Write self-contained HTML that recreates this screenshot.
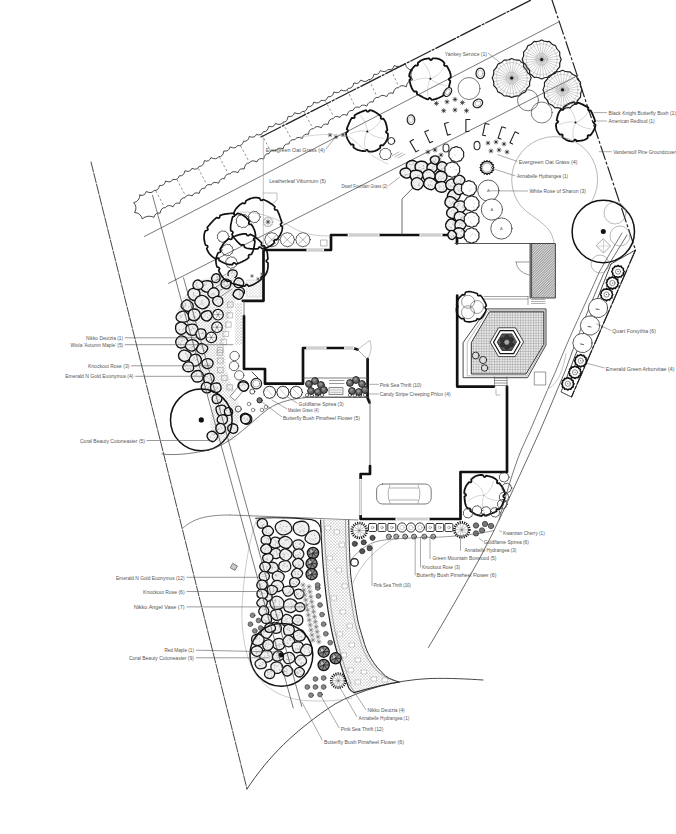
<!DOCTYPE html>
<html><head><meta charset="utf-8"><style>
html,body{margin:0;padding:0;background:#fff;}
svg{display:block;font-family:"Liberation Sans",sans-serif;}
</style></head><body>
<svg width="676" height="834" viewBox="0 0 676 834" stroke-linecap="round" stroke-linejoin="round">
<rect width="676" height="834" fill="#fff"/>
<line x1="91.0" y1="162.0" x2="247.0" y2="789.0" stroke="#333" stroke-width="0.9" stroke-dasharray="10 1.5"/>
<path d="M247,789 C268,757 295,730 335,704 C360,690 395,680 430,678.5 C450,678 468,679 483,680" stroke="#333" stroke-width="0.9" fill="none"/>
<line x1="261.0" y1="137.0" x2="531.0" y2="0.0" stroke="#222" stroke-width="1.3" stroke-dasharray="22 2 2 2"/>
<line x1="552.0" y1="0.0" x2="635.5" y2="250.0" stroke="#222" stroke-width="1.2" stroke-dasharray="14 3 2 3"/>
<line x1="144.4" y1="236.5" x2="558.6" y2="22.0" stroke="#555" stroke-width="0.8"/>
<line x1="168.5" y1="283.4" x2="578.0" y2="75.5" stroke="#555" stroke-width="0.8"/>
<path d="M627,235 C618,250 610,262 603.6,273.7 C590,305 578,335 565.6,370 C555,395 543,425 531.3,450 C515,485 498,525 478.8,560 C462,590 445,620 428.4,647.5" stroke="#444" stroke-width="0.8" fill="none"/>
<path d="M622,233 C613,248 606,260 599.2,272.2 C585,305 570,335 556.2,370 C545,395 533,425 521.2,450 C513,470 506,495 499,520" stroke="#555" stroke-width="0.8" fill="none"/>
<line x1="635.5" y1="250.0" x2="571.5" y2="397.0" stroke="#222" stroke-width="1.2" stroke-dasharray="14 3 2 3"/>
<polyline points="242.8,300.8 263.5,300.8 263.5,250.0 331.0,250.0 331.0,235.0 457.0,235.0 457.0,243.5" stroke="#111" stroke-width="2.7" fill="none"/>
<polyline points="244.0,316.0 244.0,369.0 265.0,369.0 265.0,383.7 303.0,383.7 303.0,348.0 352.8,348.0 357.5,349.5" stroke="#111" stroke-width="2.7" fill="none"/>
<line x1="244.0" y1="301.0" x2="244.0" y2="316.0" stroke="#555" stroke-width="0.8"/>
<polyline points="367.6,359.0 367.6,398.0 369.5,402.5" stroke="#111" stroke-width="2.7" fill="none"/>
<line x1="357.5" y1="349.5" x2="367.0" y2="359.0" stroke="#777" stroke-width="0.6"/>
<path d="M357.5,349.5 L370,340.4 Q373,350 368,358" stroke="#888" stroke-width="0.5" fill="none"/>
<line x1="370.0" y1="400.0" x2="370.0" y2="466.0" stroke="#555" stroke-width="0.8"/>
<polyline points="370.0,466.0 370.0,474.0 360.6,474.0 360.6,519.0 396.0,519.0" stroke="#111" stroke-width="2.7" fill="none"/>
<polyline points="428.8,519.0 460.5,519.0 460.5,472.0 507.0,472.0 507.0,386.6" stroke="#111" stroke-width="2.7" fill="none"/>
<polyline points="457.2,295.6 457.2,386.6 494.0,386.6" stroke="#111" stroke-width="2.7" fill="none"/>
<line x1="349.2" y1="235" x2="378" y2="235" stroke="#fff" stroke-width="3.4"/>
<line x1="349.2" y1="234.2" x2="378.0" y2="234.2" stroke="#777" stroke-width="0.5"/>
<line x1="349.2" y1="235.8" x2="378.0" y2="235.8" stroke="#777" stroke-width="0.5"/>
<line x1="421" y1="235" x2="441" y2="235" stroke="#fff" stroke-width="3.4"/>
<line x1="421.0" y1="234.2" x2="441.0" y2="234.2" stroke="#777" stroke-width="0.5"/>
<line x1="421.0" y1="235.8" x2="441.0" y2="235.8" stroke="#777" stroke-width="0.5"/>
<line x1="308" y1="250" x2="322.5" y2="250" stroke="#fff" stroke-width="3.4"/>
<line x1="308.0" y1="249.2" x2="322.5" y2="249.2" stroke="#777" stroke-width="0.5"/>
<line x1="308.0" y1="250.8" x2="322.5" y2="250.8" stroke="#777" stroke-width="0.5"/>
<line x1="307.8" y1="348" x2="325" y2="348" stroke="#fff" stroke-width="3.4"/>
<line x1="307.8" y1="347.2" x2="325.0" y2="347.2" stroke="#777" stroke-width="0.5"/>
<line x1="307.8" y1="348.8" x2="325.0" y2="348.8" stroke="#777" stroke-width="0.5"/>
<line x1="345.7" y1="348" x2="352.8" y2="348" stroke="#fff" stroke-width="3.4"/>
<line x1="345.7" y1="347.2" x2="352.8" y2="347.2" stroke="#777" stroke-width="0.5"/>
<line x1="345.7" y1="348.8" x2="352.8" y2="348.8" stroke="#777" stroke-width="0.5"/>
<line x1="397" y1="519" x2="428" y2="519" stroke="#fff" stroke-width="3.4"/>
<line x1="397.0" y1="518.2" x2="428.0" y2="518.2" stroke="#777" stroke-width="0.5"/>
<line x1="397.0" y1="519.8" x2="428.0" y2="519.8" stroke="#777" stroke-width="0.5"/>
<line x1="360.5" y1="480.5" x2="360.5" y2="513.5" stroke="#fff" stroke-width="3.4"/>
<line x1="359.7" y1="480.5" x2="359.7" y2="513.5" stroke="#777" stroke-width="0.5"/>
<line x1="361.3" y1="480.5" x2="361.3" y2="513.5" stroke="#777" stroke-width="0.5"/>
<line x1="530.0" y1="243.5" x2="530.0" y2="298.0" stroke="#444" stroke-width="0.9"/>
<line x1="455.0" y1="243.5" x2="532.0" y2="243.5" stroke="#444" stroke-width="0.9"/>
<path d="M516,262 L529,262 M516,262 Q517,272 529,275" stroke="#555" stroke-width="0.6" fill="none"/>
<defs><pattern id="hat" width="1.8" height="1.8" patternUnits="userSpaceOnUse" patternTransform="rotate(45)"><rect width="1.8" height="1.8" fill="#ddd"/><line x1="0" y1="0" x2="0" y2="1.8" stroke="#444" stroke-width="0.8"/></pattern><pattern id="grid" width="2.6" height="2.6" patternUnits="userSpaceOnUse"><rect width="2.6" height="2.6" fill="#e8e8e8"/><path d="M0,0 H2.6 M0,0 V2.6" stroke="#777" stroke-width="0.6"/></pattern><pattern id="stip" width="3" height="3" patternUnits="userSpaceOnUse"><rect width="3" height="3" fill="#fff"/><circle cx="1" cy="1" r="0.55" fill="#777"/><circle cx="2.5" cy="2.4" r="0.45" fill="#888"/></pattern></defs>
<rect x="532" y="243.5" width="23.4" height="54.5" fill="url(#hat)" stroke="#333" stroke-width="0.9"/>
<polygon points="489.8,311.8 543.8,311.8 543.8,344.4 526.0,374.0 471.3,374.0 471.3,342.9" stroke="#333" stroke-width="1.0" fill="url(#grid)"/>
<polygon points="487.5,308.9 546.0,308.9 546.0,345.0 527.5,377.7 463.1,377.7 463.1,343.0" stroke="#333" stroke-width="0.9" fill="none"/>
<polygon points="488.6,310.3 544.9,310.3 544.9,344.7 526.8,375.9 467.2,375.9 467.2,343.0" stroke="#777" stroke-width="0.5" fill="none"/>
<polygon points="523.4,342.2 515.1,356.6 498.5,356.6 490.2,342.2 498.5,327.8 515.1,327.8" stroke="#333" stroke-width="0.9" fill="#fff"/>
<polygon points="520.1,342.2 513.5,353.7 500.2,353.7 493.5,342.2 500.1,330.7 513.5,330.7" stroke="#111" stroke-width="1.2" fill="#fff"/>
<polygon points="516.4,342.2 511.6,350.5 502.0,350.5 497.2,342.2 502.0,333.9 511.6,333.9" stroke="#222" stroke-width="0.8" fill="#555"/>
<circle cx="511.2" cy="344.6" r="2.2" stroke="#222" stroke-width="0.6" fill="#333"/>
<circle cx="506.9" cy="347.2" r="2.2" stroke="#222" stroke-width="0.6" fill="#333"/>
<circle cx="502.5" cy="344.8" r="2.2" stroke="#222" stroke-width="0.6" fill="#333"/>
<circle cx="502.4" cy="339.8" r="2.2" stroke="#222" stroke-width="0.6" fill="#333"/>
<circle cx="506.7" cy="337.2" r="2.2" stroke="#222" stroke-width="0.6" fill="#333"/>
<circle cx="511.1" cy="339.6" r="2.2" stroke="#222" stroke-width="0.6" fill="#333"/>
<circle cx="506.8" cy="342.2" r="2.2" stroke="#999" stroke-width="0.5" fill="#aaa"/>
<line x1="494.5" y1="378.0" x2="507.0" y2="378.0" stroke="#555" stroke-width="0.6"/>
<line x1="494.5" y1="380.5" x2="507.0" y2="380.5" stroke="#555" stroke-width="0.6"/>
<line x1="494.5" y1="383.0" x2="507.0" y2="383.0" stroke="#555" stroke-width="0.6"/>
<line x1="494.5" y1="385.5" x2="507.0" y2="385.5" stroke="#555" stroke-width="0.6"/>
<line x1="494.5" y1="377.0" x2="494.5" y2="387.0" stroke="#555" stroke-width="0.6"/>
<line x1="507.0" y1="377.0" x2="507.0" y2="387.0" stroke="#555" stroke-width="0.6"/>
<path d="M496,389 L496,395 L500,395" stroke="#777" stroke-width="0.5" fill="none"/>
<rect x="534.7" y="372" width="11" height="13" fill="none" stroke="#555" stroke-width="0.6"/>
<path d="M485.1,307.0 L485.1,308.1 L486.3,309.3 L486.0,310.4 L485.6,311.5 L485.1,312.5 L484.6,313.5 L484.1,314.5 L483.5,315.5 L482.8,316.4 L482.1,317.3 L481.3,318.1 L480.4,318.8 L479.4,319.4 L477.7,318.7 L476.8,319.0 L476.3,320.5 L475.3,320.8 L474.2,321.0 L473.2,321.3 L472.1,321.5 L471.0,321.7 L469.9,321.9 L468.8,321.9 L467.6,321.8 L466.5,321.6 L465.4,321.2 L464.4,320.7 L464.1,319.0 L463.2,318.4 L461.6,318.8 L460.7,318.1 L459.8,317.4 L459.0,316.6 L458.2,315.7 L457.6,314.7 L457.1,313.7 L456.7,312.6 L456.5,311.5 L456.4,310.3 L456.4,309.2 L456.4,308.1 L457.8,307.0 L457.9,306.0 L456.6,304.8 L456.7,303.7 L456.9,302.7 L457.2,301.6 L457.6,300.5 L458.1,299.5 L458.7,298.6 L459.4,297.7 L460.1,296.9 L460.9,296.1 L461.7,295.3 L462.5,294.6 L464.1,295.0 L464.9,294.4 L465.3,292.6 L466.4,292.1 L467.5,291.8 L468.7,291.6 L469.8,291.6 L471.0,291.7 L472.1,292.0 L473.2,292.2 L474.3,292.6 L475.4,292.9 L476.4,293.3 L477.4,293.7 L477.7,295.3 L478.6,295.8 L480.3,295.4 L481.1,296.1 L481.8,297.0 L482.4,297.9 L483.0,298.8 L483.6,299.7 L484.1,300.7 L484.7,301.6 L485.2,302.6 L485.7,303.7 L486.1,304.7 L486.4,305.8Z" stroke="#111" stroke-width="1.6" fill="none"/>
<circle cx="477.0" cy="307.0" r="6.5" stroke="#555" stroke-width="0.6" fill="none"/>
<circle cx="468.0" cy="312.2" r="6.5" stroke="#555" stroke-width="0.6" fill="none"/>
<circle cx="468.1" cy="301.8" r="6.5" stroke="#555" stroke-width="0.6" fill="none"/>
<circle cx="475.7" cy="355.5" r="3.4" stroke="#222" stroke-width="0.9" fill="#ddd"/>
<circle cx="483.1" cy="360.0" r="3.6" stroke="#222" stroke-width="0.9" fill="#ddd"/>
<circle cx="484.6" cy="368.0" r="3.2" stroke="#222" stroke-width="0.9" fill="#ddd"/>
<rect x="376.6" y="484" width="54.6" height="20" rx="6" fill="none" stroke="#444" stroke-width="0.7"/>
<path d="M390,485 Q386,494 390,503 M418,485 Q422,494 418,503 M390,488 L418,488 M390,500 L418,500" stroke="#666" stroke-width="0.5" fill="none"/>
<path d="M140.0,195.1 Q144.8,196.5 146.3,191.5 Q151.9,194.2 154.0,190.4 Q158.5,191.1 159.6,185.4 Q164.3,186.4 165.6,181.0 Q170.9,183.4 172.9,179.3 Q177.8,180.8 179.3,175.8 Q183.8,176.5 184.9,170.8 Q190.1,172.7 191.9,168.4 Q197.2,170.6 199.1,166.4 Q203.4,166.7 204.4,160.7 Q209.3,162.3 210.9,157.6 Q216.5,160.3 218.7,156.7 Q223.0,157.0 223.9,150.9 Q228.7,152.1 230.0,146.9 Q235.5,149.4 237.6,145.5 Q242.3,146.6 243.5,141.2 Q248.1,142.0 249.3,136.5 Q254.6,138.6 256.5,134.4 Q261.6,136.2 263.3,131.7 Q267.7,132.1 268.7,126.3 Q273.7,128.0 275.4,123.4 Q280.9,126.0 283.0,122.2 Q287.3,122.4 288.1,116.3 Q293.0,117.6 294.5,112.7 Q300.0,115.2 302.1,111.5 Q306.6,112.2 307.7,106.5 Q312.4,107.5 313.7,102.1 Q319.0,104.4 321.0,100.3 Q326.3,101.7 328.1,96.7 Q332.5,97.6 333.9,91.9 Q339.0,94.2 341.0,89.9 Q346.2,92.4 348.3,88.3 Q352.6,88.9 353.9,82.9 Q358.8,84.8 360.6,80.1 Q366.0,83.1 368.4,79.6 Q372.7,80.1 374.0,74.2 Q378.6,75.6 380.3,70.5 Q385.6,73.2 387.9,69.5 Q392.5,70.8 394.1,65.6 Q400.1,68.2 405.3,63.7 Q406.4,69.6 412.4,70.2 Q409.0,75.2 412.8,79.8 Q406.9,80.9 406.3,86.9 Q400.9,84.0 398.6,87.7 Q394.4,87.2 393.2,93.3 Q388.4,91.7 386.7,96.6 Q381.3,93.7 379.0,97.4 Q374.5,96.4 373.1,102.0 Q368.5,100.8 366.9,106.1 Q361.7,103.5 359.5,107.4 Q354.7,105.7 352.9,110.5 Q348.4,109.6 347.1,115.3 Q342.0,113.1 340.0,117.4 Q335.1,114.8 333.2,118.7 Q328.9,118.4 328.0,124.4 Q323.0,122.9 321.4,127.7 Q315.9,125.0 313.7,128.7 Q309.3,128.3 308.4,134.3 Q303.7,133.2 302.3,138.4 Q296.9,135.9 294.8,139.8 Q290.1,138.7 288.8,144.0 Q284.2,143.2 283.1,148.8 Q277.8,146.7 275.9,150.9 Q270.8,149.1 269.0,153.6 Q264.7,153.1 263.7,159.0 Q258.6,157.3 256.9,161.9 Q251.4,159.3 249.3,163.0 Q245.0,162.8 244.2,169.0 Q239.3,167.7 237.9,172.7 Q232.3,170.1 230.2,173.9 Q225.7,173.1 224.5,178.7 Q219.9,177.8 218.6,183.2 Q213.2,180.9 211.3,184.9 Q206.3,183.4 204.8,188.3 Q200.3,187.7 199.2,193.4 Q194.1,191.5 192.3,195.9 Q186.9,193.6 185.0,197.7 Q180.7,197.4 179.7,203.4 Q174.8,201.9 173.2,206.7 Q167.7,204.0 165.5,207.6 Q161.1,207.2 160.1,213.2 Q155.4,212.1 154.0,217.3 Q147.5,214.5 142.2,218.8 Q140.7,212.9 134.6,212.5 Q137.7,207.3 133.7,202.7 Q139.6,201.2 140.0,195.1Z" stroke="#2a2a2a" stroke-width="0.85" fill="none"/>
<line x1="156.0" y1="191.2" x2="164.3" y2="206.8" stroke="#444" stroke-width="0.6" stroke-dasharray="1.5 3"/>
<line x1="177.2" y1="180.0" x2="185.5" y2="195.6" stroke="#444" stroke-width="0.6" stroke-dasharray="1.5 3"/>
<line x1="198.4" y1="168.8" x2="206.7" y2="184.3" stroke="#444" stroke-width="0.6" stroke-dasharray="1.5 3"/>
<line x1="219.6" y1="157.5" x2="227.9" y2="173.1" stroke="#444" stroke-width="0.6" stroke-dasharray="1.5 3"/>
<line x1="240.8" y1="146.2" x2="249.1" y2="161.8" stroke="#444" stroke-width="0.6" stroke-dasharray="1.5 3"/>
<line x1="261.9" y1="134.9" x2="270.3" y2="150.4" stroke="#444" stroke-width="0.6" stroke-dasharray="1.5 3"/>
<line x1="283.1" y1="123.6" x2="291.4" y2="139.1" stroke="#444" stroke-width="0.6" stroke-dasharray="1.5 3"/>
<line x1="304.3" y1="112.3" x2="312.6" y2="127.8" stroke="#444" stroke-width="0.6" stroke-dasharray="1.5 3"/>
<line x1="325.4" y1="101.0" x2="333.7" y2="116.5" stroke="#444" stroke-width="0.6" stroke-dasharray="1.5 3"/>
<line x1="347.6" y1="90.6" x2="355.0" y2="106.6" stroke="#444" stroke-width="0.6" stroke-dasharray="1.5 3"/>
<line x1="369.4" y1="80.5" x2="376.8" y2="96.4" stroke="#444" stroke-width="0.6" stroke-dasharray="1.5 3"/>
<line x1="391.2" y1="70.4" x2="398.6" y2="86.3" stroke="#444" stroke-width="0.6" stroke-dasharray="1.5 3"/>
<path d="M449.0,78.7 L448.9,79.7 L450.3,80.9 L450.1,82.0 L449.9,83.1 L449.6,84.2 L449.4,85.3 L449.1,86.5 L448.9,87.6 L448.5,88.7 L448.1,89.8 L447.6,90.9 L447.0,91.9 L446.3,92.9 L444.3,92.6 L443.5,93.4 L443.6,95.3 L442.6,95.9 L441.6,96.5 L440.5,97.0 L439.5,97.5 L438.4,98.0 L437.3,98.4 L436.2,98.8 L435.1,99.2 L433.9,99.5 L432.8,99.7 L431.6,99.8 L430.4,98.2 L429.3,98.0 L428.1,99.4 L426.9,99.1 L425.8,98.7 L424.8,98.2 L423.8,97.7 L422.8,97.2 L421.8,96.6 L420.8,96.1 L419.8,95.6 L418.8,95.0 L417.8,94.5 L416.9,93.9 L417.0,92.1 L416.2,91.4 L414.2,91.6 L413.4,90.7 L412.7,89.8 L412.2,88.8 L411.6,87.7 L411.2,86.7 L410.8,85.6 L410.5,84.4 L410.2,83.3 L409.9,82.2 L409.6,81.0 L409.4,79.9 L410.8,78.7 L410.7,77.6 L409.2,76.3 L409.3,75.1 L409.5,73.9 L409.9,72.8 L410.3,71.7 L410.9,70.6 L411.6,69.6 L412.3,68.7 L413.0,67.8 L413.8,66.9 L414.6,66.1 L415.4,65.3 L417.3,65.6 L418.0,64.9 L417.8,62.9 L418.7,62.2 L419.6,61.5 L420.5,60.8 L421.5,60.2 L422.6,59.8 L423.6,59.4 L424.7,59.0 L425.9,58.8 L427.0,58.6 L428.1,58.5 L429.3,58.4 L430.4,60.0 L431.5,59.9 L432.7,58.3 L433.9,58.3 L435.1,58.3 L436.2,58.4 L437.4,58.6 L438.6,58.9 L439.7,59.3 L440.8,59.9 L441.8,60.5 L442.8,61.3 L443.6,62.1 L444.4,63.0 L444.1,65.0 L444.7,65.9 L446.6,65.8 L447.2,66.8 L447.8,67.8 L448.4,68.8 L448.9,69.8 L449.4,70.8 L449.9,71.9 L450.2,73.0 L450.5,74.1 L450.7,75.3 L450.8,76.4 L450.7,77.6Z" stroke="#111" stroke-width="1.8" fill="none"/>
<path d="M430.4,78.7 Q436.2,84.6 446.6,85.6" stroke="#999" stroke-width="0.4" fill="none"/>
<path d="M430.4,78.7 Q426.2,85.8 428.1,96.1" stroke="#999" stroke-width="0.4" fill="none"/>
<path d="M430.4,78.7 Q422.4,76.6 413.0,81.2" stroke="#999" stroke-width="0.4" fill="none"/>
<path d="M430.4,78.7 Q430.3,70.4 423.3,62.6" stroke="#999" stroke-width="0.4" fill="none"/>
<path d="M430.4,78.7 Q438.4,76.4 444.0,67.6" stroke="#999" stroke-width="0.4" fill="none"/>
<circle cx="430.4" cy="78.7" r="1.0" fill="#111"/>
<path d="M386.0,131.5 L386.2,132.6 L387.9,133.8 L387.9,135.0 L387.9,136.2 L387.7,137.4 L387.4,138.5 L387.0,139.7 L386.5,140.8 L385.9,141.8 L385.2,142.8 L384.5,143.7 L383.7,144.6 L382.9,145.4 L380.9,145.1 L380.1,145.9 L380.3,147.8 L379.4,148.6 L378.4,149.2 L377.5,149.9 L376.4,150.4 L375.3,150.9 L374.2,151.2 L373.1,151.5 L371.9,151.6 L370.7,151.7 L369.6,151.7 L368.4,151.6 L367.3,149.9 L366.3,149.8 L365.1,151.2 L364.0,151.1 L362.8,151.0 L361.7,150.9 L360.6,150.7 L359.5,150.4 L358.3,150.1 L357.2,149.7 L356.2,149.2 L355.2,148.6 L354.2,147.9 L353.4,147.1 L353.7,145.1 L352.9,144.3 L351.0,144.5 L350.3,143.5 L349.6,142.6 L349.0,141.6 L348.4,140.6 L347.8,139.6 L347.3,138.5 L346.8,137.4 L346.5,136.3 L346.2,135.1 L346.1,133.9 L346.1,132.7 L347.8,131.5 L348.0,130.4 L346.7,129.2 L347.1,128.1 L347.5,127.0 L347.9,125.9 L348.4,124.9 L348.8,123.8 L349.2,122.8 L349.7,121.8 L350.2,120.7 L350.7,119.7 L351.3,118.8 L352.0,117.8 L353.9,118.1 L354.7,117.4 L354.5,115.4 L355.4,114.8 L356.4,114.2 L357.4,113.6 L358.5,113.1 L359.5,112.6 L360.5,112.2 L361.6,111.7 L362.7,111.3 L363.8,110.9 L364.9,110.5 L366.1,110.2 L367.3,111.7 L368.4,111.6 L369.7,110.1 L370.9,110.3 L372.1,110.6 L373.2,111.1 L374.3,111.6 L375.3,112.2 L376.3,112.8 L377.3,113.5 L378.2,114.1 L379.1,114.8 L380.0,115.5 L380.9,116.2 L380.7,118.1 L381.4,118.9 L383.4,118.7 L384.1,119.6 L384.7,120.6 L385.2,121.6 L385.7,122.7 L386.0,123.7 L386.3,124.8 L386.6,125.9 L386.8,127.0 L387.0,128.1 L387.2,129.3 L387.4,130.4Z" stroke="#111" stroke-width="1.8" fill="none"/>
<path d="M367.3,131.5 Q373.1,137.4 383.5,138.4" stroke="#999" stroke-width="0.4" fill="none"/>
<path d="M367.3,131.5 Q363.1,138.6 365.0,148.9" stroke="#999" stroke-width="0.4" fill="none"/>
<path d="M367.3,131.5 Q359.3,129.4 349.9,134.0" stroke="#999" stroke-width="0.4" fill="none"/>
<path d="M367.3,131.5 Q367.2,123.2 360.2,115.4" stroke="#999" stroke-width="0.4" fill="none"/>
<path d="M367.3,131.5 Q375.3,129.2 380.9,120.4" stroke="#999" stroke-width="0.4" fill="none"/>
<circle cx="367.3" cy="131.5" r="1.0" fill="#111"/>
<path d="M593.7,122.4 L593.9,123.4 L595.5,124.6 L595.4,125.8 L595.1,126.9 L594.8,128.0 L594.4,129.0 L593.9,130.0 L593.3,131.0 L592.8,131.9 L592.1,132.9 L591.5,133.8 L590.8,134.6 L590.1,135.5 L588.3,135.2 L587.6,135.9 L587.8,137.8 L586.9,138.5 L586.0,139.1 L585.0,139.6 L584.0,140.0 L582.9,140.3 L581.8,140.5 L580.8,140.7 L579.7,140.8 L578.6,140.9 L577.6,141.0 L576.6,141.1 L575.5,139.6 L574.5,139.7 L573.4,141.4 L572.3,141.4 L571.2,141.3 L570.1,141.2 L569.0,141.0 L567.9,140.6 L566.9,140.2 L565.9,139.7 L565.0,139.1 L564.1,138.5 L563.2,137.8 L562.4,137.0 L562.7,135.2 L562.0,134.4 L560.1,134.7 L559.3,133.9 L558.6,133.0 L558.0,132.1 L557.4,131.1 L556.9,130.1 L556.5,129.0 L556.3,127.9 L556.1,126.8 L556.0,125.7 L556.1,124.6 L556.2,123.5 L557.9,122.4 L558.1,121.4 L556.7,120.3 L556.9,119.2 L557.1,118.2 L557.3,117.2 L557.6,116.1 L557.9,115.1 L558.2,114.1 L558.6,113.1 L559.1,112.1 L559.7,111.2 L560.3,110.3 L561.1,109.5 L563.0,109.9 L563.7,109.2 L563.5,107.3 L564.4,106.7 L565.2,106.0 L566.1,105.4 L567.0,104.8 L568.0,104.2 L568.9,103.7 L570.0,103.2 L571.0,102.8 L572.1,102.5 L573.2,102.3 L574.4,102.2 L575.5,103.8 L576.5,103.9 L577.7,102.6 L578.8,102.9 L579.9,103.3 L580.9,103.7 L581.9,104.2 L582.9,104.6 L583.8,105.1 L584.8,105.6 L585.7,106.1 L586.7,106.7 L587.6,107.3 L588.4,108.0 L588.1,109.8 L588.7,110.6 L590.6,110.4 L591.1,111.3 L591.6,112.3 L592.1,113.2 L592.5,114.2 L592.9,115.2 L593.3,116.2 L593.7,117.1 L594.1,118.2 L594.5,119.2 L594.8,120.2 L595.1,121.3Z" stroke="#111" stroke-width="1.8" fill="none"/>
<path d="M575.5,122.4 Q580.9,128.0 590.8,128.9" stroke="#999" stroke-width="0.4" fill="none"/>
<path d="M575.5,122.4 Q571.6,129.1 573.4,138.8" stroke="#999" stroke-width="0.4" fill="none"/>
<path d="M575.5,122.4 Q568.0,120.4 559.1,124.7" stroke="#999" stroke-width="0.4" fill="none"/>
<path d="M575.5,122.4 Q575.4,114.6 568.9,107.2" stroke="#999" stroke-width="0.4" fill="none"/>
<path d="M575.5,122.4 Q583.0,120.2 588.4,111.9" stroke="#999" stroke-width="0.4" fill="none"/>
<circle cx="575.5" cy="122.4" r="1.0" fill="#111"/>
<line x1="541.7" y1="59.4" x2="559.6" y2="59.4" stroke="#808080" stroke-width="0.38"/>
<line x1="541.7" y1="59.4" x2="559.2" y2="63.1" stroke="#808080" stroke-width="0.38"/>
<line x1="541.7" y1="59.4" x2="558.1" y2="66.7" stroke="#808080" stroke-width="0.38"/>
<line x1="541.7" y1="59.4" x2="556.2" y2="69.9" stroke="#808080" stroke-width="0.38"/>
<line x1="541.7" y1="59.4" x2="553.7" y2="72.7" stroke="#808080" stroke-width="0.38"/>
<line x1="541.7" y1="59.4" x2="550.7" y2="74.9" stroke="#808080" stroke-width="0.38"/>
<line x1="541.7" y1="59.4" x2="547.2" y2="76.5" stroke="#808080" stroke-width="0.38"/>
<line x1="541.7" y1="59.4" x2="543.6" y2="77.2" stroke="#808080" stroke-width="0.38"/>
<line x1="541.7" y1="59.4" x2="539.8" y2="77.2" stroke="#808080" stroke-width="0.38"/>
<line x1="541.7" y1="59.4" x2="536.2" y2="76.5" stroke="#808080" stroke-width="0.38"/>
<line x1="541.7" y1="59.4" x2="532.7" y2="74.9" stroke="#808080" stroke-width="0.38"/>
<line x1="541.7" y1="59.4" x2="529.7" y2="72.7" stroke="#808080" stroke-width="0.38"/>
<line x1="541.7" y1="59.4" x2="527.2" y2="69.9" stroke="#808080" stroke-width="0.38"/>
<line x1="541.7" y1="59.4" x2="525.3" y2="66.7" stroke="#808080" stroke-width="0.38"/>
<line x1="541.7" y1="59.4" x2="524.2" y2="63.1" stroke="#808080" stroke-width="0.38"/>
<line x1="541.7" y1="59.4" x2="523.8" y2="59.4" stroke="#808080" stroke-width="0.38"/>
<line x1="541.7" y1="59.4" x2="524.2" y2="55.7" stroke="#808080" stroke-width="0.38"/>
<line x1="541.7" y1="59.4" x2="525.3" y2="52.1" stroke="#808080" stroke-width="0.38"/>
<line x1="541.7" y1="59.4" x2="527.2" y2="48.9" stroke="#808080" stroke-width="0.38"/>
<line x1="541.7" y1="59.4" x2="529.7" y2="46.1" stroke="#808080" stroke-width="0.38"/>
<line x1="541.7" y1="59.4" x2="532.7" y2="43.9" stroke="#808080" stroke-width="0.38"/>
<line x1="541.7" y1="59.4" x2="536.2" y2="42.3" stroke="#808080" stroke-width="0.38"/>
<line x1="541.7" y1="59.4" x2="539.8" y2="41.6" stroke="#808080" stroke-width="0.38"/>
<line x1="541.7" y1="59.4" x2="543.6" y2="41.6" stroke="#808080" stroke-width="0.38"/>
<line x1="541.7" y1="59.4" x2="547.2" y2="42.3" stroke="#808080" stroke-width="0.38"/>
<line x1="541.7" y1="59.4" x2="550.7" y2="43.9" stroke="#808080" stroke-width="0.38"/>
<line x1="541.7" y1="59.4" x2="553.7" y2="46.1" stroke="#808080" stroke-width="0.38"/>
<line x1="541.7" y1="59.4" x2="556.2" y2="48.9" stroke="#808080" stroke-width="0.38"/>
<line x1="541.7" y1="59.4" x2="558.1" y2="52.1" stroke="#808080" stroke-width="0.38"/>
<line x1="541.7" y1="59.4" x2="559.2" y2="55.7" stroke="#808080" stroke-width="0.38"/>
<circle cx="541.7" cy="59.4" r="15.6" stroke="#999" stroke-width="0.4" fill="none"/>
<circle cx="541.7" cy="59.4" r="5.8" stroke="#999" stroke-width="0.4" fill="none"/>
<path d="M561.2,59.4 Q559.1,62.9 559.7,66.9 Q556.5,69.3 555.5,73.2 Q551.6,74.2 549.2,77.4 Q545.2,76.8 541.7,78.9 Q538.2,76.8 534.2,77.4 Q531.8,74.2 527.9,73.2 Q526.9,69.3 523.7,66.9 Q524.3,62.9 522.2,59.4 Q524.3,55.9 523.7,51.9 Q526.9,49.5 527.9,45.6 Q531.8,44.6 534.2,41.4 Q538.2,42.0 541.7,39.9 Q545.2,42.0 549.2,41.4 Q551.6,44.6 555.5,45.6 Q556.5,49.5 559.7,51.9 Q559.1,55.9 561.2,59.4Z" stroke="#222" stroke-width="1.2" fill="none"/>
<circle cx="541.7" cy="59.4" r="1.5" fill="#111"/>
<line x1="511.7" y1="78.0" x2="529.6" y2="78.0" stroke="#808080" stroke-width="0.38"/>
<line x1="511.7" y1="78.0" x2="529.2" y2="81.7" stroke="#808080" stroke-width="0.38"/>
<line x1="511.7" y1="78.0" x2="528.1" y2="85.3" stroke="#808080" stroke-width="0.38"/>
<line x1="511.7" y1="78.0" x2="526.2" y2="88.5" stroke="#808080" stroke-width="0.38"/>
<line x1="511.7" y1="78.0" x2="523.7" y2="91.3" stroke="#808080" stroke-width="0.38"/>
<line x1="511.7" y1="78.0" x2="520.7" y2="93.5" stroke="#808080" stroke-width="0.38"/>
<line x1="511.7" y1="78.0" x2="517.2" y2="95.1" stroke="#808080" stroke-width="0.38"/>
<line x1="511.7" y1="78.0" x2="513.6" y2="95.8" stroke="#808080" stroke-width="0.38"/>
<line x1="511.7" y1="78.0" x2="509.8" y2="95.8" stroke="#808080" stroke-width="0.38"/>
<line x1="511.7" y1="78.0" x2="506.2" y2="95.1" stroke="#808080" stroke-width="0.38"/>
<line x1="511.7" y1="78.0" x2="502.7" y2="93.5" stroke="#808080" stroke-width="0.38"/>
<line x1="511.7" y1="78.0" x2="499.7" y2="91.3" stroke="#808080" stroke-width="0.38"/>
<line x1="511.7" y1="78.0" x2="497.2" y2="88.5" stroke="#808080" stroke-width="0.38"/>
<line x1="511.7" y1="78.0" x2="495.3" y2="85.3" stroke="#808080" stroke-width="0.38"/>
<line x1="511.7" y1="78.0" x2="494.2" y2="81.7" stroke="#808080" stroke-width="0.38"/>
<line x1="511.7" y1="78.0" x2="493.8" y2="78.0" stroke="#808080" stroke-width="0.38"/>
<line x1="511.7" y1="78.0" x2="494.2" y2="74.3" stroke="#808080" stroke-width="0.38"/>
<line x1="511.7" y1="78.0" x2="495.3" y2="70.7" stroke="#808080" stroke-width="0.38"/>
<line x1="511.7" y1="78.0" x2="497.2" y2="67.5" stroke="#808080" stroke-width="0.38"/>
<line x1="511.7" y1="78.0" x2="499.7" y2="64.7" stroke="#808080" stroke-width="0.38"/>
<line x1="511.7" y1="78.0" x2="502.7" y2="62.5" stroke="#808080" stroke-width="0.38"/>
<line x1="511.7" y1="78.0" x2="506.2" y2="60.9" stroke="#808080" stroke-width="0.38"/>
<line x1="511.7" y1="78.0" x2="509.8" y2="60.2" stroke="#808080" stroke-width="0.38"/>
<line x1="511.7" y1="78.0" x2="513.6" y2="60.2" stroke="#808080" stroke-width="0.38"/>
<line x1="511.7" y1="78.0" x2="517.2" y2="60.9" stroke="#808080" stroke-width="0.38"/>
<line x1="511.7" y1="78.0" x2="520.7" y2="62.5" stroke="#808080" stroke-width="0.38"/>
<line x1="511.7" y1="78.0" x2="523.7" y2="64.7" stroke="#808080" stroke-width="0.38"/>
<line x1="511.7" y1="78.0" x2="526.2" y2="67.5" stroke="#808080" stroke-width="0.38"/>
<line x1="511.7" y1="78.0" x2="528.1" y2="70.7" stroke="#808080" stroke-width="0.38"/>
<line x1="511.7" y1="78.0" x2="529.2" y2="74.3" stroke="#808080" stroke-width="0.38"/>
<circle cx="511.7" cy="78.0" r="15.6" stroke="#999" stroke-width="0.4" fill="none"/>
<circle cx="511.7" cy="78.0" r="5.8" stroke="#999" stroke-width="0.4" fill="none"/>
<path d="M531.2,78.0 Q529.1,81.5 529.7,85.5 Q526.5,87.9 525.5,91.8 Q521.6,92.8 519.2,96.0 Q515.2,95.4 511.7,97.5 Q508.2,95.4 504.2,96.0 Q501.8,92.8 497.9,91.8 Q496.9,87.9 493.7,85.5 Q494.3,81.5 492.2,78.0 Q494.3,74.5 493.7,70.5 Q496.9,68.1 497.9,64.2 Q501.8,63.2 504.2,60.0 Q508.2,60.6 511.7,58.5 Q515.2,60.6 519.2,60.0 Q521.6,63.2 525.5,64.2 Q526.5,68.1 529.7,70.5 Q529.1,74.5 531.2,78.0Z" stroke="#222" stroke-width="1.2" fill="none"/>
<circle cx="511.7" cy="78.0" r="1.5" fill="#111"/>
<line x1="562.5" y1="89.8" x2="580.4" y2="89.8" stroke="#808080" stroke-width="0.38"/>
<line x1="562.5" y1="89.8" x2="580.0" y2="93.5" stroke="#808080" stroke-width="0.38"/>
<line x1="562.5" y1="89.8" x2="578.9" y2="97.1" stroke="#808080" stroke-width="0.38"/>
<line x1="562.5" y1="89.8" x2="577.0" y2="100.3" stroke="#808080" stroke-width="0.38"/>
<line x1="562.5" y1="89.8" x2="574.5" y2="103.1" stroke="#808080" stroke-width="0.38"/>
<line x1="562.5" y1="89.8" x2="571.5" y2="105.3" stroke="#808080" stroke-width="0.38"/>
<line x1="562.5" y1="89.8" x2="568.0" y2="106.9" stroke="#808080" stroke-width="0.38"/>
<line x1="562.5" y1="89.8" x2="564.4" y2="107.6" stroke="#808080" stroke-width="0.38"/>
<line x1="562.5" y1="89.8" x2="560.6" y2="107.6" stroke="#808080" stroke-width="0.38"/>
<line x1="562.5" y1="89.8" x2="557.0" y2="106.9" stroke="#808080" stroke-width="0.38"/>
<line x1="562.5" y1="89.8" x2="553.5" y2="105.3" stroke="#808080" stroke-width="0.38"/>
<line x1="562.5" y1="89.8" x2="550.5" y2="103.1" stroke="#808080" stroke-width="0.38"/>
<line x1="562.5" y1="89.8" x2="548.0" y2="100.3" stroke="#808080" stroke-width="0.38"/>
<line x1="562.5" y1="89.8" x2="546.1" y2="97.1" stroke="#808080" stroke-width="0.38"/>
<line x1="562.5" y1="89.8" x2="545.0" y2="93.5" stroke="#808080" stroke-width="0.38"/>
<line x1="562.5" y1="89.8" x2="544.6" y2="89.8" stroke="#808080" stroke-width="0.38"/>
<line x1="562.5" y1="89.8" x2="545.0" y2="86.1" stroke="#808080" stroke-width="0.38"/>
<line x1="562.5" y1="89.8" x2="546.1" y2="82.5" stroke="#808080" stroke-width="0.38"/>
<line x1="562.5" y1="89.8" x2="548.0" y2="79.3" stroke="#808080" stroke-width="0.38"/>
<line x1="562.5" y1="89.8" x2="550.5" y2="76.5" stroke="#808080" stroke-width="0.38"/>
<line x1="562.5" y1="89.8" x2="553.5" y2="74.3" stroke="#808080" stroke-width="0.38"/>
<line x1="562.5" y1="89.8" x2="557.0" y2="72.7" stroke="#808080" stroke-width="0.38"/>
<line x1="562.5" y1="89.8" x2="560.6" y2="72.0" stroke="#808080" stroke-width="0.38"/>
<line x1="562.5" y1="89.8" x2="564.4" y2="72.0" stroke="#808080" stroke-width="0.38"/>
<line x1="562.5" y1="89.8" x2="568.0" y2="72.7" stroke="#808080" stroke-width="0.38"/>
<line x1="562.5" y1="89.8" x2="571.5" y2="74.3" stroke="#808080" stroke-width="0.38"/>
<line x1="562.5" y1="89.8" x2="574.5" y2="76.5" stroke="#808080" stroke-width="0.38"/>
<line x1="562.5" y1="89.8" x2="577.0" y2="79.3" stroke="#808080" stroke-width="0.38"/>
<line x1="562.5" y1="89.8" x2="578.9" y2="82.5" stroke="#808080" stroke-width="0.38"/>
<line x1="562.5" y1="89.8" x2="580.0" y2="86.1" stroke="#808080" stroke-width="0.38"/>
<circle cx="562.5" cy="89.8" r="15.6" stroke="#999" stroke-width="0.4" fill="none"/>
<circle cx="562.5" cy="89.8" r="5.8" stroke="#999" stroke-width="0.4" fill="none"/>
<path d="M582.0,89.8 Q579.9,93.3 580.5,97.3 Q577.3,99.7 576.3,103.6 Q572.4,104.6 570.0,107.8 Q566.0,107.2 562.5,109.3 Q559.0,107.2 555.0,107.8 Q552.6,104.6 548.7,103.6 Q547.7,99.7 544.5,97.3 Q545.1,93.3 543.0,89.8 Q545.1,86.3 544.5,82.3 Q547.7,79.9 548.7,76.0 Q552.6,75.0 555.0,71.8 Q559.0,72.4 562.5,70.3 Q566.0,72.4 570.0,71.8 Q572.4,75.0 576.3,76.0 Q577.3,79.9 580.5,82.3 Q579.9,86.3 582.0,89.8Z" stroke="#222" stroke-width="1.2" fill="none"/>
<circle cx="562.5" cy="89.8" r="1.5" fill="#111"/>
<circle cx="528.0" cy="100.3" r="10.5" stroke="#444" stroke-width="0.7" fill="none"/>
<circle cx="541.7" cy="112.5" r="10.5" stroke="#444" stroke-width="0.7" fill="none"/>
<circle cx="469.0" cy="88.5" r="11.0" stroke="#444" stroke-width="0.7" fill="none"/>
<ellipse cx="0" cy="0" rx="4.3" ry="5.3" transform="translate(480.3,73.4) rotate(0)" fill="#fff" stroke="#222" stroke-width="1.2"/>
<ellipse cx="0" cy="0" rx="2.6" ry="3.2" transform="translate(480.3,73.4) rotate(0)" fill="none" stroke="#888" stroke-width="0.5"/>
<ellipse cx="0" cy="0" rx="5" ry="4" transform="translate(477.9,103.4) rotate(-30)" fill="#fff" stroke="#222" stroke-width="1.2"/>
<ellipse cx="0" cy="0" rx="3.0" ry="2.4" transform="translate(477.9,103.4) rotate(-30)" fill="none" stroke="#888" stroke-width="0.5"/>
<ellipse cx="0" cy="0" rx="3.8" ry="4.8" transform="translate(411,119.7) rotate(0)" fill="#fff" stroke="#222" stroke-width="1.2"/>
<ellipse cx="0" cy="0" rx="2.3" ry="2.9" transform="translate(411,119.7) rotate(0)" fill="none" stroke="#888" stroke-width="0.5"/>
<ellipse cx="0" cy="0" rx="3.2" ry="5" transform="translate(447.8,92) rotate(35)" fill="#fff" stroke="#222" stroke-width="1.2"/>
<ellipse cx="0" cy="0" rx="1.9" ry="3.0" transform="translate(447.8,92) rotate(35)" fill="none" stroke="#888" stroke-width="0.5"/>
<ellipse cx="477" cy="145.6" rx="3" ry="4.2" fill="none" stroke="#333" stroke-width="1.1"/>
<ellipse cx="446" cy="148" rx="3" ry="4" fill="none" stroke="#333" stroke-width="1.1"/>
<path d="M592,201 A43,43 0 1,0 518,202 C528,218 552,222 554,243" stroke="#888" stroke-width="0.6" fill="none"/>
<circle cx="436.4" cy="103.4" r="0.9" fill="#333"/>
<line x1="434.3" y1="103.4" x2="438.5" y2="103.4" stroke="#333" stroke-width="0.7"/>
<line x1="434.9" y1="101.9" x2="437.9" y2="104.9" stroke="#333" stroke-width="0.7"/>
<line x1="436.4" y1="101.3" x2="436.4" y2="105.5" stroke="#333" stroke-width="0.7"/>
<line x1="437.9" y1="101.9" x2="434.9" y2="104.9" stroke="#333" stroke-width="0.7"/>
<circle cx="447.0" cy="101.8" r="0.9" fill="#333"/>
<line x1="444.9" y1="101.8" x2="449.1" y2="101.8" stroke="#333" stroke-width="0.7"/>
<line x1="445.5" y1="100.3" x2="448.5" y2="103.3" stroke="#333" stroke-width="0.7"/>
<line x1="447.0" y1="99.7" x2="447.0" y2="103.9" stroke="#333" stroke-width="0.7"/>
<line x1="448.5" y1="100.3" x2="445.5" y2="103.3" stroke="#333" stroke-width="0.7"/>
<circle cx="455.0" cy="99.4" r="0.9" fill="#333"/>
<line x1="452.9" y1="99.4" x2="457.1" y2="99.4" stroke="#333" stroke-width="0.7"/>
<line x1="453.5" y1="97.9" x2="456.5" y2="100.9" stroke="#333" stroke-width="0.7"/>
<line x1="455.0" y1="97.3" x2="455.0" y2="101.5" stroke="#333" stroke-width="0.7"/>
<line x1="456.5" y1="97.9" x2="453.5" y2="100.9" stroke="#333" stroke-width="0.7"/>
<circle cx="462.4" cy="102.6" r="0.9" fill="#333"/>
<line x1="460.3" y1="102.6" x2="464.5" y2="102.6" stroke="#333" stroke-width="0.7"/>
<line x1="460.9" y1="101.1" x2="463.9" y2="104.1" stroke="#333" stroke-width="0.7"/>
<line x1="462.4" y1="100.5" x2="462.4" y2="104.7" stroke="#333" stroke-width="0.7"/>
<line x1="463.9" y1="101.1" x2="460.9" y2="104.1" stroke="#333" stroke-width="0.7"/>
<circle cx="443.7" cy="110.7" r="0.9" fill="#333"/>
<line x1="441.6" y1="110.7" x2="445.8" y2="110.7" stroke="#333" stroke-width="0.7"/>
<line x1="442.2" y1="109.2" x2="445.2" y2="112.2" stroke="#333" stroke-width="0.7"/>
<line x1="443.7" y1="108.6" x2="443.7" y2="112.8" stroke="#333" stroke-width="0.7"/>
<line x1="445.2" y1="109.2" x2="442.2" y2="112.2" stroke="#333" stroke-width="0.7"/>
<circle cx="455.0" cy="110.0" r="0.9" fill="#333"/>
<line x1="452.9" y1="110.0" x2="457.1" y2="110.0" stroke="#333" stroke-width="0.7"/>
<line x1="453.5" y1="108.5" x2="456.5" y2="111.5" stroke="#333" stroke-width="0.7"/>
<line x1="455.0" y1="107.9" x2="455.0" y2="112.1" stroke="#333" stroke-width="0.7"/>
<line x1="456.5" y1="108.5" x2="453.5" y2="111.5" stroke="#333" stroke-width="0.7"/>
<circle cx="466.5" cy="110.7" r="0.9" fill="#333"/>
<line x1="464.4" y1="110.7" x2="468.6" y2="110.7" stroke="#333" stroke-width="0.7"/>
<line x1="465.0" y1="109.2" x2="468.0" y2="112.2" stroke="#333" stroke-width="0.7"/>
<line x1="466.5" y1="108.6" x2="466.5" y2="112.8" stroke="#333" stroke-width="0.7"/>
<line x1="468.0" y1="109.2" x2="465.0" y2="112.2" stroke="#333" stroke-width="0.7"/>
<circle cx="488.0" cy="143.0" r="0.9" fill="#333"/>
<line x1="486.0" y1="143.0" x2="490.0" y2="143.0" stroke="#333" stroke-width="0.7"/>
<line x1="486.6" y1="141.6" x2="489.4" y2="144.4" stroke="#333" stroke-width="0.7"/>
<line x1="488.0" y1="141.0" x2="488.0" y2="145.0" stroke="#333" stroke-width="0.7"/>
<line x1="489.4" y1="141.6" x2="486.6" y2="144.4" stroke="#333" stroke-width="0.7"/>
<circle cx="496.0" cy="142.0" r="0.9" fill="#333"/>
<line x1="494.0" y1="142.0" x2="498.0" y2="142.0" stroke="#333" stroke-width="0.7"/>
<line x1="494.6" y1="140.6" x2="497.4" y2="143.4" stroke="#333" stroke-width="0.7"/>
<line x1="496.0" y1="140.0" x2="496.0" y2="144.0" stroke="#333" stroke-width="0.7"/>
<line x1="497.4" y1="140.6" x2="494.6" y2="143.4" stroke="#333" stroke-width="0.7"/>
<circle cx="504.0" cy="144.0" r="0.9" fill="#333"/>
<line x1="502.0" y1="144.0" x2="506.0" y2="144.0" stroke="#333" stroke-width="0.7"/>
<line x1="502.6" y1="142.6" x2="505.4" y2="145.4" stroke="#333" stroke-width="0.7"/>
<line x1="504.0" y1="142.0" x2="504.0" y2="146.0" stroke="#333" stroke-width="0.7"/>
<line x1="505.4" y1="142.6" x2="502.6" y2="145.4" stroke="#333" stroke-width="0.7"/>
<circle cx="491.0" cy="151.0" r="0.9" fill="#333"/>
<line x1="489.0" y1="151.0" x2="493.0" y2="151.0" stroke="#333" stroke-width="0.7"/>
<line x1="489.6" y1="149.6" x2="492.4" y2="152.4" stroke="#333" stroke-width="0.7"/>
<line x1="491.0" y1="149.0" x2="491.0" y2="153.0" stroke="#333" stroke-width="0.7"/>
<line x1="492.4" y1="149.6" x2="489.6" y2="152.4" stroke="#333" stroke-width="0.7"/>
<circle cx="499.0" cy="150.0" r="0.9" fill="#333"/>
<line x1="497.0" y1="150.0" x2="501.0" y2="150.0" stroke="#333" stroke-width="0.7"/>
<line x1="497.6" y1="148.6" x2="500.4" y2="151.4" stroke="#333" stroke-width="0.7"/>
<line x1="499.0" y1="148.0" x2="499.0" y2="152.0" stroke="#333" stroke-width="0.7"/>
<line x1="500.4" y1="148.6" x2="497.6" y2="151.4" stroke="#333" stroke-width="0.7"/>
<circle cx="507.0" cy="152.0" r="0.9" fill="#333"/>
<line x1="505.0" y1="152.0" x2="509.0" y2="152.0" stroke="#333" stroke-width="0.7"/>
<line x1="505.6" y1="150.6" x2="508.4" y2="153.4" stroke="#333" stroke-width="0.7"/>
<line x1="507.0" y1="150.0" x2="507.0" y2="154.0" stroke="#333" stroke-width="0.7"/>
<line x1="508.4" y1="150.6" x2="505.6" y2="153.4" stroke="#333" stroke-width="0.7"/>
<circle cx="428.0" cy="152.0" r="0.9" fill="#333"/>
<line x1="426.0" y1="152.0" x2="430.0" y2="152.0" stroke="#333" stroke-width="0.7"/>
<line x1="426.6" y1="150.6" x2="429.4" y2="153.4" stroke="#333" stroke-width="0.7"/>
<line x1="428.0" y1="150.0" x2="428.0" y2="154.0" stroke="#333" stroke-width="0.7"/>
<line x1="429.4" y1="150.6" x2="426.6" y2="153.4" stroke="#333" stroke-width="0.7"/>
<circle cx="435.0" cy="150.0" r="0.9" fill="#333"/>
<line x1="433.0" y1="150.0" x2="437.0" y2="150.0" stroke="#333" stroke-width="0.7"/>
<line x1="433.6" y1="148.6" x2="436.4" y2="151.4" stroke="#333" stroke-width="0.7"/>
<line x1="435.0" y1="148.0" x2="435.0" y2="152.0" stroke="#333" stroke-width="0.7"/>
<line x1="436.4" y1="148.6" x2="433.6" y2="151.4" stroke="#333" stroke-width="0.7"/>
<circle cx="441.0" cy="155.0" r="0.9" fill="#333"/>
<line x1="439.0" y1="155.0" x2="443.0" y2="155.0" stroke="#333" stroke-width="0.7"/>
<line x1="439.6" y1="153.6" x2="442.4" y2="156.4" stroke="#333" stroke-width="0.7"/>
<line x1="441.0" y1="153.0" x2="441.0" y2="157.0" stroke="#333" stroke-width="0.7"/>
<line x1="442.4" y1="153.6" x2="439.6" y2="156.4" stroke="#333" stroke-width="0.7"/>
<circle cx="432.0" cy="159.0" r="0.9" fill="#333"/>
<line x1="430.0" y1="159.0" x2="434.0" y2="159.0" stroke="#333" stroke-width="0.7"/>
<line x1="430.6" y1="157.6" x2="433.4" y2="160.4" stroke="#333" stroke-width="0.7"/>
<line x1="432.0" y1="157.0" x2="432.0" y2="161.0" stroke="#333" stroke-width="0.7"/>
<line x1="433.4" y1="157.6" x2="430.6" y2="160.4" stroke="#333" stroke-width="0.7"/>
<circle cx="439.0" cy="160.0" r="0.9" fill="#333"/>
<line x1="437.0" y1="160.0" x2="441.0" y2="160.0" stroke="#333" stroke-width="0.7"/>
<line x1="437.6" y1="158.6" x2="440.4" y2="161.4" stroke="#333" stroke-width="0.7"/>
<line x1="439.0" y1="158.0" x2="439.0" y2="162.0" stroke="#333" stroke-width="0.7"/>
<line x1="440.4" y1="158.6" x2="437.6" y2="161.4" stroke="#333" stroke-width="0.7"/>
<path transform="translate(413,146.7) rotate(-30)" d="M4,-6 L0,-6 L0,6 L3,6" stroke="#222" stroke-width="1.1" fill="none"/>
<path transform="translate(427.3,137.3) rotate(-25)" d="M4,-6 L0,-6 L0,6 L3,6" stroke="#222" stroke-width="1.1" fill="none"/>
<path transform="translate(446,129.3) rotate(-15)" d="M4,-6 L0,-6 L0,6 L3,6" stroke="#222" stroke-width="1.1" fill="none"/>
<path transform="translate(465.9,125.5) rotate(0)" d="M4,-6 L0,-6 L0,6 L3,6" stroke="#222" stroke-width="1.1" fill="none"/>
<path transform="translate(483.9,129.3) rotate(12)" d="M4,-6 L0,-6 L0,6 L3,6" stroke="#222" stroke-width="1.1" fill="none"/>
<path transform="translate(500,132.4) rotate(18)" d="M4,-6 L0,-6 L0,6 L3,6" stroke="#222" stroke-width="1.1" fill="none"/>
<path transform="translate(512.5,137.3) rotate(25)" d="M4,-6 L0,-6 L0,6 L3,6" stroke="#222" stroke-width="1.1" fill="none"/>
<path d="M418.6,165.4 Q419.1,168.0 417.3,170.2 Q415.6,172.4 412.9,172.7 Q410.2,172.9 408.8,171.8 Q407.5,170.8 406.6,167.3 Q405.8,163.9 407.7,162.3 Q409.7,160.7 411.6,160.5 Q413.5,160.2 415.8,161.5 Q418.1,162.8 418.6,165.4Z" stroke="#111" stroke-width="1.4040000000000001" fill="#f0f0f0"/>
<circle cx="409.2" cy="164.5" r="0.4" fill="#777"/>
<circle cx="410.9" cy="168.9" r="0.4" fill="#777"/>
<circle cx="414.0" cy="164.2" r="0.4" fill="#777"/>
<circle cx="414.2" cy="164.0" r="0.4" fill="#777"/>
<path d="M409.7,164.0 Q412.3,166.3 413.5,163.1" stroke="#999" stroke-width="0.4" fill="none"/>
<path d="M427.9,166.3 Q428.4,169.1 426.8,170.6 Q425.3,172.2 423.4,172.9 Q421.6,173.6 418.7,172.2 Q415.8,170.8 415.2,168.4 Q414.6,166.0 415.9,163.9 Q417.2,161.7 420.3,161.3 Q423.5,160.9 425.5,162.2 Q427.5,163.4 427.9,166.3Z" stroke="#111" stroke-width="1.4040000000000001" fill="#f0f0f0"/>
<circle cx="419.7" cy="167.3" r="0.4" fill="#777"/>
<circle cx="423.5" cy="165.5" r="0.4" fill="#777"/>
<circle cx="423.5" cy="168.2" r="0.4" fill="#777"/>
<circle cx="423.8" cy="166.0" r="0.4" fill="#777"/>
<path d="M424.5,168.9 Q421.6,167.0 420.9,170.4" stroke="#999" stroke-width="0.4" fill="none"/>
<path d="M437.2,166.1 Q437.9,168.3 436.5,170.2 Q435.1,172.2 433.1,172.6 Q431.1,173.0 429.5,172.3 Q428.0,171.5 427.2,169.5 Q426.4,167.5 427.4,165.6 Q428.5,163.7 430.9,162.8 Q433.4,161.8 434.9,162.9 Q436.5,164.0 437.2,166.1Z" stroke="#111" stroke-width="1.4040000000000001" fill="#f0f0f0"/>
<circle cx="433.0" cy="170.1" r="0.4" fill="#777"/>
<circle cx="432.7" cy="167.0" r="0.4" fill="#777"/>
<circle cx="434.9" cy="165.1" r="0.4" fill="#777"/>
<circle cx="434.3" cy="166.4" r="0.4" fill="#777"/>
<path d="M434.2,170.0 Q432.3,167.6 430.8,170.2" stroke="#999" stroke-width="0.4" fill="none"/>
<path d="M447.4,165.5 Q448.4,167.5 447.3,169.3 Q446.3,171.2 444.2,171.7 Q442.1,172.2 439.7,170.6 Q437.2,169.0 437.0,167.3 Q436.8,165.6 437.9,164.1 Q439.1,162.5 440.9,161.9 Q442.8,161.3 444.5,162.4 Q446.3,163.4 447.4,165.5Z" stroke="#111" stroke-width="1.4040000000000001" fill="#f0f0f0"/>
<circle cx="439.8" cy="165.8" r="0.4" fill="#777"/>
<circle cx="441.8" cy="169.1" r="0.4" fill="#777"/>
<circle cx="441.7" cy="165.0" r="0.4" fill="#777"/>
<circle cx="441.0" cy="169.6" r="0.4" fill="#777"/>
<path d="M445.0,168.1 Q442.3,167.0 442.2,169.9" stroke="#999" stroke-width="0.4" fill="none"/>
<path d="M411.0,172.2 Q411.4,174.0 410.7,175.7 Q409.9,177.4 407.8,178.0 Q405.7,178.6 403.2,176.9 Q400.6,175.2 400.2,173.5 Q399.8,171.7 400.7,170.4 Q401.6,169.0 404.5,168.3 Q407.3,167.6 409.0,169.0 Q410.7,170.5 411.0,172.2Z" stroke="#111" stroke-width="1.4040000000000001" fill="#f0f0f0"/>
<circle cx="404.3" cy="170.9" r="0.4" fill="#777"/>
<circle cx="405.7" cy="175.3" r="0.4" fill="#777"/>
<circle cx="406.2" cy="174.5" r="0.4" fill="#777"/>
<circle cx="405.1" cy="174.4" r="0.4" fill="#777"/>
<path d="M408.1,174.8 Q405.7,173.0 404.9,175.9" stroke="#999" stroke-width="0.4" fill="none"/>
<path d="M422.7,174.9 Q422.9,177.0 421.3,179.0 Q419.7,180.9 416.9,181.4 Q414.0,182.0 412.4,180.3 Q410.7,178.7 410.3,176.5 Q409.8,174.3 410.8,172.3 Q411.7,170.3 415.2,170.2 Q418.8,170.0 420.7,171.4 Q422.5,172.8 422.7,174.9Z" stroke="#111" stroke-width="1.4040000000000001" fill="#f0f0f0"/>
<circle cx="415.6" cy="174.2" r="0.4" fill="#777"/>
<circle cx="417.4" cy="175.3" r="0.4" fill="#777"/>
<circle cx="417.5" cy="176.6" r="0.4" fill="#777"/>
<circle cx="414.0" cy="177.3" r="0.4" fill="#777"/>
<path d="M419.7,175.2 Q416.3,175.6 417.9,178.7" stroke="#999" stroke-width="0.4" fill="none"/>
<path d="M435.1,174.7 Q435.8,176.8 433.7,179.1 Q431.7,181.5 429.7,181.7 Q427.6,182.0 425.7,180.9 Q423.8,179.8 423.0,176.9 Q422.1,173.9 423.3,172.5 Q424.5,171.0 426.9,169.9 Q429.3,168.8 431.9,170.8 Q434.5,172.7 435.1,174.7Z" stroke="#111" stroke-width="1.4040000000000001" fill="#f0f0f0"/>
<circle cx="432.0" cy="178.5" r="0.4" fill="#777"/>
<circle cx="430.0" cy="176.3" r="0.4" fill="#777"/>
<circle cx="426.8" cy="172.5" r="0.4" fill="#777"/>
<circle cx="429.2" cy="172.8" r="0.4" fill="#777"/>
<path d="M430.3,178.8 Q429.0,175.6 426.5,178.0" stroke="#999" stroke-width="0.4" fill="none"/>
<path d="M446.8,175.4 Q447.5,178.2 445.8,180.1 Q444.0,182.1 442.5,182.6 Q441.0,183.0 438.3,182.0 Q435.7,181.0 435.2,178.2 Q434.7,175.3 436.1,173.5 Q437.5,171.7 439.4,171.3 Q441.4,170.9 443.8,171.8 Q446.2,172.7 446.8,175.4Z" stroke="#111" stroke-width="1.4040000000000001" fill="#f0f0f0"/>
<circle cx="438.4" cy="178.9" r="0.4" fill="#777"/>
<circle cx="438.4" cy="178.1" r="0.4" fill="#777"/>
<circle cx="440.0" cy="176.4" r="0.4" fill="#777"/>
<circle cx="443.1" cy="174.1" r="0.4" fill="#777"/>
<path d="M444.1,178.2 Q441.0,177.0 441.0,180.3" stroke="#999" stroke-width="0.4" fill="none"/>
<path d="M423.6,182.5 Q424.0,184.3 422.2,186.9 Q420.5,189.5 418.5,189.7 Q416.5,189.8 414.3,188.8 Q412.1,187.7 411.5,184.8 Q410.8,181.8 412.2,180.1 Q413.5,178.4 415.6,177.8 Q417.8,177.2 420.5,179.0 Q423.2,180.7 423.6,182.5Z" stroke="#111" stroke-width="1.4040000000000001" fill="#f0f0f0"/>
<circle cx="413.9" cy="182.2" r="0.4" fill="#777"/>
<circle cx="414.8" cy="185.9" r="0.4" fill="#777"/>
<circle cx="419.0" cy="185.5" r="0.4" fill="#777"/>
<circle cx="419.1" cy="185.1" r="0.4" fill="#777"/>
<path d="M420.3,182.5 Q417.0,183.6 419.2,186.3" stroke="#999" stroke-width="0.4" fill="none"/>
<path d="M436.8,182.4 Q437.3,183.9 435.6,186.7 Q433.9,189.6 431.8,189.7 Q429.6,189.8 426.9,188.3 Q424.2,186.7 423.8,184.8 Q423.4,182.8 424.8,180.5 Q426.1,178.1 428.4,177.8 Q430.6,177.4 433.5,179.2 Q436.4,181.0 436.8,182.4Z" stroke="#111" stroke-width="1.4040000000000001" fill="#f0f0f0"/>
<circle cx="428.8" cy="185.5" r="0.4" fill="#777"/>
<circle cx="431.1" cy="181.4" r="0.4" fill="#777"/>
<circle cx="430.6" cy="184.6" r="0.4" fill="#777"/>
<circle cx="428.2" cy="184.6" r="0.4" fill="#777"/>
<path d="M432.8,186.0 Q430.3,183.6 428.9,186.8" stroke="#999" stroke-width="0.4" fill="none"/>
<path d="M446.8,186.2 Q447.2,189.2 445.8,190.7 Q444.5,192.2 441.9,192.2 Q439.3,192.3 437.4,191.0 Q435.6,189.7 435.3,187.2 Q435.0,184.8 436.3,183.6 Q437.6,182.4 440.5,181.8 Q443.4,181.3 444.9,182.3 Q446.4,183.3 446.8,186.2Z" stroke="#111" stroke-width="1.4040000000000001" fill="#f0f0f0"/>
<circle cx="443.7" cy="189.2" r="0.4" fill="#777"/>
<circle cx="443.4" cy="185.3" r="0.4" fill="#777"/>
<circle cx="444.1" cy="187.1" r="0.4" fill="#777"/>
<circle cx="440.0" cy="186.7" r="0.4" fill="#777"/>
<path d="M438.7,188.6 Q441.6,187.0 439.1,184.9" stroke="#999" stroke-width="0.4" fill="none"/>
<path d="M457.9,183.3 Q458.0,185.2 456.7,187.2 Q455.3,189.3 452.9,189.9 Q450.5,190.5 448.5,189.4 Q446.5,188.3 445.9,186.3 Q445.3,184.3 446.6,182.0 Q447.9,179.7 450.7,179.1 Q453.4,178.6 455.6,180.0 Q457.8,181.3 457.9,183.3Z" stroke="#111" stroke-width="1.4040000000000001" fill="#f0f0f0"/>
<circle cx="450.1" cy="186.7" r="0.4" fill="#777"/>
<circle cx="453.4" cy="185.3" r="0.4" fill="#777"/>
<circle cx="448.8" cy="184.0" r="0.4" fill="#777"/>
<circle cx="452.4" cy="183.1" r="0.4" fill="#777"/>
<path d="M452.1,187.6 Q451.6,184.3 448.8,186.0" stroke="#999" stroke-width="0.4" fill="none"/>
<path d="M464.9,179.6 Q465.1,181.5 463.2,183.4 Q461.2,185.3 459.2,185.6 Q457.2,185.8 455.6,184.4 Q454.1,182.9 453.7,181.6 Q453.2,180.2 454.7,177.9 Q456.3,175.5 458.2,175.2 Q460.2,174.9 462.4,176.3 Q464.7,177.7 464.9,179.6Z" stroke="#111" stroke-width="1.4040000000000001" fill="#f0f0f0"/>
<circle cx="458.5" cy="183.0" r="0.4" fill="#777"/>
<circle cx="456.6" cy="182.0" r="0.4" fill="#777"/>
<circle cx="461.1" cy="178.4" r="0.4" fill="#777"/>
<circle cx="460.1" cy="180.6" r="0.4" fill="#777"/>
<path d="M461.9,179.5 Q459.0,180.3 460.8,182.7" stroke="#999" stroke-width="0.4" fill="none"/>
<path d="M460.4,194.4 Q460.5,196.1 459.0,198.3 Q457.5,200.5 454.9,201.2 Q452.3,201.9 450.1,200.6 Q448.0,199.2 447.5,197.1 Q447.1,194.9 448.7,192.5 Q450.4,190.1 452.9,189.6 Q455.5,189.1 457.8,190.9 Q460.2,192.7 460.4,194.4Z" stroke="#111" stroke-width="1.4040000000000001" fill="#f0f0f0"/>
<circle cx="451.9" cy="193.9" r="0.4" fill="#777"/>
<circle cx="455.1" cy="196.1" r="0.4" fill="#777"/>
<circle cx="451.7" cy="196.7" r="0.4" fill="#777"/>
<circle cx="456.0" cy="197.7" r="0.4" fill="#777"/>
<path d="M454.3,199.0 Q453.6,195.6 450.7,197.5" stroke="#999" stroke-width="0.4" fill="none"/>
<path d="M464.4,188.0 Q465.0,190.6 463.6,192.2 Q462.2,193.7 460.1,194.4 Q458.0,195.0 456.3,193.7 Q454.6,192.3 453.9,190.4 Q453.3,188.4 454.4,186.6 Q455.5,184.7 457.4,184.1 Q459.2,183.5 461.5,184.5 Q463.7,185.5 464.4,188.0Z" stroke="#111" stroke-width="1.4040000000000001" fill="#f0f0f0"/>
<circle cx="457.4" cy="186.6" r="0.4" fill="#777"/>
<circle cx="457.4" cy="189.2" r="0.4" fill="#777"/>
<circle cx="458.4" cy="190.3" r="0.4" fill="#777"/>
<circle cx="460.7" cy="188.5" r="0.4" fill="#777"/>
<path d="M461.5,190.8 Q459.0,189.0 458.2,191.9" stroke="#999" stroke-width="0.4" fill="none"/>
<path d="M457.1,202.2 Q457.2,204.5 455.7,206.3 Q454.2,208.1 452.2,208.3 Q450.3,208.5 447.5,206.8 Q444.8,205.0 444.9,203.0 Q445.0,201.0 446.0,198.9 Q447.0,196.9 449.1,196.6 Q451.3,196.3 454.1,198.1 Q456.9,199.9 457.1,202.2Z" stroke="#111" stroke-width="1.4040000000000001" fill="#f0f0f0"/>
<circle cx="449.3" cy="201.2" r="0.4" fill="#777"/>
<circle cx="453.5" cy="201.3" r="0.4" fill="#777"/>
<circle cx="450.6" cy="203.1" r="0.4" fill="#777"/>
<circle cx="452.8" cy="202.3" r="0.4" fill="#777"/>
<path d="M453.9,203.9 Q451.0,202.3 450.5,205.6" stroke="#999" stroke-width="0.4" fill="none"/>
<path d="M466.6,205.1 Q467.2,206.7 465.4,209.3 Q463.6,211.9 461.6,212.4 Q459.6,213.0 456.8,211.1 Q454.1,209.2 453.9,207.1 Q453.8,205.1 454.6,203.4 Q455.5,201.8 458.6,201.1 Q461.7,200.4 463.9,202.0 Q466.0,203.5 466.6,205.1Z" stroke="#111" stroke-width="1.4040000000000001" fill="#f0f0f0"/>
<circle cx="458.5" cy="203.4" r="0.4" fill="#777"/>
<circle cx="463.3" cy="207.8" r="0.4" fill="#777"/>
<circle cx="462.6" cy="207.0" r="0.4" fill="#777"/>
<circle cx="457.3" cy="205.2" r="0.4" fill="#777"/>
<path d="M456.7,206.4 Q460.2,206.3 458.9,203.1" stroke="#999" stroke-width="0.4" fill="none"/>
<path d="M458.1,212.5 Q458.0,215.2 457.6,216.4 Q457.2,217.7 454.5,218.3 Q451.8,218.8 449.3,217.4 Q446.8,216.0 446.6,213.5 Q446.5,210.9 448.2,209.2 Q449.8,207.5 451.9,207.1 Q453.9,206.6 456.1,208.2 Q458.3,209.8 458.1,212.5Z" stroke="#111" stroke-width="1.4040000000000001" fill="#f0f0f0"/>
<circle cx="453.5" cy="210.3" r="0.4" fill="#777"/>
<circle cx="454.6" cy="213.5" r="0.4" fill="#777"/>
<circle cx="451.2" cy="211.1" r="0.4" fill="#777"/>
<circle cx="454.4" cy="213.5" r="0.4" fill="#777"/>
<path d="M455.3,211.7 Q452.3,213.0 454.6,215.4" stroke="#999" stroke-width="0.4" fill="none"/>
<path d="M466.2,216.7 Q466.6,219.4 464.7,220.8 Q462.7,222.3 460.7,222.6 Q458.7,222.9 456.9,221.5 Q455.1,220.2 454.4,218.3 Q453.8,216.5 454.9,214.4 Q456.1,212.3 458.2,211.8 Q460.3,211.2 463.0,212.6 Q465.8,214.1 466.2,216.7Z" stroke="#111" stroke-width="1.4040000000000001" fill="#f0f0f0"/>
<circle cx="460.3" cy="218.4" r="0.4" fill="#777"/>
<circle cx="459.4" cy="214.3" r="0.4" fill="#777"/>
<circle cx="461.9" cy="217.5" r="0.4" fill="#777"/>
<circle cx="461.1" cy="217.7" r="0.4" fill="#777"/>
<path d="M463.4,216.4 Q460.2,217.0 461.9,219.8" stroke="#999" stroke-width="0.4" fill="none"/>
<path d="M457.7,224.8 Q458.1,226.8 457.1,228.4 Q456.1,230.0 453.6,230.6 Q451.1,231.3 448.9,230.3 Q446.7,229.4 445.8,227.0 Q444.9,224.6 446.7,222.0 Q448.4,219.4 450.6,219.0 Q452.8,218.6 455.0,220.7 Q457.3,222.8 457.7,224.8Z" stroke="#111" stroke-width="1.4040000000000001" fill="#f0f0f0"/>
<circle cx="451.7" cy="227.7" r="0.4" fill="#777"/>
<circle cx="453.0" cy="224.7" r="0.4" fill="#777"/>
<circle cx="450.4" cy="227.7" r="0.4" fill="#777"/>
<circle cx="449.1" cy="226.6" r="0.4" fill="#777"/>
<path d="M453.4,222.2 Q451.6,225.0 454.8,225.7" stroke="#999" stroke-width="0.4" fill="none"/>
<path d="M466.0,224.2 Q466.4,225.9 464.6,227.9 Q462.7,229.9 460.4,230.1 Q458.1,230.4 456.9,229.8 Q455.6,229.2 455.1,226.8 Q454.5,224.4 455.6,222.4 Q456.7,220.3 458.6,219.8 Q460.5,219.2 463.0,220.9 Q465.6,222.5 466.0,224.2Z" stroke="#111" stroke-width="1.4040000000000001" fill="#f0f0f0"/>
<circle cx="461.8" cy="225.7" r="0.4" fill="#777"/>
<circle cx="462.0" cy="223.2" r="0.4" fill="#777"/>
<circle cx="459.4" cy="224.8" r="0.4" fill="#777"/>
<circle cx="458.0" cy="227.6" r="0.4" fill="#777"/>
<path d="M458.2,222.7 Q460.2,225.0 461.6,222.3" stroke="#999" stroke-width="0.4" fill="none"/>
<path d="M464.5,232.4 Q464.4,234.5 463.7,235.9 Q462.9,237.3 460.9,238.0 Q458.9,238.8 456.5,237.0 Q454.1,235.3 453.7,233.4 Q453.3,231.4 454.5,229.5 Q455.8,227.7 458.5,227.7 Q461.3,227.8 462.9,229.1 Q464.6,230.4 464.5,232.4Z" stroke="#111" stroke-width="1.4040000000000001" fill="#f0f0f0"/>
<circle cx="461.6" cy="230.3" r="0.4" fill="#777"/>
<circle cx="461.4" cy="231.4" r="0.4" fill="#777"/>
<circle cx="457.0" cy="233.4" r="0.4" fill="#777"/>
<circle cx="460.9" cy="235.4" r="0.4" fill="#777"/>
<path d="M457.0,235.2 Q459.0,232.9 456.2,231.9" stroke="#999" stroke-width="0.4" fill="none"/>
<path d="M456.4,234.5 Q456.8,236.2 455.3,237.6 Q453.8,239.1 452.8,239.4 Q451.9,239.8 450.0,238.8 Q448.2,237.7 447.9,235.7 Q447.6,233.6 448.8,232.2 Q450.0,230.8 451.1,230.4 Q452.1,230.1 454.0,231.4 Q455.9,232.7 456.4,234.5Z" stroke="#111" stroke-width="1.4040000000000001" fill="#f0f0f0"/>
<circle cx="453.5" cy="236.2" r="0.4" fill="#777"/>
<circle cx="453.1" cy="235.7" r="0.4" fill="#777"/>
<circle cx="454.2" cy="232.8" r="0.4" fill="#777"/>
<circle cx="454.1" cy="235.6" r="0.4" fill="#777"/>
<path d="M452.0,237.5 Q452.0,235.0 449.7,235.9" stroke="#999" stroke-width="0.4" fill="none"/>
<path d="M439.2,158.4 Q439.6,160.2 438.5,162.0 Q437.4,163.8 436.1,164.2 Q434.7,164.6 433.0,163.6 Q431.2,162.6 430.6,160.9 Q430.0,159.2 430.9,158.0 Q431.9,156.7 433.5,156.1 Q435.1,155.6 436.9,156.1 Q438.8,156.6 439.2,158.4Z" stroke="#111" stroke-width="1.4040000000000001" fill="#f0f0f0"/>
<circle cx="434.2" cy="162.2" r="0.4" fill="#777"/>
<circle cx="433.3" cy="161.8" r="0.4" fill="#777"/>
<circle cx="435.0" cy="160.9" r="0.4" fill="#777"/>
<circle cx="435.7" cy="159.0" r="0.4" fill="#777"/>
<path d="M435.3,162.5 Q435.0,160.0 432.8,161.1" stroke="#999" stroke-width="0.4" fill="none"/>
<path d="M463.5,154.3 Q464.5,157.0 462.1,158.5 Q461.4,161.3 458.5,161.1 Q456.3,162.9 454.1,161.1 Q451.2,161.3 450.5,158.5 Q448.1,157.0 449.1,154.3 Q448.1,151.6 450.5,150.1 Q451.2,147.3 454.1,147.5 Q456.3,145.7 458.5,147.5 Q461.4,147.3 462.1,150.1 Q464.5,151.6 463.5,154.3Z" stroke="#222" stroke-width="1.1" fill="#fff"/>
<circle cx="454.2" cy="154.7" r="0.4" fill="#888"/>
<circle cx="455.3" cy="155.1" r="0.4" fill="#888"/>
<circle cx="457.3" cy="150.8" r="0.4" fill="#888"/>
<circle cx="452.4" cy="157.0" r="0.4" fill="#888"/>
<path d="M459.5,169.6 Q460.5,172.3 458.1,173.8 Q457.4,176.6 454.5,176.4 Q452.3,178.2 450.1,176.4 Q447.2,176.6 446.5,173.8 Q444.1,172.3 445.1,169.6 Q444.1,166.9 446.5,165.4 Q447.2,162.6 450.1,162.8 Q452.3,161.0 454.5,162.8 Q457.4,162.6 458.1,165.4 Q460.5,166.9 459.5,169.6Z" stroke="#222" stroke-width="1.1" fill="#fff"/>
<circle cx="450.4" cy="167.5" r="0.4" fill="#888"/>
<circle cx="456.3" cy="169.4" r="0.4" fill="#888"/>
<circle cx="455.0" cy="169.4" r="0.4" fill="#888"/>
<circle cx="453.4" cy="166.8" r="0.4" fill="#888"/>
<path d="M476.1,188.3 Q477.1,191.0 474.7,192.5 Q474.0,195.3 471.1,195.1 Q468.9,196.9 466.7,195.1 Q463.8,195.3 463.1,192.5 Q460.7,191.0 461.7,188.3 Q460.7,185.6 463.1,184.1 Q463.8,181.3 466.7,181.5 Q468.9,179.7 471.1,181.5 Q474.0,181.3 474.7,184.1 Q477.1,185.6 476.1,188.3Z" stroke="#222" stroke-width="1.1" fill="#fff"/>
<circle cx="470.0" cy="191.2" r="0.4" fill="#888"/>
<circle cx="469.1" cy="190.2" r="0.4" fill="#888"/>
<circle cx="470.3" cy="184.8" r="0.4" fill="#888"/>
<circle cx="471.0" cy="189.0" r="0.4" fill="#888"/>
<path d="M478.8,203.6 Q479.8,206.3 477.4,207.8 Q476.7,210.6 473.8,210.4 Q471.6,212.2 469.4,210.4 Q466.5,210.6 465.8,207.8 Q463.4,206.3 464.4,203.6 Q463.4,200.9 465.8,199.4 Q466.5,196.6 469.4,196.8 Q471.6,195.0 473.8,196.8 Q476.7,196.6 477.4,199.4 Q479.8,200.9 478.8,203.6Z" stroke="#222" stroke-width="1.1" fill="#fff"/>
<circle cx="470.0" cy="199.8" r="0.4" fill="#888"/>
<circle cx="474.5" cy="203.4" r="0.4" fill="#888"/>
<circle cx="473.4" cy="206.6" r="0.4" fill="#888"/>
<circle cx="473.3" cy="207.0" r="0.4" fill="#888"/>
<path d="M478.8,219.6 Q479.8,222.3 477.4,223.8 Q476.7,226.6 473.8,226.4 Q471.6,228.2 469.4,226.4 Q466.5,226.6 465.8,223.8 Q463.4,222.3 464.4,219.6 Q463.4,216.9 465.8,215.4 Q466.5,212.6 469.4,212.8 Q471.6,211.0 473.8,212.8 Q476.7,212.6 477.4,215.4 Q479.8,216.9 478.8,219.6Z" stroke="#222" stroke-width="1.1" fill="#fff"/>
<circle cx="470.8" cy="222.0" r="0.4" fill="#888"/>
<circle cx="471.2" cy="223.1" r="0.4" fill="#888"/>
<circle cx="474.6" cy="216.4" r="0.4" fill="#888"/>
<circle cx="468.7" cy="217.3" r="0.4" fill="#888"/>
<path d="M478.8,235.5 Q479.8,238.2 477.4,239.7 Q476.7,242.5 473.8,242.3 Q471.6,244.1 469.4,242.3 Q466.5,242.5 465.8,239.7 Q463.4,238.2 464.4,235.5 Q463.4,232.8 465.8,231.3 Q466.5,228.5 469.4,228.7 Q471.6,226.9 473.8,228.7 Q476.7,228.5 477.4,231.3 Q479.8,232.8 478.8,235.5Z" stroke="#222" stroke-width="1.1" fill="#fff"/>
<circle cx="475.3" cy="235.0" r="0.4" fill="#888"/>
<circle cx="472.6" cy="233.9" r="0.4" fill="#888"/>
<circle cx="471.7" cy="234.6" r="0.4" fill="#888"/>
<circle cx="470.4" cy="236.2" r="0.4" fill="#888"/>
<circle cx="488.3" cy="190.6" r="10.6" stroke="#333" stroke-width="0.8" fill="#fff"/>
<text x="488.3" y="192.1" font-size="4" fill="#666" text-anchor="middle">A</text>
<circle cx="491.9" cy="209.5" r="10.6" stroke="#333" stroke-width="0.8" fill="#fff"/>
<text x="491.9" y="211.0" font-size="4" fill="#666" text-anchor="middle">A</text>
<circle cx="501.4" cy="228.5" r="10.6" stroke="#333" stroke-width="0.8" fill="#fff"/>
<text x="501.4" y="230.0" font-size="4" fill="#666" text-anchor="middle">A</text>
<path d="M494.0,167.6 L492.6,168.7 L493.5,170.3 L491.8,170.8 L491.9,172.5 L490.2,172.4 L489.7,174.1 L488.1,173.2 L487.0,174.6 L485.9,173.2 L484.3,174.1 L483.8,172.4 L482.1,172.5 L482.2,170.8 L480.5,170.3 L481.4,168.7 L480.0,167.6 L481.4,166.5 L480.5,164.9 L482.2,164.4 L482.1,162.7 L483.8,162.8 L484.3,161.1 L485.9,162.0 L487.0,160.6 L488.1,162.0 L489.7,161.1 L490.2,162.8 L491.9,162.7 L491.8,164.4 L493.5,164.9 L492.6,166.5 L494.0,167.6Z" stroke="#111" stroke-width="1.2" fill="none"/>
<circle cx="487.0" cy="167.6" r="4.5" stroke="#555" stroke-width="0.5" fill="none"/>
<polyline points="402.0,234.4 402.0,199.0 412.6,188.2" stroke="#444" stroke-width="0.8" fill="none"/>
<path d="M249.8,221.0 Q248.2,222.6 248.7,224.8 Q246.5,225.2 245.7,227.4 Q243.6,226.5 241.8,227.9 Q240.5,226.1 238.2,226.3 Q238.1,224.0 236.1,223.0 Q237.2,221.0 236.1,219.0 Q238.1,218.0 238.2,215.7 Q240.5,215.9 241.8,214.1 Q243.6,215.5 245.7,214.6 Q246.5,216.8 248.7,217.2 Q248.2,219.4 249.8,221.0Z" stroke="#333" stroke-width="0.8" fill="none"/>
<path d="M260.2,217.0 Q258.8,218.4 259.2,220.2 Q257.3,220.6 256.7,222.5 Q254.9,221.8 253.3,222.9 Q252.2,221.4 250.3,221.5 Q250.2,219.6 248.4,218.7 Q249.4,217.0 248.4,215.3 Q250.2,214.4 250.3,212.5 Q252.2,212.6 253.3,211.1 Q254.9,212.2 256.7,211.5 Q257.3,213.4 259.2,213.8 Q258.8,215.6 260.2,217.0Z" stroke="#333" stroke-width="0.8" fill="none"/>
<path d="M229.0,236.6 Q227.6,238.0 228.0,239.8 Q226.1,240.2 225.5,242.1 Q223.7,241.4 222.1,242.5 Q221.0,241.0 219.1,241.1 Q219.0,239.2 217.2,238.3 Q218.2,236.6 217.2,234.9 Q219.0,234.0 219.1,232.1 Q221.0,232.2 222.1,230.7 Q223.7,231.8 225.5,231.1 Q226.1,233.0 228.0,233.4 Q227.6,235.2 229.0,236.6Z" stroke="#333" stroke-width="0.8" fill="none"/>
<path d="M233.3,250.0 Q231.9,251.4 232.3,253.2 Q230.4,253.6 229.8,255.5 Q228.0,254.8 226.4,255.9 Q225.3,254.4 223.4,254.5 Q223.3,252.6 221.5,251.7 Q222.5,250.0 221.5,248.3 Q223.3,247.4 223.4,245.5 Q225.3,245.6 226.4,244.1 Q228.0,245.2 229.8,244.5 Q230.4,246.4 232.3,246.8 Q231.9,248.6 233.3,250.0Z" stroke="#333" stroke-width="0.8" fill="none"/>
<path d="M237.4,262.5 Q236.0,263.9 236.4,265.7 Q234.5,266.1 233.9,268.0 Q232.1,267.3 230.5,268.4 Q229.4,266.9 227.5,267.0 Q227.4,265.1 225.6,264.2 Q226.6,262.5 225.6,260.8 Q227.4,259.9 227.5,258.0 Q229.4,258.1 230.5,256.6 Q232.1,257.7 233.9,257.0 Q234.5,258.9 236.4,259.3 Q236.0,261.1 237.4,262.5Z" stroke="#333" stroke-width="0.8" fill="none"/>
<path d="M237.2,272.9 Q237.4,274.3 236.3,276.4 Q235.1,278.5 233.2,278.6 Q231.3,278.7 230.0,278.2 Q228.6,277.7 228.1,275.7 Q227.6,273.8 228.4,272.1 Q229.3,270.3 231.7,269.9 Q234.1,269.5 235.6,270.5 Q237.0,271.4 237.2,272.9Z" stroke="#111" stroke-width="1.296" fill="#f0f0f0"/>
<circle cx="231.7" cy="273.2" r="0.4" fill="#777"/>
<circle cx="232.0" cy="272.0" r="0.4" fill="#777"/>
<circle cx="232.6" cy="271.9" r="0.4" fill="#777"/>
<circle cx="232.8" cy="275.6" r="0.4" fill="#777"/>
<path d="M234.4,272.2 Q232.5,274.0 234.9,275.2" stroke="#999" stroke-width="0.4" fill="none"/>
<path d="M242.8,281.3 Q243.2,283.4 242.6,284.4 Q241.9,285.4 240.0,286.0 Q238.1,286.6 236.1,285.2 Q234.1,283.8 234.0,282.8 Q234.0,281.9 235.3,280.0 Q236.7,278.0 238.0,277.9 Q239.3,277.7 240.8,278.5 Q242.4,279.2 242.8,281.3Z" stroke="#111" stroke-width="1.296" fill="#f0f0f0"/>
<circle cx="240.8" cy="284.0" r="0.4" fill="#777"/>
<circle cx="236.9" cy="283.2" r="0.4" fill="#777"/>
<circle cx="237.5" cy="282.2" r="0.4" fill="#777"/>
<circle cx="238.7" cy="282.3" r="0.4" fill="#777"/>
<path d="M236.3,281.1 Q238.6,282.0 238.6,279.5" stroke="#999" stroke-width="0.4" fill="none"/>
<path d="M244.5,291.3 Q244.5,293.0 243.8,294.0 Q243.1,295.1 240.6,295.6 Q238.0,296.1 236.6,295.0 Q235.1,293.9 235.0,291.9 Q234.8,289.9 235.9,289.0 Q237.1,288.0 239.4,287.5 Q241.6,287.1 243.0,288.4 Q244.4,289.6 244.5,291.3Z" stroke="#111" stroke-width="1.296" fill="#f0f0f0"/>
<circle cx="241.9" cy="292.5" r="0.4" fill="#777"/>
<circle cx="237.8" cy="292.6" r="0.4" fill="#777"/>
<circle cx="239.3" cy="293.0" r="0.4" fill="#777"/>
<circle cx="237.8" cy="291.8" r="0.4" fill="#777"/>
<path d="M239.9,294.0 Q239.7,291.5 237.5,292.6" stroke="#999" stroke-width="0.4" fill="none"/>
<path d="M273.0,222.0 L272.0,223.1 L272.3,224.5 L270.9,224.9 L270.5,226.3 L269.1,226.0 L268.0,227.0 L266.9,226.0 L265.5,226.3 L265.1,224.9 L263.7,224.5 L264.0,223.1 L263.0,222.0 L264.0,220.9 L263.7,219.5 L265.1,219.1 L265.5,217.7 L266.9,218.0 L268.0,217.0 L269.1,218.0 L270.5,217.7 L270.9,219.1 L272.3,219.5 L272.0,220.9 L273.0,222.0Z" stroke="#666" stroke-width="0.5" fill="none"/>
<circle cx="268.0" cy="222.0" r="1.4" fill="#555"/>
<line x1="265.0" y1="222.0" x2="271.0" y2="222.0" stroke="#555" stroke-width="0.5"/>
<line x1="265.9" y1="219.9" x2="270.1" y2="224.1" stroke="#555" stroke-width="0.5"/>
<line x1="268.0" y1="219.0" x2="268.0" y2="225.0" stroke="#555" stroke-width="0.5"/>
<line x1="270.1" y1="219.9" x2="265.9" y2="224.1" stroke="#555" stroke-width="0.5"/>
<circle cx="252.0" cy="276.0" r="0.7" fill="#555"/>
<line x1="250.4" y1="276.0" x2="253.6" y2="276.0" stroke="#555" stroke-width="0.5"/>
<line x1="250.9" y1="274.9" x2="253.1" y2="277.1" stroke="#555" stroke-width="0.5"/>
<line x1="252.0" y1="274.4" x2="252.0" y2="277.6" stroke="#555" stroke-width="0.5"/>
<line x1="253.1" y1="274.9" x2="250.9" y2="277.1" stroke="#555" stroke-width="0.5"/>
<circle cx="258.0" cy="279.0" r="0.7" fill="#555"/>
<line x1="256.4" y1="279.0" x2="259.6" y2="279.0" stroke="#555" stroke-width="0.5"/>
<line x1="256.9" y1="277.9" x2="259.1" y2="280.1" stroke="#555" stroke-width="0.5"/>
<line x1="258.0" y1="277.4" x2="258.0" y2="280.6" stroke="#555" stroke-width="0.5"/>
<line x1="259.1" y1="277.9" x2="256.9" y2="280.1" stroke="#555" stroke-width="0.5"/>
<circle cx="262.0" cy="274.0" r="0.7" fill="#555"/>
<line x1="260.4" y1="274.0" x2="263.6" y2="274.0" stroke="#555" stroke-width="0.5"/>
<line x1="260.9" y1="272.9" x2="263.1" y2="275.1" stroke="#555" stroke-width="0.5"/>
<line x1="262.0" y1="272.4" x2="262.0" y2="275.6" stroke="#555" stroke-width="0.5"/>
<line x1="263.1" y1="272.9" x2="260.9" y2="275.1" stroke="#555" stroke-width="0.5"/>
<path d="M279.0,239.7 Q278.1,241.4 278.0,243.3 Q276.4,244.3 275.4,245.9 Q273.5,246.0 271.8,246.9 Q270.1,246.0 268.2,245.9 Q267.2,244.3 265.6,243.3 Q265.5,241.4 264.6,239.7 Q265.5,238.0 265.6,236.1 Q267.2,235.1 268.2,233.5 Q270.1,233.4 271.8,232.5 Q273.5,233.4 275.4,233.5 Q276.4,235.1 278.0,236.1 Q278.1,238.0 279.0,239.7Z" stroke="#333" stroke-width="0.8" fill="none"/>
<line x1="267.3" y1="235.2" x2="276.3" y2="244.2" stroke="#666" stroke-width="0.5"/>
<line x1="267.3" y1="244.2" x2="276.3" y2="235.2" stroke="#666" stroke-width="0.5"/>
<path d="M294.5,239.7 Q293.6,241.4 293.5,243.3 Q291.9,244.3 290.9,245.9 Q289.0,246.0 287.3,246.9 Q285.6,246.0 283.7,245.9 Q282.7,244.3 281.1,243.3 Q281.0,241.4 280.1,239.7 Q281.0,238.0 281.1,236.1 Q282.7,235.1 283.7,233.5 Q285.6,233.4 287.3,232.5 Q289.0,233.4 290.9,233.5 Q291.9,235.1 293.5,236.1 Q293.6,238.0 294.5,239.7Z" stroke="#333" stroke-width="0.8" fill="none"/>
<line x1="282.8" y1="235.2" x2="291.8" y2="244.2" stroke="#666" stroke-width="0.5"/>
<line x1="282.8" y1="244.2" x2="291.8" y2="235.2" stroke="#666" stroke-width="0.5"/>
<path d="M310.1,239.7 Q309.2,241.4 309.1,243.3 Q307.5,244.3 306.5,245.9 Q304.6,246.0 302.9,246.9 Q301.2,246.0 299.3,245.9 Q298.3,244.3 296.7,243.3 Q296.6,241.4 295.7,239.7 Q296.6,238.0 296.7,236.1 Q298.3,235.1 299.3,233.5 Q301.2,233.4 302.9,232.5 Q304.6,233.4 306.5,233.5 Q307.5,235.1 309.1,236.1 Q309.2,238.0 310.1,239.7Z" stroke="#333" stroke-width="0.8" fill="none"/>
<line x1="298.4" y1="235.2" x2="307.4" y2="244.2" stroke="#666" stroke-width="0.5"/>
<line x1="298.4" y1="244.2" x2="307.4" y2="235.2" stroke="#666" stroke-width="0.5"/>
<rect x="321" y="240" width="6" height="6" fill="none" stroke="#888" stroke-width="0.6"/>
<path d="M240,212 C260,211 280,220 295,229 C305,234 315,236 330,236" stroke="#999" stroke-width="0.5" fill="none"/>
<polyline points="263.3,137.0 263.3,250.0" stroke="#999" stroke-width="0.6" fill="none"/>
<polyline points="263.3,193.0 277.0,193.0 277.0,200.0 272.0,204.0" stroke="#999" stroke-width="0.6" fill="none"/>
<polygon points="200,280 215,276 232,276 240,282 236,300 228,320 224,345 226,370 236,395 240,410 235,440 215,442 210,425 212,400 200,385 188,370 180,350 177,330 178,310 185,295" fill="url(#stip)" stroke="none"/>
<rect x="247" y="280" width="14" height="17" fill="url(#stip)" stroke="#aaa" stroke-width="0.5" opacity="0.7"/>
<path d="M212.8,284.4 Q213.3,286.6 211.6,289.3 Q209.9,292.0 207.3,292.1 Q204.8,292.2 202.7,290.6 Q200.7,289.1 200.4,287.5 Q200.1,286.0 200.9,283.7 Q201.8,281.3 205.4,280.9 Q209.1,280.4 210.7,281.3 Q212.2,282.1 212.8,284.4Z" stroke="#111" stroke-width="1.35" fill="#f0f0f0"/>
<circle cx="204.9" cy="284.2" r="0.4" fill="#777"/>
<circle cx="204.8" cy="285.3" r="0.4" fill="#777"/>
<circle cx="207.5" cy="289.1" r="0.4" fill="#777"/>
<circle cx="204.9" cy="289.0" r="0.4" fill="#777"/>
<path d="M203.5,285.0 Q206.7,286.2 206.6,282.8" stroke="#999" stroke-width="0.4" fill="none"/>
<path d="M199.9,292.6 Q200.4,295.6 198.7,298.0 Q197.0,300.4 194.9,300.5 Q192.9,300.6 191.1,299.4 Q189.3,298.1 188.3,295.8 Q187.4,293.4 188.5,291.2 Q189.6,289.0 192.0,288.6 Q194.4,288.1 196.8,288.9 Q199.3,289.7 199.9,292.6Z" stroke="#111" stroke-width="1.35" fill="#f0f0f0"/>
<circle cx="193.4" cy="294.0" r="0.4" fill="#777"/>
<circle cx="193.1" cy="295.1" r="0.4" fill="#777"/>
<circle cx="193.6" cy="292.4" r="0.4" fill="#777"/>
<circle cx="193.8" cy="293.0" r="0.4" fill="#777"/>
<path d="M196.8,296.4 Q194.2,294.2 193.1,297.4" stroke="#999" stroke-width="0.4" fill="none"/>
<path d="M218.8,291.6 Q219.5,293.3 218.5,295.4 Q217.5,297.4 214.8,297.9 Q212.1,298.4 210.2,297.2 Q208.4,295.9 207.9,294.4 Q207.5,292.9 209.0,290.5 Q210.4,288.1 213.0,287.8 Q215.6,287.5 216.9,288.7 Q218.1,289.8 218.8,291.6Z" stroke="#111" stroke-width="1.35" fill="#f0f0f0"/>
<circle cx="211.5" cy="294.7" r="0.4" fill="#777"/>
<circle cx="214.5" cy="293.6" r="0.4" fill="#777"/>
<circle cx="213.2" cy="293.0" r="0.4" fill="#777"/>
<circle cx="212.0" cy="293.2" r="0.4" fill="#777"/>
<path d="M215.3,295.4 Q213.5,293.0 211.9,295.6" stroke="#999" stroke-width="0.4" fill="none"/>
<path d="M193.2,305.5 Q193.4,308.0 192.0,309.7 Q190.6,311.4 188.7,311.5 Q186.8,311.5 184.3,310.1 Q181.9,308.7 181.1,306.6 Q180.3,304.6 182.5,302.4 Q184.6,300.2 186.1,299.8 Q187.5,299.5 190.2,301.3 Q192.9,303.0 193.2,305.5Z" stroke="#111" stroke-width="1.35" fill="#f0f0f0"/>
<circle cx="185.6" cy="303.2" r="0.4" fill="#777"/>
<circle cx="185.0" cy="305.7" r="0.4" fill="#777"/>
<circle cx="185.3" cy="305.0" r="0.4" fill="#777"/>
<circle cx="188.7" cy="307.0" r="0.4" fill="#777"/>
<path d="M184.4,307.3 Q187.3,305.6 184.6,303.5" stroke="#999" stroke-width="0.4" fill="none"/>
<path d="M209.3,302.0 Q209.5,304.9 207.5,306.6 Q205.5,308.2 203.3,308.8 Q201.1,309.4 198.4,307.3 Q195.8,305.1 195.0,303.3 Q194.1,301.6 195.5,299.1 Q196.9,296.7 200.0,295.7 Q203.1,294.8 206.1,296.9 Q209.0,299.0 209.3,302.0Z" stroke="#111" stroke-width="1.35" fill="#f0f0f0"/>
<circle cx="201.3" cy="300.9" r="0.4" fill="#777"/>
<circle cx="202.9" cy="303.0" r="0.4" fill="#777"/>
<circle cx="201.5" cy="301.9" r="0.4" fill="#777"/>
<circle cx="202.4" cy="300.4" r="0.4" fill="#777"/>
<path d="M203.7,305.6 Q202.1,302.1 199.5,304.9" stroke="#999" stroke-width="0.4" fill="none"/>
<path d="M222.8,300.4 Q223.2,302.8 221.9,304.4 Q220.7,306.1 219.0,306.3 Q217.3,306.5 215.5,305.3 Q213.8,304.1 213.0,302.2 Q212.2,300.2 213.2,298.6 Q214.2,296.9 216.5,296.4 Q218.7,296.0 220.6,297.0 Q222.5,298.0 222.8,300.4Z" stroke="#111" stroke-width="1.35" fill="#f0f0f0"/>
<circle cx="217.8" cy="303.0" r="0.4" fill="#777"/>
<circle cx="220.2" cy="299.6" r="0.4" fill="#777"/>
<circle cx="220.5" cy="301.6" r="0.4" fill="#777"/>
<circle cx="220.4" cy="302.6" r="0.4" fill="#777"/>
<path d="M215.2,300.5 Q218.0,301.0 217.4,298.2" stroke="#999" stroke-width="0.4" fill="none"/>
<path d="M189.1,316.5 Q189.6,318.9 188.7,320.4 Q187.8,321.8 184.3,322.2 Q180.8,322.6 178.7,321.3 Q176.5,320.0 176.1,318.2 Q175.7,316.5 177.2,314.2 Q178.8,311.9 181.7,311.3 Q184.6,310.7 186.6,312.4 Q188.5,314.1 189.1,316.5Z" stroke="#111" stroke-width="1.35" fill="#f0f0f0"/>
<circle cx="182.7" cy="314.8" r="0.4" fill="#777"/>
<circle cx="181.4" cy="316.9" r="0.4" fill="#777"/>
<circle cx="180.2" cy="316.1" r="0.4" fill="#777"/>
<circle cx="184.8" cy="315.0" r="0.4" fill="#777"/>
<path d="M179.7,318.4 Q182.8,317.0 180.4,314.6" stroke="#999" stroke-width="0.4" fill="none"/>
<path d="M200.1,313.2 Q200.9,315.3 198.9,318.0 Q196.8,320.7 194.9,320.7 Q193.0,320.8 190.9,320.0 Q188.8,319.3 188.4,316.1 Q188.0,312.9 189.3,311.0 Q190.6,309.1 193.6,309.0 Q196.5,308.9 197.9,310.0 Q199.2,311.0 200.1,313.2Z" stroke="#111" stroke-width="1.35" fill="#f0f0f0"/>
<circle cx="194.8" cy="317.3" r="0.4" fill="#777"/>
<circle cx="195.7" cy="312.5" r="0.4" fill="#777"/>
<circle cx="193.4" cy="312.1" r="0.4" fill="#777"/>
<circle cx="192.1" cy="314.7" r="0.4" fill="#777"/>
<path d="M196.1,317.5 Q194.2,314.7 192.3,317.5" stroke="#999" stroke-width="0.4" fill="none"/>
<path d="M211.9,314.1 Q212.9,316.1 211.0,318.5 Q209.2,320.8 207.6,321.0 Q206.1,321.2 204.3,320.3 Q202.5,319.5 201.5,317.4 Q200.5,315.3 201.7,313.5 Q203.0,311.7 206.0,311.0 Q209.0,310.2 210.0,311.1 Q211.0,312.1 211.9,314.1Z" stroke="#111" stroke-width="1.35" fill="#f0f0f0"/>
<circle cx="209.4" cy="315.2" r="0.4" fill="#777"/>
<circle cx="207.4" cy="316.9" r="0.4" fill="#777"/>
<circle cx="207.5" cy="313.4" r="0.4" fill="#777"/>
<circle cx="207.9" cy="317.5" r="0.4" fill="#777"/>
<path d="M203.8,316.8 Q206.7,315.8 204.8,313.5" stroke="#999" stroke-width="0.4" fill="none"/>
<path d="M188.0,327.3 Q188.2,329.0 186.6,331.2 Q185.0,333.4 182.6,334.2 Q180.2,335.0 178.0,333.3 Q175.9,331.7 175.6,329.0 Q175.3,326.3 176.2,324.7 Q177.2,323.1 179.6,322.3 Q182.1,321.6 184.9,323.6 Q187.7,325.6 188.0,327.3Z" stroke="#111" stroke-width="1.35" fill="#f0f0f0"/>
<circle cx="181.7" cy="325.6" r="0.4" fill="#777"/>
<circle cx="179.6" cy="330.0" r="0.4" fill="#777"/>
<circle cx="183.0" cy="329.1" r="0.4" fill="#777"/>
<circle cx="179.4" cy="329.7" r="0.4" fill="#777"/>
<path d="M185.0,328.1 Q181.6,328.3 183.1,331.4" stroke="#999" stroke-width="0.4" fill="none"/>
<path d="M197.9,329.0 Q198.0,331.8 196.4,333.4 Q194.7,335.0 192.7,335.3 Q190.7,335.5 188.6,334.1 Q186.6,332.7 186.0,330.6 Q185.5,328.5 186.3,326.6 Q187.0,324.7 190.6,324.3 Q194.2,323.9 195.9,325.1 Q197.7,326.3 197.9,329.0Z" stroke="#111" stroke-width="1.35" fill="#f0f0f0"/>
<circle cx="191.4" cy="330.1" r="0.4" fill="#777"/>
<circle cx="192.9" cy="328.1" r="0.4" fill="#777"/>
<circle cx="191.0" cy="329.5" r="0.4" fill="#777"/>
<circle cx="195.0" cy="332.2" r="0.4" fill="#777"/>
<path d="M192.5,326.1 Q191.9,329.5 195.2,328.8" stroke="#999" stroke-width="0.4" fill="none"/>
<path d="M206.0,333.0 Q206.4,335.8 204.9,337.5 Q203.4,339.2 201.7,339.4 Q200.0,339.7 198.4,338.6 Q196.7,337.5 196.1,335.3 Q195.4,333.1 196.7,331.1 Q198.1,329.2 200.0,328.9 Q201.9,328.6 203.8,329.4 Q205.7,330.3 206.0,333.0Z" stroke="#111" stroke-width="1.35" fill="#f0f0f0"/>
<circle cx="203.2" cy="333.2" r="0.4" fill="#777"/>
<circle cx="202.7" cy="333.0" r="0.4" fill="#777"/>
<circle cx="202.4" cy="332.6" r="0.4" fill="#777"/>
<circle cx="201.4" cy="333.5" r="0.4" fill="#777"/>
<path d="M203.1,331.8 Q201.0,334.0 203.8,335.1" stroke="#999" stroke-width="0.4" fill="none"/>
<path d="M187.6,340.6 Q188.3,343.2 186.7,345.4 Q185.1,347.6 182.1,347.9 Q179.1,348.2 178.0,347.1 Q176.8,346.0 175.9,343.4 Q175.1,340.9 177.0,338.4 Q178.9,335.9 180.9,335.9 Q182.8,335.9 184.8,336.9 Q186.8,337.9 187.6,340.6Z" stroke="#111" stroke-width="1.35" fill="#f0f0f0"/>
<circle cx="184.2" cy="339.9" r="0.4" fill="#777"/>
<circle cx="181.3" cy="341.0" r="0.4" fill="#777"/>
<circle cx="182.3" cy="340.5" r="0.4" fill="#777"/>
<circle cx="178.9" cy="343.1" r="0.4" fill="#777"/>
<path d="M180.4,345.2 Q181.6,342.0 178.2,342.0" stroke="#999" stroke-width="0.4" fill="none"/>
<path d="M198.4,343.5 Q199.0,345.5 196.9,348.0 Q194.9,350.6 192.7,351.0 Q190.5,351.4 188.0,349.8 Q185.5,348.2 185.3,346.4 Q185.2,344.6 186.7,342.4 Q188.3,340.3 190.7,339.8 Q193.0,339.2 195.4,340.4 Q197.8,341.6 198.4,343.5Z" stroke="#111" stroke-width="1.35" fill="#f0f0f0"/>
<circle cx="193.3" cy="342.5" r="0.4" fill="#777"/>
<circle cx="191.0" cy="348.3" r="0.4" fill="#777"/>
<circle cx="193.5" cy="346.1" r="0.4" fill="#777"/>
<circle cx="192.8" cy="346.5" r="0.4" fill="#777"/>
<path d="M193.6,348.3 Q191.9,345.4 189.8,348.1" stroke="#999" stroke-width="0.4" fill="none"/>
<path d="M207.8,347.9 Q207.7,349.3 206.3,351.4 Q204.9,353.5 202.8,353.8 Q200.7,354.0 198.6,352.5 Q196.5,351.0 196.5,349.6 Q196.6,348.2 198.0,345.8 Q199.4,343.4 201.1,343.5 Q202.9,343.5 205.4,345.0 Q207.9,346.5 207.8,347.9Z" stroke="#111" stroke-width="1.35" fill="#f0f0f0"/>
<circle cx="201.9" cy="346.7" r="0.4" fill="#777"/>
<circle cx="203.5" cy="351.4" r="0.4" fill="#777"/>
<circle cx="201.0" cy="348.1" r="0.4" fill="#777"/>
<circle cx="204.1" cy="350.2" r="0.4" fill="#777"/>
<path d="M204.7,347.3 Q202.1,348.8 204.5,350.7" stroke="#999" stroke-width="0.4" fill="none"/>
<path d="M191.2,355.4 Q191.0,357.8 190.1,359.0 Q189.3,360.1 186.1,361.1 Q182.9,362.1 180.8,360.1 Q178.6,358.2 178.5,356.1 Q178.3,354.0 179.8,352.2 Q181.2,350.4 183.3,350.1 Q185.4,349.8 188.3,351.3 Q191.3,352.9 191.2,355.4Z" stroke="#111" stroke-width="1.35" fill="#f0f0f0"/>
<circle cx="187.9" cy="357.2" r="0.4" fill="#777"/>
<circle cx="185.5" cy="353.6" r="0.4" fill="#777"/>
<circle cx="187.3" cy="355.9" r="0.4" fill="#777"/>
<circle cx="187.3" cy="357.4" r="0.4" fill="#777"/>
<path d="M185.8,352.4 Q185.0,355.7 188.4,355.2" stroke="#999" stroke-width="0.4" fill="none"/>
<path d="M201.3,359.2 Q201.7,362.3 200.0,363.8 Q198.3,365.4 195.9,366.0 Q193.5,366.6 191.6,365.2 Q189.8,363.7 189.2,361.7 Q188.7,359.6 190.2,357.0 Q191.6,354.5 194.2,354.3 Q196.8,354.0 198.8,355.1 Q200.8,356.2 201.3,359.2Z" stroke="#111" stroke-width="1.35" fill="#f0f0f0"/>
<circle cx="194.2" cy="357.5" r="0.4" fill="#777"/>
<circle cx="195.6" cy="360.3" r="0.4" fill="#777"/>
<circle cx="197.3" cy="359.8" r="0.4" fill="#777"/>
<circle cx="196.4" cy="359.4" r="0.4" fill="#777"/>
<path d="M191.9,360.4 Q195.3,360.2 193.9,357.1" stroke="#999" stroke-width="0.4" fill="none"/>
<path d="M213.0,362.2 Q213.4,364.1 212.3,366.0 Q211.1,367.9 209.0,368.4 Q206.9,368.9 204.8,367.8 Q202.8,366.7 202.2,364.7 Q201.6,362.8 202.5,361.0 Q203.4,359.3 206.1,358.8 Q208.8,358.3 210.7,359.3 Q212.5,360.3 213.0,362.2Z" stroke="#111" stroke-width="1.35" fill="#f0f0f0"/>
<circle cx="205.1" cy="364.7" r="0.4" fill="#777"/>
<circle cx="208.6" cy="364.1" r="0.4" fill="#777"/>
<circle cx="208.5" cy="365.8" r="0.4" fill="#777"/>
<circle cx="207.7" cy="363.9" r="0.4" fill="#777"/>
<path d="M210.6,362.5 Q207.8,363.6 209.8,365.8" stroke="#999" stroke-width="0.4" fill="none"/>
<path d="M193.5,366.3 Q193.9,368.5 193.2,369.8 Q192.4,371.1 189.6,371.6 Q186.8,372.2 184.9,370.8 Q183.0,369.4 182.8,367.6 Q182.6,365.8 184.0,364.0 Q185.3,362.2 187.9,361.9 Q190.5,361.5 191.8,362.8 Q193.1,364.1 193.5,366.3Z" stroke="#111" stroke-width="1.35" fill="#f0f0f0"/>
<circle cx="186.9" cy="365.0" r="0.4" fill="#777"/>
<circle cx="190.6" cy="369.5" r="0.4" fill="#777"/>
<circle cx="187.8" cy="368.4" r="0.4" fill="#777"/>
<circle cx="186.1" cy="368.9" r="0.4" fill="#777"/>
<path d="M191.3,368.1 Q188.5,367.0 188.4,370.0" stroke="#999" stroke-width="0.4" fill="none"/>
<path d="M203.4,375.7 Q203.5,378.4 202.1,380.1 Q200.7,381.9 197.8,382.0 Q195.0,382.1 193.7,380.9 Q192.5,379.6 191.5,377.3 Q190.5,375.0 192.9,372.8 Q195.2,370.5 197.4,370.5 Q199.6,370.4 201.4,371.7 Q203.2,372.9 203.4,375.7Z" stroke="#111" stroke-width="1.35" fill="#f0f0f0"/>
<circle cx="196.1" cy="375.8" r="0.4" fill="#777"/>
<circle cx="199.0" cy="377.3" r="0.4" fill="#777"/>
<circle cx="196.6" cy="373.9" r="0.4" fill="#777"/>
<circle cx="194.6" cy="378.8" r="0.4" fill="#777"/>
<path d="M194.2,375.8 Q197.6,376.2 196.7,372.9" stroke="#999" stroke-width="0.4" fill="none"/>
<path d="M214.0,377.4 Q214.5,379.6 213.0,381.7 Q211.4,383.8 209.5,384.1 Q207.5,384.3 206.0,383.4 Q204.5,382.5 203.9,380.3 Q203.3,378.0 204.3,375.9 Q205.2,373.9 208.2,373.5 Q211.3,373.1 212.3,374.2 Q213.4,375.2 214.0,377.4Z" stroke="#111" stroke-width="1.35" fill="#f0f0f0"/>
<circle cx="207.8" cy="376.9" r="0.4" fill="#777"/>
<circle cx="209.0" cy="378.5" r="0.4" fill="#777"/>
<circle cx="206.9" cy="376.9" r="0.4" fill="#777"/>
<circle cx="211.1" cy="379.6" r="0.4" fill="#777"/>
<path d="M211.5,380.2 Q209.0,378.5 208.3,381.4" stroke="#999" stroke-width="0.4" fill="none"/>
<path d="M212.2,386.5 Q212.7,387.8 211.6,390.1 Q210.4,392.5 207.8,392.8 Q205.2,393.1 203.3,391.4 Q201.4,389.8 201.3,387.8 Q201.2,385.7 202.4,384.0 Q203.6,382.3 206.1,382.3 Q208.6,382.2 210.1,383.7 Q211.6,385.3 212.2,386.5Z" stroke="#111" stroke-width="1.35" fill="#f0f0f0"/>
<circle cx="206.3" cy="389.6" r="0.4" fill="#777"/>
<circle cx="208.1" cy="387.3" r="0.4" fill="#777"/>
<circle cx="205.2" cy="386.8" r="0.4" fill="#777"/>
<circle cx="206.3" cy="385.5" r="0.4" fill="#777"/>
<path d="M209.5,386.4 Q206.7,387.6 208.8,389.8" stroke="#999" stroke-width="0.4" fill="none"/>
<path d="M220.9,386.5 Q221.4,388.7 220.4,390.4 Q219.5,392.1 216.8,392.5 Q214.1,392.9 212.5,391.8 Q210.9,390.8 210.6,388.4 Q210.4,386.0 211.2,384.9 Q212.0,383.7 215.0,383.2 Q217.9,382.6 219.2,383.5 Q220.4,384.4 220.9,386.5Z" stroke="#111" stroke-width="1.35" fill="#f0f0f0"/>
<circle cx="213.9" cy="386.7" r="0.4" fill="#777"/>
<circle cx="217.3" cy="387.5" r="0.4" fill="#777"/>
<circle cx="215.2" cy="390.1" r="0.4" fill="#777"/>
<circle cx="215.9" cy="387.3" r="0.4" fill="#777"/>
<path d="M218.3,389.0 Q215.8,387.6 215.4,390.4" stroke="#999" stroke-width="0.4" fill="none"/>
<path d="M221.8,397.6 Q222.3,399.1 221.2,401.1 Q220.1,403.1 217.6,403.4 Q215.2,403.7 213.8,402.7 Q212.4,401.8 212.2,399.6 Q212.0,397.3 212.8,396.1 Q213.7,394.9 215.6,394.5 Q217.5,394.1 219.4,395.1 Q221.3,396.1 221.8,397.6Z" stroke="#111" stroke-width="1.35" fill="#f0f0f0"/>
<circle cx="217.5" cy="396.8" r="0.4" fill="#777"/>
<circle cx="216.0" cy="398.7" r="0.4" fill="#777"/>
<circle cx="219.1" cy="396.9" r="0.4" fill="#777"/>
<circle cx="215.1" cy="400.5" r="0.4" fill="#777"/>
<path d="M219.8,399.4 Q217.0,399.0 217.7,401.8" stroke="#999" stroke-width="0.4" fill="none"/>
<path d="M226.6,409.5 Q227.2,412.5 226.5,413.8 Q225.8,415.0 223.1,415.7 Q220.4,416.3 218.9,415.2 Q217.3,414.2 216.4,411.1 Q215.5,408.0 216.4,407.1 Q217.2,406.1 219.9,405.5 Q222.5,404.8 224.2,405.6 Q225.9,406.4 226.6,409.5Z" stroke="#111" stroke-width="1.35" fill="#f0f0f0"/>
<circle cx="219.5" cy="408.5" r="0.4" fill="#777"/>
<circle cx="223.6" cy="409.5" r="0.4" fill="#777"/>
<circle cx="220.3" cy="409.7" r="0.4" fill="#777"/>
<circle cx="219.3" cy="412.6" r="0.4" fill="#777"/>
<path d="M218.4,410.0 Q221.5,410.3 220.6,407.3" stroke="#999" stroke-width="0.4" fill="none"/>
<path d="M227.5,419.2 Q227.6,421.3 226.3,422.7 Q225.0,424.1 223.0,424.3 Q221.0,424.5 219.4,423.4 Q217.7,422.3 217.3,420.9 Q216.8,419.5 217.8,417.5 Q218.9,415.5 221.7,414.9 Q224.5,414.4 225.9,415.7 Q227.4,417.1 227.5,419.2Z" stroke="#111" stroke-width="1.35" fill="#f0f0f0"/>
<circle cx="222.5" cy="417.9" r="0.4" fill="#777"/>
<circle cx="222.5" cy="417.6" r="0.4" fill="#777"/>
<circle cx="224.8" cy="418.3" r="0.4" fill="#777"/>
<circle cx="223.2" cy="419.7" r="0.4" fill="#777"/>
<path d="M220.0,420.7 Q222.6,419.5 220.5,417.5" stroke="#999" stroke-width="0.4" fill="none"/>
<path d="M225.4,427.7 Q225.9,429.8 224.8,431.5 Q223.7,433.1 221.5,433.5 Q219.4,433.8 217.9,432.9 Q216.4,431.9 215.9,429.6 Q215.3,427.4 216.5,425.6 Q217.6,423.9 219.4,423.5 Q221.2,423.1 223.1,424.3 Q224.9,425.5 225.4,427.7Z" stroke="#111" stroke-width="1.35" fill="#f0f0f0"/>
<circle cx="222.0" cy="428.5" r="0.4" fill="#777"/>
<circle cx="220.5" cy="426.0" r="0.4" fill="#777"/>
<circle cx="221.1" cy="427.6" r="0.4" fill="#777"/>
<circle cx="218.7" cy="429.3" r="0.4" fill="#777"/>
<path d="M218.1,430.3 Q220.4,428.6 218.0,427.1" stroke="#999" stroke-width="0.4" fill="none"/>
<path d="M217.6,435.3 Q218.1,436.6 216.7,438.7 Q215.2,440.8 213.8,441.5 Q212.3,442.2 210.2,440.8 Q208.0,439.5 207.3,437.3 Q206.6,435.0 207.7,433.5 Q208.7,432.0 210.9,431.4 Q213.1,430.8 215.1,432.5 Q217.0,434.1 217.6,435.3Z" stroke="#111" stroke-width="1.35" fill="#f0f0f0"/>
<circle cx="214.6" cy="434.5" r="0.4" fill="#777"/>
<circle cx="210.3" cy="437.0" r="0.4" fill="#777"/>
<circle cx="214.9" cy="434.0" r="0.4" fill="#777"/>
<circle cx="214.7" cy="437.7" r="0.4" fill="#777"/>
<path d="M211.7,433.7 Q212.4,436.5 214.7,434.8" stroke="#999" stroke-width="0.4" fill="none"/>
<path d="M237.8,427.9 Q237.9,430.5 236.9,431.7 Q235.8,432.8 234.3,433.2 Q232.8,433.7 230.5,432.4 Q228.2,431.2 227.8,429.2 Q227.3,427.1 228.7,425.8 Q230.1,424.4 231.6,423.9 Q233.1,423.4 235.4,424.3 Q237.7,425.2 237.8,427.9Z" stroke="#111" stroke-width="1.35" fill="#f0f0f0"/>
<circle cx="234.0" cy="428.3" r="0.4" fill="#777"/>
<circle cx="231.2" cy="428.1" r="0.4" fill="#777"/>
<circle cx="235.1" cy="430.4" r="0.4" fill="#777"/>
<circle cx="232.0" cy="427.7" r="0.4" fill="#777"/>
<path d="M231.2,430.9 Q232.9,428.6 230.1,427.9" stroke="#999" stroke-width="0.4" fill="none"/>
<path d="M232.5,411.1 Q232.9,412.5 232.1,413.8 Q231.3,415.1 229.0,415.4 Q226.6,415.8 225.6,414.7 Q224.5,413.6 224.4,411.9 Q224.3,410.2 225.1,409.1 Q226.0,408.1 227.9,407.7 Q229.7,407.4 230.9,408.5 Q232.1,409.6 232.5,411.1Z" stroke="#111" stroke-width="1.35" fill="#f0f0f0"/>
<circle cx="229.3" cy="412.7" r="0.4" fill="#777"/>
<circle cx="226.8" cy="409.8" r="0.4" fill="#777"/>
<circle cx="226.5" cy="410.5" r="0.4" fill="#777"/>
<circle cx="229.3" cy="409.8" r="0.4" fill="#777"/>
<path d="M230.4,410.6 Q228.3,411.5 229.9,413.1" stroke="#999" stroke-width="0.4" fill="none"/>
<path d="M250.4,417.6 Q250.7,419.4 249.4,421.3 Q248.2,423.2 246.1,423.2 Q244.1,423.1 242.6,422.4 Q241.2,421.6 240.6,418.9 Q240.1,416.2 241.2,415.0 Q242.3,413.7 244.0,413.3 Q245.6,412.8 247.8,414.3 Q250.1,415.7 250.4,417.6Z" stroke="#111" stroke-width="1.35" fill="#f0f0f0"/>
<circle cx="244.7" cy="417.9" r="0.4" fill="#777"/>
<circle cx="247.8" cy="417.6" r="0.4" fill="#777"/>
<circle cx="242.9" cy="419.9" r="0.4" fill="#777"/>
<circle cx="247.3" cy="417.5" r="0.4" fill="#777"/>
<path d="M245.0,415.5 Q245.4,418.3 247.9,416.9" stroke="#999" stroke-width="0.4" fill="none"/>
<path d="M243.5,281.8 Q244.2,283.5 243.2,285.0 Q242.2,286.4 239.9,287.3 Q237.7,288.2 236.0,287.0 Q234.2,285.9 233.8,284.3 Q233.5,282.6 234.7,280.4 Q236.0,278.3 238.0,278.1 Q240.1,277.9 241.5,279.0 Q242.9,280.1 243.5,281.8Z" stroke="#111" stroke-width="1.35" fill="#f0f0f0"/>
<circle cx="237.2" cy="280.6" r="0.4" fill="#777"/>
<circle cx="236.9" cy="282.6" r="0.4" fill="#777"/>
<circle cx="239.1" cy="284.0" r="0.4" fill="#777"/>
<circle cx="239.3" cy="284.4" r="0.4" fill="#777"/>
<path d="M238.4,280.1 Q238.6,282.8 241.1,281.6" stroke="#999" stroke-width="0.4" fill="none"/>
<path d="M243.5,293.1 Q243.9,295.0 242.4,297.1 Q241.0,299.1 239.4,299.4 Q237.9,299.6 235.6,297.9 Q233.4,296.3 233.1,295.2 Q232.8,294.1 233.9,292.1 Q235.0,290.0 237.0,289.5 Q239.0,289.0 241.0,290.1 Q243.1,291.1 243.5,293.1Z" stroke="#111" stroke-width="1.35" fill="#f0f0f0"/>
<circle cx="239.9" cy="295.9" r="0.4" fill="#777"/>
<circle cx="240.3" cy="296.1" r="0.4" fill="#777"/>
<circle cx="239.2" cy="294.4" r="0.4" fill="#777"/>
<circle cx="240.0" cy="294.8" r="0.4" fill="#777"/>
<path d="M239.4,291.6 Q238.6,294.2 241.3,294.0" stroke="#999" stroke-width="0.4" fill="none"/>
<path d="M230.6,282.7 Q231.3,285.0 229.9,286.9 Q228.6,288.8 226.9,288.9 Q225.3,289.1 223.2,287.9 Q221.2,286.7 221.0,284.4 Q220.8,282.0 222.2,280.6 Q223.7,279.2 225.1,279.1 Q226.6,279.1 228.2,279.7 Q229.8,280.4 230.6,282.7Z" stroke="#111" stroke-width="1.35" fill="#f0f0f0"/>
<circle cx="224.3" cy="282.9" r="0.4" fill="#777"/>
<circle cx="224.2" cy="281.5" r="0.4" fill="#777"/>
<circle cx="227.3" cy="283.1" r="0.4" fill="#777"/>
<circle cx="226.8" cy="286.0" r="0.4" fill="#777"/>
<path d="M225.3,286.7 Q226.0,284.0 223.3,284.3" stroke="#999" stroke-width="0.4" fill="none"/>
<path d="M220.0,276.9 Q220.6,278.8 219.3,280.7 Q218.0,282.5 216.2,282.6 Q214.5,282.6 213.4,282.0 Q212.4,281.4 211.8,279.6 Q211.2,277.8 212.3,276.1 Q213.4,274.3 215.2,273.9 Q217.0,273.5 218.2,274.2 Q219.4,274.9 220.0,276.9Z" stroke="#111" stroke-width="1.35" fill="#f0f0f0"/>
<circle cx="216.1" cy="279.3" r="0.4" fill="#777"/>
<circle cx="217.0" cy="277.0" r="0.4" fill="#777"/>
<circle cx="217.8" cy="279.1" r="0.4" fill="#777"/>
<circle cx="216.9" cy="276.9" r="0.4" fill="#777"/>
<path d="M217.7,276.2 Q216.0,278.0 218.3,279.0" stroke="#999" stroke-width="0.4" fill="none"/>
<path d="M203.0,284.7 Q203.3,286.4 202.1,287.9 Q200.8,289.4 198.6,289.5 Q196.4,289.6 195.0,288.9 Q193.7,288.2 193.1,286.5 Q192.5,284.7 193.6,282.7 Q194.6,280.7 196.6,280.2 Q198.6,279.6 200.7,281.3 Q202.8,283.0 203.0,284.7Z" stroke="#111" stroke-width="1.35" fill="#f0f0f0"/>
<circle cx="196.8" cy="282.7" r="0.4" fill="#777"/>
<circle cx="196.9" cy="283.8" r="0.4" fill="#777"/>
<circle cx="198.1" cy="287.4" r="0.4" fill="#777"/>
<circle cx="197.0" cy="286.1" r="0.4" fill="#777"/>
<path d="M196.3,287.2 Q198.0,285.0 195.4,284.2" stroke="#999" stroke-width="0.4" fill="none"/>
<path d="M215.7,336.8 Q216.1,338.5 215.1,339.9 Q214.2,341.3 212.4,341.5 Q210.5,341.7 209.0,340.6 Q207.4,339.6 207.0,337.6 Q206.7,335.6 207.4,334.9 Q208.1,334.2 210.7,333.6 Q213.2,332.9 214.3,334.0 Q215.4,335.1 215.7,336.8Z" stroke="#111" stroke-width="1.35" fill="#f0f0f0"/>
<circle cx="212.7" cy="338.7" r="0.4" fill="#777"/>
<circle cx="209.4" cy="338.6" r="0.4" fill="#777"/>
<circle cx="210.2" cy="338.6" r="0.4" fill="#777"/>
<circle cx="209.2" cy="338.7" r="0.4" fill="#777"/>
<path d="M212.4,339.6 Q211.3,337.4 209.6,339.2" stroke="#999" stroke-width="0.4" fill="none"/>
<circle cx="218.0" cy="314.7" r="5.3" stroke="#111" stroke-width="1.2" fill="#fff"/>
<line x1="218.0" y1="314.7" x2="222.0" y2="314.7" stroke="#555" stroke-width="0.5"/>
<line x1="218.0" y1="314.7" x2="220.0" y2="318.2" stroke="#555" stroke-width="0.5"/>
<line x1="218.0" y1="314.7" x2="216.0" y2="318.2" stroke="#555" stroke-width="0.5"/>
<line x1="218.0" y1="314.7" x2="214.0" y2="314.7" stroke="#555" stroke-width="0.5"/>
<line x1="218.0" y1="314.7" x2="216.0" y2="311.2" stroke="#555" stroke-width="0.5"/>
<line x1="218.0" y1="314.7" x2="220.0" y2="311.3" stroke="#555" stroke-width="0.5"/>
<circle cx="217.0" cy="327.2" r="5.3" stroke="#111" stroke-width="1.2" fill="#fff"/>
<line x1="217.0" y1="327.2" x2="221.0" y2="327.2" stroke="#555" stroke-width="0.5"/>
<line x1="217.0" y1="327.2" x2="219.0" y2="330.7" stroke="#555" stroke-width="0.5"/>
<line x1="217.0" y1="327.2" x2="215.0" y2="330.7" stroke="#555" stroke-width="0.5"/>
<line x1="217.0" y1="327.2" x2="213.0" y2="327.2" stroke="#555" stroke-width="0.5"/>
<line x1="217.0" y1="327.2" x2="215.0" y2="323.7" stroke="#555" stroke-width="0.5"/>
<line x1="217.0" y1="327.2" x2="219.0" y2="323.8" stroke="#555" stroke-width="0.5"/>
<circle cx="211.3" cy="337.4" r="5.3" stroke="#111" stroke-width="1.2" fill="#fff"/>
<line x1="211.3" y1="337.4" x2="215.3" y2="337.4" stroke="#555" stroke-width="0.5"/>
<line x1="211.3" y1="337.4" x2="213.3" y2="340.9" stroke="#555" stroke-width="0.5"/>
<line x1="211.3" y1="337.4" x2="209.3" y2="340.9" stroke="#555" stroke-width="0.5"/>
<line x1="211.3" y1="337.4" x2="207.3" y2="337.4" stroke="#555" stroke-width="0.5"/>
<line x1="211.3" y1="337.4" x2="209.3" y2="333.9" stroke="#555" stroke-width="0.5"/>
<line x1="211.3" y1="337.4" x2="213.3" y2="334.0" stroke="#555" stroke-width="0.5"/>
<circle cx="243.2" cy="386.0" r="5.3" stroke="#111" stroke-width="1.2" fill="#fff"/>
<line x1="243.2" y1="386.0" x2="247.2" y2="386.0" stroke="#555" stroke-width="0.5"/>
<line x1="243.2" y1="386.0" x2="245.2" y2="389.5" stroke="#555" stroke-width="0.5"/>
<line x1="243.2" y1="386.0" x2="241.2" y2="389.5" stroke="#555" stroke-width="0.5"/>
<line x1="243.2" y1="386.0" x2="239.2" y2="386.0" stroke="#555" stroke-width="0.5"/>
<line x1="243.2" y1="386.0" x2="241.2" y2="382.5" stroke="#555" stroke-width="0.5"/>
<line x1="243.2" y1="386.0" x2="245.2" y2="382.6" stroke="#555" stroke-width="0.5"/>
<circle cx="246.6" cy="419.2" r="5.3" stroke="#111" stroke-width="1.2" fill="#fff"/>
<line x1="246.6" y1="419.2" x2="250.6" y2="419.2" stroke="#555" stroke-width="0.5"/>
<line x1="246.6" y1="419.2" x2="248.6" y2="422.7" stroke="#555" stroke-width="0.5"/>
<line x1="246.6" y1="419.2" x2="244.6" y2="422.7" stroke="#555" stroke-width="0.5"/>
<line x1="246.6" y1="419.2" x2="242.6" y2="419.2" stroke="#555" stroke-width="0.5"/>
<line x1="246.6" y1="419.2" x2="244.6" y2="415.7" stroke="#555" stroke-width="0.5"/>
<line x1="246.6" y1="419.2" x2="248.6" y2="415.8" stroke="#555" stroke-width="0.5"/>
<circle cx="234.6" cy="356.0" r="4.7" stroke="#444" stroke-width="0.8" fill="#fff"/>
<circle cx="234.0" cy="366.0" r="4.7" stroke="#444" stroke-width="0.8" fill="#fff"/>
<circle cx="239.2" cy="375.3" r="4.7" stroke="#444" stroke-width="0.8" fill="#fff"/>
<rect x="228.0" y="302.0" width="5.2" height="5.2" fill="none" stroke="#999" stroke-width="0.6"/>
<rect x="227.4" y="312.7" width="5.2" height="5.2" fill="none" stroke="#999" stroke-width="0.6"/>
<rect x="226.0" y="322.0" width="5.2" height="5.2" fill="none" stroke="#999" stroke-width="0.6"/>
<rect x="223.4" y="331.4" width="5.2" height="5.2" fill="none" stroke="#999" stroke-width="0.6"/>
<rect x="221.4" y="339.4" width="5.2" height="5.2" fill="none" stroke="#999" stroke-width="0.6"/>
<rect x="218.0" y="347.4" width="5.2" height="5.2" fill="none" stroke="#999" stroke-width="0.6"/>
<rect x="217.4" y="350.1" width="5.2" height="5.2" fill="none" stroke="#999" stroke-width="0.6"/>
<rect x="218.0" y="358.0" width="5.2" height="5.2" fill="none" stroke="#999" stroke-width="0.6"/>
<rect x="218.0" y="367.4" width="5.2" height="5.2" fill="none" stroke="#999" stroke-width="0.6"/>
<rect x="222.0" y="375.4" width="5.2" height="5.2" fill="none" stroke="#999" stroke-width="0.6"/>
<rect x="227.4" y="384.7" width="5.2" height="5.2" fill="none" stroke="#999" stroke-width="0.6"/>
<rect x="235" y="303" width="7" height="42" fill="url(#stip)" stroke="none"/>
<line x1="214.0" y1="282.0" x2="226.0" y2="274.0" stroke="#555" stroke-width="0.6"/>
<line x1="216.0" y1="287.0" x2="228.0" y2="279.0" stroke="#555" stroke-width="0.6"/>
<line x1="218.0" y1="292.0" x2="230.0" y2="284.0" stroke="#555" stroke-width="0.6"/>
<line x1="220.0" y1="297.0" x2="232.0" y2="289.0" stroke="#555" stroke-width="0.6"/>
<rect x="-3" y="-6" width="6" height="12" transform="translate(236.6,394) rotate(40)" fill="#fff" stroke="#555" stroke-width="0.6"/>
<circle cx="201.3" cy="419.9" r="30.8" stroke="#111" stroke-width="1.5" fill="none"/>
<circle cx="201.3" cy="419.9" r="2.6" fill="#111"/>
<path d="M162,454 C175,456 200,453 215,448 C235,440 250,423 268,409 C280,401 295,398 310,397.4 L368.5,397.5" stroke="#444" stroke-width="0.7" fill="none"/>
<text x="85.9" y="339.9" font-size="4.5" fill="#555" text-anchor="start" textLength="37.3" lengthAdjust="spacingAndGlyphs">Nikko Deutzia (1)</text>
<line x1="125.2" y1="337.8" x2="200.0" y2="337.8" stroke="#555" stroke-width="0.6"/>
<text x="70.4" y="346.6" font-size="4.5" fill="#555" text-anchor="start" textLength="52.8" lengthAdjust="spacingAndGlyphs">Wiola 'Autumn Maple' (5)</text>
<line x1="125.2" y1="344.7" x2="233.0" y2="344.7" stroke="#555" stroke-width="0.6"/>
<text x="88.0" y="367.6" font-size="4.5" fill="#555" text-anchor="start" textLength="41.4" lengthAdjust="spacingAndGlyphs">Knockout Rose (3)</text>
<line x1="131.4" y1="365.8" x2="212.0" y2="365.8" stroke="#555" stroke-width="0.6"/>
<text x="65.2" y="378.4" font-size="4.5" fill="#555" text-anchor="start" textLength="68.3" lengthAdjust="spacingAndGlyphs">Emerald N Gold Euonymus (4)</text>
<line x1="135.6" y1="376.3" x2="206.0" y2="376.3" stroke="#555" stroke-width="0.6"/>
<line x1="230.0" y1="515.0" x2="358.0" y2="520.0" stroke="#555" stroke-width="0.7"/>
<path d="M320.5,520 C321.5,545 323,570 326,595 C328,612 331,630 335,645 C339,660 344,676 348.8,688 C350,690 352,692 354,692.6 C370,688 385,684 399,682 L399,682 C393,680 390,679 385.8,676.2 C379,670 374,664 371,658.5 C367,652 365,646 363.3,640 C361,632 359,626 357.7,620 C355,605 352.5,590 350.7,575 C349.5,555 349,535 348.7,520 Z" fill="url(#stip)" stroke="none"/>
<path d="M320.5,520 C321.5,545 323,570 326,595 C328,612 331,630 335,645 C339,660 344,676 348.8,688 C350,690 352,692 354,692.6 C370,688 385,684 399,682" stroke="#222" stroke-width="1.2" fill="none"/>
<path d="M399,682 C393,680 390,679 385.8,676.2 C379,670 374,664 371,658.5 C367,652 365,646 363.3,640 C361,632 359,626 357.7,620 C355,605 352.5,590 350.7,575 C349.5,555 349,535 348.7,520" stroke="#333" stroke-width="1.0" fill="none"/>
<path d="M323.8,520 C324.8,545 326.3,570 329.3,595 C331.3,612 334.3,630 338.3,645 C342,659 346.5,673 351,684" stroke="#555" stroke-width="0.5" fill="none"/>
<path d="M345.4,520 C345.7,535 346.2,555 347.4,575 C349.2,590 351.7,605 354.4,620 C355.7,626 357.7,632 360,640 C362,647 364.5,653 368,659 C371.5,665 376,671 383,675.5 C388,678.5 392,680 396,681" stroke="#555" stroke-width="0.5" fill="none"/>
<rect x="325.5" y="526.0" width="5" height="4" fill="#fff" stroke="#888" stroke-width="0.4"/>
<rect x="334.5" y="530.0" width="5" height="4" fill="#fff" stroke="#888" stroke-width="0.4"/>
<rect x="339.5" y="543.0" width="5" height="4" fill="#fff" stroke="#888" stroke-width="0.4"/>
<rect x="327.5" y="556.0" width="5" height="4" fill="#fff" stroke="#888" stroke-width="0.4"/>
<rect x="336.5" y="568.0" width="5" height="4" fill="#fff" stroke="#888" stroke-width="0.4"/>
<rect x="342.5" y="584.0" width="5" height="4" fill="#fff" stroke="#888" stroke-width="0.4"/>
<rect x="331.5" y="596.0" width="5" height="4" fill="#fff" stroke="#888" stroke-width="0.4"/>
<rect x="340.5" y="610.0" width="5" height="4" fill="#fff" stroke="#888" stroke-width="0.4"/>
<rect x="347.5" y="624.0" width="5" height="4" fill="#fff" stroke="#888" stroke-width="0.4"/>
<rect x="337.5" y="632.0" width="5" height="4" fill="#fff" stroke="#888" stroke-width="0.4"/>
<rect x="349.5" y="643.0" width="5" height="4" fill="#fff" stroke="#888" stroke-width="0.4"/>
<rect x="341.5" y="653.0" width="5" height="4" fill="#fff" stroke="#888" stroke-width="0.4"/>
<rect x="355.5" y="658.0" width="5" height="4" fill="#fff" stroke="#888" stroke-width="0.4"/>
<rect x="348.5" y="668.0" width="5" height="4" fill="#fff" stroke="#888" stroke-width="0.4"/>
<rect x="361.5" y="670.0" width="5" height="4" fill="#fff" stroke="#888" stroke-width="0.4"/>
<rect x="355.5" y="680.0" width="5" height="4" fill="#fff" stroke="#888" stroke-width="0.4"/>
<rect x="371.5" y="677.0" width="5" height="4" fill="#fff" stroke="#888" stroke-width="0.4"/>
<rect x="382.5" y="678.0" width="5" height="4" fill="#fff" stroke="#888" stroke-width="0.4"/>
<path d="M255.6,518.3 C275,517 300,518 311.6,519.6 C318,521 321,526 321,532" stroke="#222" stroke-width="1.1" fill="none"/>
<path d="M291.7,527.4 Q292.4,530.3 290.2,532.3 Q288.0,534.3 284.5,534.8 Q281.1,535.3 278.6,533.2 Q276.1,531.2 275.4,528.4 Q274.8,525.7 276.3,523.8 Q277.7,521.9 281.3,520.8 Q284.9,519.7 288.0,522.1 Q291.0,524.5 291.7,527.4Z" stroke="#1a1a1a" stroke-width="1.296" fill="#f0f0f0"/>
<circle cx="283.2" cy="526.1" r="0.4" fill="#777"/>
<circle cx="280.7" cy="524.5" r="0.4" fill="#777"/>
<circle cx="286.7" cy="526.6" r="0.4" fill="#777"/>
<circle cx="287.0" cy="526.6" r="0.4" fill="#777"/>
<path d="M281.3,531.4 Q283.6,527.6 279.3,526.9" stroke="#999" stroke-width="0.4" fill="none"/>
<circle cx="284.3" cy="530.8" r="0.4" fill="#888"/>
<circle cx="285.1" cy="531.0" r="0.4" fill="#888"/>
<circle cx="286.5" cy="531.5" r="0.4" fill="#888"/>
<path d="M308.9,527.0 Q309.5,530.4 308.1,532.7 Q306.7,534.9 303.3,535.6 Q299.9,536.3 296.7,534.2 Q293.6,532.1 293.3,528.7 Q293.0,525.3 294.6,523.7 Q296.2,522.2 299.8,521.5 Q303.5,520.8 305.9,522.2 Q308.3,523.5 308.9,527.0Z" stroke="#1a1a1a" stroke-width="1.296" fill="#f0f0f0"/>
<circle cx="300.7" cy="531.9" r="0.4" fill="#777"/>
<circle cx="300.2" cy="527.2" r="0.4" fill="#777"/>
<circle cx="297.8" cy="524.5" r="0.4" fill="#777"/>
<circle cx="297.9" cy="528.9" r="0.4" fill="#777"/>
<path d="M304.3,531.2 Q301.0,528.3 299.5,532.4" stroke="#999" stroke-width="0.4" fill="none"/>
<circle cx="302.4" cy="525.6" r="0.4" fill="#888"/>
<circle cx="303.9" cy="532.0" r="0.4" fill="#888"/>
<circle cx="304.2" cy="528.9" r="0.4" fill="#888"/>
<path d="M319.7,535.8 Q320.5,539.1 319.3,541.6 Q318.1,544.0 314.5,544.3 Q310.9,544.6 308.1,542.8 Q305.2,541.0 305.0,539.2 Q304.7,537.5 306.6,534.6 Q308.5,531.8 311.3,530.8 Q314.1,529.8 316.4,531.2 Q318.8,532.5 319.7,535.8Z" stroke="#1a1a1a" stroke-width="1.296" fill="#f0f0f0"/>
<circle cx="314.4" cy="535.6" r="0.4" fill="#777"/>
<circle cx="315.8" cy="538.1" r="0.4" fill="#777"/>
<circle cx="314.0" cy="534.1" r="0.4" fill="#777"/>
<circle cx="309.8" cy="538.4" r="0.4" fill="#777"/>
<path d="M314.9,541.3 Q313.0,537.6 310.3,540.7" stroke="#999" stroke-width="0.4" fill="none"/>
<circle cx="314.6" cy="535.4" r="0.4" fill="#888"/>
<circle cx="315.5" cy="538.2" r="0.4" fill="#888"/>
<circle cx="311.4" cy="534.3" r="0.4" fill="#888"/>
<path d="M281.9,541.8 Q281.9,543.4 280.8,545.5 Q279.7,547.5 276.6,547.9 Q273.5,548.4 271.6,547.1 Q269.7,545.9 269.6,544.4 Q269.6,542.9 270.8,540.2 Q271.9,537.5 274.3,537.1 Q276.7,536.7 279.3,538.4 Q281.9,540.1 281.9,541.8Z" stroke="#1a1a1a" stroke-width="1.296" fill="#f0f0f0"/>
<circle cx="276.5" cy="542.2" r="0.4" fill="#777"/>
<circle cx="277.1" cy="543.6" r="0.4" fill="#777"/>
<circle cx="275.4" cy="545.0" r="0.4" fill="#777"/>
<circle cx="275.1" cy="543.9" r="0.4" fill="#777"/>
<path d="M274.8,539.8 Q275.6,543.0 278.3,541.1" stroke="#999" stroke-width="0.4" fill="none"/>
<circle cx="277.7" cy="545.9" r="0.4" fill="#888"/>
<circle cx="273.1" cy="544.8" r="0.4" fill="#888"/>
<circle cx="275.1" cy="540.9" r="0.4" fill="#888"/>
<path d="M292.2,541.5 Q292.6,543.5 290.7,546.0 Q288.9,548.5 287.0,548.5 Q285.1,548.6 282.2,547.1 Q279.2,545.5 278.8,543.0 Q278.3,540.6 280.1,538.7 Q281.9,536.8 284.2,536.5 Q286.5,536.1 289.1,537.8 Q291.8,539.4 292.2,541.5Z" stroke="#1a1a1a" stroke-width="1.296" fill="#f0f0f0"/>
<circle cx="285.7" cy="540.0" r="0.4" fill="#777"/>
<circle cx="288.3" cy="541.8" r="0.4" fill="#777"/>
<circle cx="282.7" cy="543.8" r="0.4" fill="#777"/>
<circle cx="287.3" cy="539.6" r="0.4" fill="#777"/>
<path d="M283.9,539.2 Q285.6,542.3 287.9,539.6" stroke="#999" stroke-width="0.4" fill="none"/>
<circle cx="284.3" cy="544.0" r="0.4" fill="#888"/>
<circle cx="288.0" cy="539.3" r="0.4" fill="#888"/>
<circle cx="286.3" cy="539.3" r="0.4" fill="#888"/>
<path d="M304.3,543.9 Q304.5,545.4 303.3,547.4 Q302.1,549.5 299.8,550.2 Q297.6,550.8 295.5,549.3 Q293.5,547.7 293.0,545.2 Q292.5,542.8 293.7,541.6 Q294.8,540.4 297.4,539.9 Q300.1,539.4 302.0,540.9 Q304.0,542.4 304.3,543.9Z" stroke="#1a1a1a" stroke-width="1.296" fill="#f0f0f0"/>
<circle cx="300.7" cy="543.6" r="0.4" fill="#777"/>
<circle cx="295.7" cy="543.8" r="0.4" fill="#777"/>
<circle cx="296.7" cy="546.4" r="0.4" fill="#777"/>
<circle cx="299.8" cy="547.6" r="0.4" fill="#777"/>
<path d="M300.2,542.6 Q298.3,545.0 301.2,545.9" stroke="#999" stroke-width="0.4" fill="none"/>
<circle cx="299.5" cy="544.1" r="0.4" fill="#888"/>
<circle cx="300.4" cy="547.6" r="0.4" fill="#888"/>
<circle cx="298.3" cy="547.7" r="0.4" fill="#888"/>
<path d="M281.0,553.3 Q281.3,555.3 280.2,556.7 Q279.1,558.1 277.0,558.5 Q275.0,559.0 272.7,557.9 Q270.5,556.8 270.2,554.3 Q270.0,551.9 271.7,550.3 Q273.4,548.7 275.7,548.4 Q278.0,548.2 279.3,549.7 Q280.7,551.3 281.0,553.3Z" stroke="#1a1a1a" stroke-width="1.296" fill="#f0f0f0"/>
<circle cx="276.3" cy="554.8" r="0.4" fill="#777"/>
<circle cx="277.6" cy="555.0" r="0.4" fill="#777"/>
<circle cx="273.0" cy="554.1" r="0.4" fill="#777"/>
<circle cx="273.5" cy="555.7" r="0.4" fill="#777"/>
<path d="M276.7,550.8 Q275.6,553.6 278.6,553.6" stroke="#999" stroke-width="0.4" fill="none"/>
<circle cx="274.6" cy="551.3" r="0.4" fill="#888"/>
<circle cx="276.1" cy="551.0" r="0.4" fill="#888"/>
<circle cx="273.9" cy="553.1" r="0.4" fill="#888"/>
<path d="M292.0,554.2 Q292.1,556.2 290.1,558.4 Q288.2,560.6 286.6,560.8 Q285.0,561.0 282.3,559.3 Q279.5,557.5 279.6,555.2 Q279.6,552.9 281.0,551.1 Q282.3,549.3 284.1,548.9 Q285.9,548.6 288.9,550.4 Q291.9,552.3 292.0,554.2Z" stroke="#1a1a1a" stroke-width="1.296" fill="#f0f0f0"/>
<circle cx="283.4" cy="553.1" r="0.4" fill="#777"/>
<circle cx="288.1" cy="554.5" r="0.4" fill="#777"/>
<circle cx="284.3" cy="555.9" r="0.4" fill="#777"/>
<circle cx="284.6" cy="554.2" r="0.4" fill="#777"/>
<path d="M283.0,557.1 Q285.6,555.0 282.7,553.4" stroke="#999" stroke-width="0.4" fill="none"/>
<circle cx="286.3" cy="552.9" r="0.4" fill="#888"/>
<circle cx="282.9" cy="557.2" r="0.4" fill="#888"/>
<circle cx="284.5" cy="557.8" r="0.4" fill="#888"/>
<path d="M303.8,553.2 Q304.2,555.5 302.8,557.1 Q301.4,558.7 299.4,559.1 Q297.5,559.5 295.4,558.3 Q293.3,557.1 293.0,554.7 Q292.7,552.3 294.1,550.8 Q295.6,549.4 297.6,549.0 Q299.7,548.5 301.5,549.6 Q303.3,550.8 303.8,553.2Z" stroke="#1a1a1a" stroke-width="1.296" fill="#f0f0f0"/>
<circle cx="300.8" cy="553.3" r="0.4" fill="#777"/>
<circle cx="299.5" cy="552.5" r="0.4" fill="#777"/>
<circle cx="300.8" cy="555.8" r="0.4" fill="#777"/>
<circle cx="295.6" cy="555.1" r="0.4" fill="#777"/>
<path d="M298.9,557.3 Q298.3,554.3 295.8,555.9" stroke="#999" stroke-width="0.4" fill="none"/>
<circle cx="300.5" cy="553.6" r="0.4" fill="#888"/>
<circle cx="298.1" cy="554.4" r="0.4" fill="#888"/>
<circle cx="299.1" cy="554.8" r="0.4" fill="#888"/>
<path d="M278.1,566.7 Q278.9,569.4 277.6,570.7 Q276.3,572.1 274.1,572.9 Q271.9,573.8 269.3,572.4 Q266.7,571.0 266.4,568.5 Q266.2,566.0 267.2,564.2 Q268.1,562.5 270.9,562.3 Q273.7,562.0 275.5,563.0 Q277.2,564.0 278.1,566.7Z" stroke="#1a1a1a" stroke-width="1.296" fill="#f0f0f0"/>
<circle cx="271.8" cy="566.2" r="0.4" fill="#777"/>
<circle cx="269.5" cy="565.6" r="0.4" fill="#777"/>
<circle cx="272.3" cy="567.6" r="0.4" fill="#777"/>
<circle cx="272.0" cy="567.6" r="0.4" fill="#777"/>
<path d="M269.9,565.4 Q272.3,567.6 273.5,564.5" stroke="#999" stroke-width="0.4" fill="none"/>
<circle cx="272.7" cy="568.3" r="0.4" fill="#888"/>
<circle cx="274.9" cy="567.6" r="0.4" fill="#888"/>
<circle cx="271.9" cy="568.9" r="0.4" fill="#888"/>
<path d="M290.7,565.4 Q291.3,568.0 289.6,569.8 Q288.0,571.7 285.5,571.8 Q283.1,571.9 281.0,570.5 Q278.8,569.1 278.7,566.9 Q278.7,564.7 279.6,563.1 Q280.6,561.5 284.0,560.8 Q287.4,560.1 288.7,561.5 Q290.1,562.9 290.7,565.4Z" stroke="#1a1a1a" stroke-width="1.296" fill="#f0f0f0"/>
<circle cx="286.8" cy="566.3" r="0.4" fill="#777"/>
<circle cx="284.6" cy="566.8" r="0.4" fill="#777"/>
<circle cx="282.6" cy="568.1" r="0.4" fill="#777"/>
<circle cx="287.1" cy="565.8" r="0.4" fill="#777"/>
<path d="M281.8,565.5 Q285.0,566.3 284.6,563.0" stroke="#999" stroke-width="0.4" fill="none"/>
<circle cx="283.4" cy="565.1" r="0.4" fill="#888"/>
<circle cx="287.9" cy="566.4" r="0.4" fill="#888"/>
<circle cx="285.3" cy="563.4" r="0.4" fill="#888"/>
<path d="M303.4,562.2 Q303.9,563.8 303.1,566.0 Q302.2,568.1 300.0,568.6 Q297.8,569.0 295.5,567.5 Q293.2,565.9 292.7,564.1 Q292.2,562.3 293.6,560.9 Q294.9,559.4 296.7,558.6 Q298.5,557.7 300.7,559.1 Q302.8,560.5 303.4,562.2Z" stroke="#1a1a1a" stroke-width="1.296" fill="#f0f0f0"/>
<circle cx="295.7" cy="565.7" r="0.4" fill="#777"/>
<circle cx="299.8" cy="566.3" r="0.4" fill="#777"/>
<circle cx="298.9" cy="565.2" r="0.4" fill="#777"/>
<circle cx="298.8" cy="562.9" r="0.4" fill="#777"/>
<path d="M300.9,565.2 Q298.3,563.6 297.8,566.6" stroke="#999" stroke-width="0.4" fill="none"/>
<circle cx="297.8" cy="564.0" r="0.4" fill="#888"/>
<circle cx="295.7" cy="564.2" r="0.4" fill="#888"/>
<circle cx="299.0" cy="561.2" r="0.4" fill="#888"/>
<path d="M302.6,572.5 Q302.9,573.6 301.7,575.8 Q300.6,578.0 297.7,578.4 Q294.9,578.8 293.8,578.0 Q292.7,577.2 291.8,575.4 Q290.8,573.6 292.3,571.3 Q293.8,569.0 296.0,568.4 Q298.3,567.9 300.2,569.6 Q302.2,571.3 302.6,572.5Z" stroke="#1a1a1a" stroke-width="1.296" fill="#f0f0f0"/>
<circle cx="298.9" cy="571.4" r="0.4" fill="#777"/>
<circle cx="298.9" cy="574.5" r="0.4" fill="#777"/>
<circle cx="294.4" cy="571.2" r="0.4" fill="#777"/>
<circle cx="295.4" cy="574.8" r="0.4" fill="#777"/>
<path d="M294.1,574.5 Q297.0,573.6 295.1,571.3" stroke="#999" stroke-width="0.4" fill="none"/>
<circle cx="297.7" cy="573.4" r="0.4" fill="#888"/>
<circle cx="298.0" cy="572.8" r="0.4" fill="#888"/>
<circle cx="298.1" cy="574.9" r="0.4" fill="#888"/>
<path d="M284.3,575.8 Q284.4,577.0 283.1,579.7 Q281.7,582.4 279.3,582.6 Q276.8,582.8 274.8,581.0 Q272.8,579.2 272.3,577.2 Q271.8,575.2 273.4,573.2 Q274.9,571.3 277.3,571.1 Q279.7,571.0 281.9,572.8 Q284.1,574.6 284.3,575.8Z" stroke="#1a1a1a" stroke-width="1.296" fill="#f0f0f0"/>
<circle cx="280.4" cy="578.0" r="0.4" fill="#777"/>
<circle cx="276.2" cy="574.3" r="0.4" fill="#777"/>
<circle cx="275.7" cy="575.3" r="0.4" fill="#777"/>
<circle cx="275.7" cy="575.5" r="0.4" fill="#777"/>
<path d="M275.5,575.3 Q278.3,577.0 278.9,573.8" stroke="#999" stroke-width="0.4" fill="none"/>
<circle cx="275.4" cy="574.4" r="0.4" fill="#888"/>
<circle cx="279.4" cy="579.8" r="0.4" fill="#888"/>
<circle cx="276.8" cy="576.7" r="0.4" fill="#888"/>
<path d="M283.4,584.8 Q284.1,587.1 282.9,589.0 Q281.7,590.8 278.8,591.5 Q276.0,592.1 274.1,590.7 Q272.3,589.4 271.5,587.4 Q270.8,585.4 271.9,583.5 Q272.9,581.7 275.4,580.7 Q277.9,579.7 280.3,581.2 Q282.7,582.6 283.4,584.8Z" stroke="#1a1a1a" stroke-width="1.296" fill="#f0f0f0"/>
<circle cx="275.8" cy="585.7" r="0.4" fill="#777"/>
<circle cx="276.9" cy="588.7" r="0.4" fill="#777"/>
<circle cx="280.5" cy="587.4" r="0.4" fill="#777"/>
<circle cx="277.7" cy="588.5" r="0.4" fill="#777"/>
<path d="M279.0,589.2 Q277.6,586.2 275.4,588.6" stroke="#999" stroke-width="0.4" fill="none"/>
<circle cx="278.2" cy="585.1" r="0.4" fill="#888"/>
<circle cx="276.8" cy="585.1" r="0.4" fill="#888"/>
<circle cx="276.8" cy="586.8" r="0.4" fill="#888"/>
<path d="M299.6,581.1 Q300.1,582.6 298.2,584.6 Q296.4,586.6 294.4,586.8 Q292.3,587.0 291.1,586.3 Q289.9,585.5 289.7,583.1 Q289.5,580.6 290.2,579.6 Q290.9,578.5 292.9,577.8 Q295.0,577.1 297.1,578.4 Q299.1,579.6 299.6,581.1Z" stroke="#1a1a1a" stroke-width="1.296" fill="#f0f0f0"/>
<circle cx="296.7" cy="581.8" r="0.4" fill="#777"/>
<circle cx="292.9" cy="583.8" r="0.4" fill="#777"/>
<circle cx="296.7" cy="582.2" r="0.4" fill="#777"/>
<circle cx="295.2" cy="584.7" r="0.4" fill="#777"/>
<path d="M293.8,584.9 Q294.3,582.2 291.6,582.8" stroke="#999" stroke-width="0.4" fill="none"/>
<circle cx="293.3" cy="581.6" r="0.4" fill="#888"/>
<circle cx="295.7" cy="579.8" r="0.4" fill="#888"/>
<circle cx="294.6" cy="583.4" r="0.4" fill="#888"/>
<path d="M284.0,602.4 Q284.5,605.2 282.9,607.2 Q281.2,609.1 277.7,609.4 Q274.2,609.6 273.0,608.7 Q271.7,607.7 270.4,604.9 Q269.1,602.0 271.4,599.2 Q273.6,596.4 276.1,596.2 Q278.5,596.0 281.0,597.8 Q283.5,599.5 284.0,602.4Z" stroke="#1a1a1a" stroke-width="1.296" fill="#f0f0f0"/>
<circle cx="274.5" cy="600.3" r="0.4" fill="#777"/>
<circle cx="279.8" cy="602.2" r="0.4" fill="#777"/>
<circle cx="279.7" cy="604.5" r="0.4" fill="#777"/>
<circle cx="275.6" cy="599.9" r="0.4" fill="#777"/>
<path d="M273.2,603.1 Q277.0,602.8 275.4,599.3" stroke="#999" stroke-width="0.4" fill="none"/>
<circle cx="275.7" cy="600.9" r="0.4" fill="#888"/>
<circle cx="279.1" cy="601.0" r="0.4" fill="#888"/>
<circle cx="274.8" cy="602.3" r="0.4" fill="#888"/>
<path d="M297.8,605.4 Q298.0,608.1 295.5,610.2 Q293.1,612.2 291.4,612.5 Q289.7,612.8 287.0,611.7 Q284.3,610.7 283.8,607.8 Q283.2,604.9 284.1,602.4 Q285.0,600.0 288.3,599.1 Q291.6,598.3 294.6,600.4 Q297.6,602.6 297.8,605.4Z" stroke="#1a1a1a" stroke-width="1.296" fill="#f0f0f0"/>
<circle cx="289.0" cy="608.8" r="0.4" fill="#777"/>
<circle cx="291.3" cy="608.3" r="0.4" fill="#777"/>
<circle cx="291.2" cy="606.8" r="0.4" fill="#777"/>
<circle cx="291.7" cy="603.9" r="0.4" fill="#777"/>
<path d="M294.1,606.1 Q290.3,605.7 291.3,609.4" stroke="#999" stroke-width="0.4" fill="none"/>
<circle cx="291.7" cy="602.9" r="0.4" fill="#888"/>
<circle cx="289.1" cy="604.5" r="0.4" fill="#888"/>
<circle cx="292.6" cy="605.3" r="0.4" fill="#888"/>
<path d="M282.5,613.8 Q283.3,617.0 281.9,618.3 Q280.4,619.6 278.4,620.3 Q276.3,621.0 273.6,619.1 Q270.9,617.2 270.7,614.9 Q270.6,612.6 271.5,611.4 Q272.5,610.3 275.9,609.6 Q279.3,609.0 280.5,609.8 Q281.6,610.7 282.5,613.8Z" stroke="#1a1a1a" stroke-width="1.296" fill="#f0f0f0"/>
<circle cx="277.2" cy="614.2" r="0.4" fill="#777"/>
<circle cx="278.5" cy="615.4" r="0.4" fill="#777"/>
<circle cx="279.9" cy="612.4" r="0.4" fill="#777"/>
<circle cx="275.2" cy="614.4" r="0.4" fill="#777"/>
<path d="M278.8,617.4 Q277.0,614.6 275.0,617.3" stroke="#999" stroke-width="0.4" fill="none"/>
<circle cx="279.1" cy="612.6" r="0.4" fill="#888"/>
<circle cx="276.0" cy="615.5" r="0.4" fill="#888"/>
<circle cx="279.3" cy="614.3" r="0.4" fill="#888"/>
<path d="M292.8,619.4 Q293.2,621.9 292.1,623.5 Q291.0,625.1 287.9,625.7 Q284.8,626.3 283.2,625.0 Q281.7,623.7 281.5,621.4 Q281.4,619.0 282.7,616.9 Q284.1,614.8 285.7,614.4 Q287.4,614.0 289.9,615.5 Q292.4,617.0 292.8,619.4Z" stroke="#1a1a1a" stroke-width="1.296" fill="#f0f0f0"/>
<circle cx="287.7" cy="621.7" r="0.4" fill="#777"/>
<circle cx="289.9" cy="618.1" r="0.4" fill="#777"/>
<circle cx="286.6" cy="619.5" r="0.4" fill="#777"/>
<circle cx="285.9" cy="619.7" r="0.4" fill="#777"/>
<path d="M286.2,623.6 Q287.3,620.5 284.0,620.6" stroke="#999" stroke-width="0.4" fill="none"/>
<circle cx="285.7" cy="618.2" r="0.4" fill="#888"/>
<circle cx="287.5" cy="618.6" r="0.4" fill="#888"/>
<circle cx="289.1" cy="622.5" r="0.4" fill="#888"/>
<path d="M302.8,619.4 Q303.1,622.0 301.8,623.5 Q300.5,625.0 299.1,625.3 Q297.7,625.6 295.1,624.2 Q292.4,622.8 292.3,621.1 Q292.2,619.5 293.4,617.1 Q294.7,614.8 297.4,615.0 Q300.1,615.1 301.3,615.9 Q302.5,616.7 302.8,619.4Z" stroke="#1a1a1a" stroke-width="1.296" fill="#f0f0f0"/>
<circle cx="297.3" cy="618.3" r="0.4" fill="#777"/>
<circle cx="298.0" cy="622.4" r="0.4" fill="#777"/>
<circle cx="299.0" cy="617.9" r="0.4" fill="#777"/>
<circle cx="299.1" cy="621.5" r="0.4" fill="#777"/>
<path d="M297.8,623.0 Q298.0,620.0 295.1,620.9" stroke="#999" stroke-width="0.4" fill="none"/>
<circle cx="296.3" cy="618.8" r="0.4" fill="#888"/>
<circle cx="299.7" cy="620.8" r="0.4" fill="#888"/>
<circle cx="299.7" cy="619.1" r="0.4" fill="#888"/>
<path d="M263.7,637.8 Q264.6,640.0 263.3,642.3 Q262.1,644.7 258.9,645.3 Q255.7,646.0 253.7,644.3 Q251.7,642.6 251.6,639.9 Q251.5,637.3 252.7,636.1 Q254.0,635.0 256.0,634.3 Q258.1,633.6 260.5,634.6 Q262.8,635.6 263.7,637.8Z" stroke="#1a1a1a" stroke-width="1.296" fill="#f0f0f0"/>
<circle cx="255.3" cy="639.0" r="0.4" fill="#777"/>
<circle cx="259.5" cy="641.1" r="0.4" fill="#777"/>
<circle cx="254.8" cy="637.2" r="0.4" fill="#777"/>
<circle cx="256.8" cy="637.1" r="0.4" fill="#777"/>
<path d="M254.7,638.6 Q257.8,639.7 257.7,636.4" stroke="#999" stroke-width="0.4" fill="none"/>
<circle cx="255.6" cy="638.5" r="0.4" fill="#888"/>
<circle cx="259.6" cy="638.3" r="0.4" fill="#888"/>
<circle cx="256.9" cy="639.2" r="0.4" fill="#888"/>
<path d="M272.5,630.8 Q273.0,632.5 271.2,635.2 Q269.4,638.0 268.0,638.3 Q266.5,638.7 263.7,637.2 Q260.9,635.8 260.8,633.1 Q260.7,630.4 261.7,629.2 Q262.6,628.0 265.3,627.2 Q268.0,626.3 270.0,627.7 Q272.1,629.0 272.5,630.8Z" stroke="#1a1a1a" stroke-width="1.296" fill="#f0f0f0"/>
<circle cx="269.4" cy="630.8" r="0.4" fill="#777"/>
<circle cx="267.8" cy="632.1" r="0.4" fill="#777"/>
<circle cx="263.7" cy="631.7" r="0.4" fill="#777"/>
<circle cx="268.3" cy="632.1" r="0.4" fill="#777"/>
<path d="M263.4,633.2 Q266.6,632.3 264.6,629.7" stroke="#999" stroke-width="0.4" fill="none"/>
<circle cx="266.1" cy="631.8" r="0.4" fill="#888"/>
<circle cx="269.1" cy="630.2" r="0.4" fill="#888"/>
<circle cx="263.6" cy="635.0" r="0.4" fill="#888"/>
<path d="M281.5,627.8 Q281.7,630.3 280.6,631.5 Q279.5,632.7 277.3,633.2 Q275.1,633.7 272.4,632.2 Q269.6,630.6 269.6,628.7 Q269.6,626.7 270.9,624.4 Q272.3,622.1 274.8,622.2 Q277.4,622.2 279.4,623.7 Q281.3,625.3 281.5,627.8Z" stroke="#1a1a1a" stroke-width="1.296" fill="#f0f0f0"/>
<circle cx="275.5" cy="629.8" r="0.4" fill="#777"/>
<circle cx="274.0" cy="629.1" r="0.4" fill="#777"/>
<circle cx="273.7" cy="629.7" r="0.4" fill="#777"/>
<circle cx="274.1" cy="625.9" r="0.4" fill="#777"/>
<path d="M274.5,631.1 Q275.5,627.9 272.2,628.1" stroke="#999" stroke-width="0.4" fill="none"/>
<circle cx="277.8" cy="630.8" r="0.4" fill="#888"/>
<circle cx="275.1" cy="630.6" r="0.4" fill="#888"/>
<circle cx="278.1" cy="626.2" r="0.4" fill="#888"/>
<path d="M294.0,628.1 Q294.8,630.5 293.8,632.6 Q292.8,634.7 289.6,635.1 Q286.4,635.5 285.3,634.7 Q284.2,633.8 283.6,631.0 Q283.0,628.2 284.6,626.4 Q286.2,624.6 288.5,624.3 Q290.8,624.1 292.0,624.9 Q293.2,625.8 294.0,628.1Z" stroke="#1a1a1a" stroke-width="1.296" fill="#f0f0f0"/>
<circle cx="291.8" cy="627.8" r="0.4" fill="#777"/>
<circle cx="288.3" cy="630.1" r="0.4" fill="#777"/>
<circle cx="289.2" cy="628.1" r="0.4" fill="#777"/>
<circle cx="289.3" cy="630.6" r="0.4" fill="#777"/>
<path d="M285.6,629.3 Q288.8,630.0 288.3,626.7" stroke="#999" stroke-width="0.4" fill="none"/>
<circle cx="290.3" cy="632.0" r="0.4" fill="#888"/>
<circle cx="289.8" cy="630.1" r="0.4" fill="#888"/>
<circle cx="287.5" cy="629.0" r="0.4" fill="#888"/>
<path d="M305.3,635.2 Q305.8,637.4 304.4,639.0 Q303.0,640.6 300.2,641.0 Q297.4,641.3 296.0,640.3 Q294.5,639.3 293.7,636.7 Q292.8,634.2 293.8,632.6 Q294.9,631.1 298.2,630.2 Q301.5,629.3 303.2,631.1 Q304.9,633.0 305.3,635.2Z" stroke="#1a1a1a" stroke-width="1.296" fill="#f0f0f0"/>
<circle cx="298.9" cy="633.1" r="0.4" fill="#777"/>
<circle cx="297.8" cy="635.7" r="0.4" fill="#777"/>
<circle cx="296.2" cy="635.7" r="0.4" fill="#777"/>
<circle cx="301.7" cy="636.7" r="0.4" fill="#777"/>
<path d="M302.0,637.1 Q299.2,635.3 298.6,638.5" stroke="#999" stroke-width="0.4" fill="none"/>
<circle cx="297.6" cy="632.7" r="0.4" fill="#888"/>
<circle cx="299.7" cy="634.0" r="0.4" fill="#888"/>
<circle cx="301.1" cy="632.6" r="0.4" fill="#888"/>
<path d="M272.6,655.5 Q272.8,658.5 272.1,659.6 Q271.4,660.7 268.4,661.8 Q265.4,662.9 262.7,660.9 Q259.9,658.8 259.7,657.3 Q259.4,655.9 261.4,653.2 Q263.4,650.4 265.4,649.7 Q267.4,649.0 269.9,650.8 Q272.4,652.5 272.6,655.5Z" stroke="#1a1a1a" stroke-width="1.296" fill="#f0f0f0"/>
<circle cx="267.6" cy="652.9" r="0.4" fill="#777"/>
<circle cx="268.0" cy="655.4" r="0.4" fill="#777"/>
<circle cx="268.4" cy="657.8" r="0.4" fill="#777"/>
<circle cx="264.5" cy="655.9" r="0.4" fill="#777"/>
<path d="M268.1,652.8 Q266.6,656.0 270.2,656.2" stroke="#999" stroke-width="0.4" fill="none"/>
<circle cx="269.2" cy="657.3" r="0.4" fill="#888"/>
<circle cx="269.4" cy="658.6" r="0.4" fill="#888"/>
<circle cx="269.2" cy="656.5" r="0.4" fill="#888"/>
<path d="M284.8,644.0 Q284.9,646.7 283.2,648.3 Q281.5,649.8 279.2,649.8 Q276.9,649.8 274.9,648.4 Q272.9,646.9 272.8,644.7 Q272.8,642.5 273.6,641.1 Q274.4,639.7 277.1,638.7 Q279.8,637.7 282.3,639.5 Q284.7,641.3 284.8,644.0Z" stroke="#1a1a1a" stroke-width="1.296" fill="#f0f0f0"/>
<circle cx="277.8" cy="645.5" r="0.4" fill="#777"/>
<circle cx="279.9" cy="643.3" r="0.4" fill="#777"/>
<circle cx="280.9" cy="644.7" r="0.4" fill="#777"/>
<circle cx="278.3" cy="645.0" r="0.4" fill="#777"/>
<path d="M281.8,644.5 Q278.5,644.2 279.4,647.4" stroke="#999" stroke-width="0.4" fill="none"/>
<circle cx="275.6" cy="645.7" r="0.4" fill="#888"/>
<circle cx="276.5" cy="643.0" r="0.4" fill="#888"/>
<circle cx="279.5" cy="644.3" r="0.4" fill="#888"/>
<path d="M294.6,640.5 Q295.3,643.0 293.6,644.4 Q292.0,645.9 289.8,646.6 Q287.6,647.2 285.3,645.8 Q283.1,644.3 282.9,642.4 Q282.7,640.4 283.9,638.3 Q285.2,636.2 287.2,635.5 Q289.2,634.8 291.5,636.4 Q293.9,638.0 294.6,640.5Z" stroke="#1a1a1a" stroke-width="1.296" fill="#f0f0f0"/>
<circle cx="290.5" cy="638.5" r="0.4" fill="#777"/>
<circle cx="289.9" cy="639.8" r="0.4" fill="#777"/>
<circle cx="287.1" cy="640.6" r="0.4" fill="#777"/>
<circle cx="287.2" cy="642.6" r="0.4" fill="#777"/>
<path d="M289.1,637.7 Q288.8,641.0 292.0,640.1" stroke="#999" stroke-width="0.4" fill="none"/>
<circle cx="288.3" cy="643.6" r="0.4" fill="#888"/>
<circle cx="289.5" cy="640.0" r="0.4" fill="#888"/>
<circle cx="287.3" cy="643.2" r="0.4" fill="#888"/>
<path d="M303.3,646.0 Q303.6,648.6 302.1,650.5 Q300.6,652.4 298.2,652.7 Q295.9,653.0 294.4,651.9 Q293.0,650.9 292.4,647.9 Q291.8,644.8 292.5,643.7 Q293.3,642.5 296.3,642.0 Q299.2,641.4 301.1,642.5 Q303.0,643.5 303.3,646.0Z" stroke="#1a1a1a" stroke-width="1.296" fill="#f0f0f0"/>
<circle cx="299.8" cy="646.0" r="0.4" fill="#777"/>
<circle cx="296.0" cy="648.4" r="0.4" fill="#777"/>
<circle cx="299.8" cy="648.9" r="0.4" fill="#777"/>
<circle cx="295.4" cy="649.2" r="0.4" fill="#777"/>
<path d="M301.0,647.0 Q297.7,647.1 299.0,650.1" stroke="#999" stroke-width="0.4" fill="none"/>
<circle cx="297.6" cy="648.8" r="0.4" fill="#888"/>
<circle cx="296.8" cy="645.3" r="0.4" fill="#888"/>
<circle cx="297.9" cy="649.0" r="0.4" fill="#888"/>
<path d="M312.1,649.1 Q312.3,652.1 311.0,654.0 Q309.6,655.9 307.1,655.9 Q304.6,655.9 302.9,654.6 Q301.2,653.3 300.6,651.7 Q300.0,650.0 302.0,647.2 Q304.0,644.5 305.7,644.1 Q307.4,643.8 309.6,644.9 Q311.9,646.1 312.1,649.1Z" stroke="#1a1a1a" stroke-width="1.296" fill="#f0f0f0"/>
<circle cx="309.4" cy="652.5" r="0.4" fill="#777"/>
<circle cx="303.7" cy="647.4" r="0.4" fill="#777"/>
<circle cx="304.4" cy="648.1" r="0.4" fill="#777"/>
<circle cx="306.1" cy="647.8" r="0.4" fill="#777"/>
<path d="M308.8,647.6 Q306.6,650.1 309.7,651.2" stroke="#999" stroke-width="0.4" fill="none"/>
<circle cx="304.6" cy="651.9" r="0.4" fill="#888"/>
<circle cx="309.1" cy="651.9" r="0.4" fill="#888"/>
<circle cx="308.5" cy="647.1" r="0.4" fill="#888"/>
<path d="M306.5,660.2 Q306.9,662.6 305.0,664.3 Q303.1,666.1 301.5,666.3 Q299.8,666.5 297.6,664.9 Q295.4,663.2 295.0,661.7 Q294.5,660.1 296.0,657.8 Q297.6,655.4 299.9,655.1 Q302.3,654.8 304.1,656.2 Q306.0,657.7 306.5,660.2Z" stroke="#1a1a1a" stroke-width="1.296" fill="#f0f0f0"/>
<circle cx="299.1" cy="659.8" r="0.4" fill="#777"/>
<circle cx="300.7" cy="663.1" r="0.4" fill="#777"/>
<circle cx="303.2" cy="663.0" r="0.4" fill="#777"/>
<circle cx="301.5" cy="663.1" r="0.4" fill="#777"/>
<path d="M299.0,657.5 Q300.7,660.4 302.8,657.8" stroke="#999" stroke-width="0.4" fill="none"/>
<circle cx="301.5" cy="662.6" r="0.4" fill="#888"/>
<circle cx="298.0" cy="659.0" r="0.4" fill="#888"/>
<circle cx="299.3" cy="660.6" r="0.4" fill="#888"/>
<path d="M294.5,656.3 Q295.4,658.5 294.3,660.5 Q293.2,662.5 290.0,663.4 Q286.9,664.3 285.2,662.6 Q283.5,660.9 283.0,658.2 Q282.5,655.5 283.7,654.4 Q284.8,653.3 287.5,652.7 Q290.3,652.1 291.9,653.1 Q293.6,654.1 294.5,656.3Z" stroke="#1a1a1a" stroke-width="1.296" fill="#f0f0f0"/>
<circle cx="291.2" cy="659.8" r="0.4" fill="#777"/>
<circle cx="287.4" cy="659.5" r="0.4" fill="#777"/>
<circle cx="286.5" cy="659.6" r="0.4" fill="#777"/>
<circle cx="291.2" cy="655.8" r="0.4" fill="#777"/>
<path d="M291.6,659.8 Q288.8,658.0 288.2,661.2" stroke="#999" stroke-width="0.4" fill="none"/>
<circle cx="288.3" cy="657.8" r="0.4" fill="#888"/>
<circle cx="290.5" cy="655.0" r="0.4" fill="#888"/>
<circle cx="286.1" cy="655.8" r="0.4" fill="#888"/>
<path d="M282.8,666.3 Q283.6,668.8 282.3,670.6 Q281.0,672.5 279.0,673.2 Q276.9,673.8 274.5,672.8 Q272.2,671.7 271.2,669.0 Q270.3,666.3 271.3,664.6 Q272.3,662.9 275.1,662.2 Q277.8,661.5 279.9,662.7 Q281.9,663.8 282.8,666.3Z" stroke="#1a1a1a" stroke-width="1.296" fill="#f0f0f0"/>
<circle cx="274.9" cy="670.4" r="0.4" fill="#777"/>
<circle cx="279.4" cy="669.3" r="0.4" fill="#777"/>
<circle cx="274.6" cy="665.6" r="0.4" fill="#777"/>
<circle cx="274.0" cy="668.9" r="0.4" fill="#777"/>
<path d="M274.9,665.2 Q277.0,667.8 278.6,664.9" stroke="#999" stroke-width="0.4" fill="none"/>
<circle cx="274.7" cy="665.2" r="0.4" fill="#888"/>
<circle cx="279.8" cy="669.9" r="0.4" fill="#888"/>
<circle cx="274.5" cy="667.8" r="0.4" fill="#888"/>
<path d="M292.8,670.0 Q293.2,671.8 291.8,673.5 Q290.5,675.2 288.5,675.8 Q286.5,676.3 284.8,675.4 Q283.1,674.4 282.4,672.0 Q281.7,669.7 283.4,667.8 Q285.1,665.8 286.6,665.5 Q288.0,665.1 290.2,666.7 Q292.3,668.2 292.8,670.0Z" stroke="#1a1a1a" stroke-width="1.296" fill="#f0f0f0"/>
<circle cx="285.2" cy="671.4" r="0.4" fill="#777"/>
<circle cx="284.7" cy="671.8" r="0.4" fill="#777"/>
<circle cx="284.6" cy="670.1" r="0.4" fill="#777"/>
<circle cx="286.5" cy="668.7" r="0.4" fill="#777"/>
<path d="M287.0,673.8 Q287.3,670.8 284.4,671.6" stroke="#999" stroke-width="0.4" fill="none"/>
<circle cx="286.3" cy="669.8" r="0.4" fill="#888"/>
<circle cx="286.5" cy="671.6" r="0.4" fill="#888"/>
<circle cx="287.8" cy="670.0" r="0.4" fill="#888"/>
<path d="M304.4,671.3 Q304.5,672.6 303.2,674.7 Q301.9,676.8 300.1,677.0 Q298.4,677.1 296.8,676.2 Q295.3,675.4 294.7,673.0 Q294.1,670.6 295.3,669.4 Q296.6,668.1 298.4,667.5 Q300.3,667.0 302.3,668.5 Q304.2,670.0 304.4,671.3Z" stroke="#1a1a1a" stroke-width="1.296" fill="#f0f0f0"/>
<circle cx="300.8" cy="674.4" r="0.4" fill="#777"/>
<circle cx="296.8" cy="672.3" r="0.4" fill="#777"/>
<circle cx="298.9" cy="673.0" r="0.4" fill="#777"/>
<circle cx="297.4" cy="673.8" r="0.4" fill="#777"/>
<path d="M298.5,669.6 Q299.2,672.3 301.4,670.7" stroke="#999" stroke-width="0.4" fill="none"/>
<circle cx="297.7" cy="671.4" r="0.4" fill="#888"/>
<circle cx="297.3" cy="672.6" r="0.4" fill="#888"/>
<circle cx="300.3" cy="671.7" r="0.4" fill="#888"/>
<path d="M274.7,673.2 Q274.9,675.3 273.7,676.8 Q272.6,678.3 270.5,678.5 Q268.4,678.7 266.6,677.6 Q264.8,676.5 264.6,675.0 Q264.3,673.4 265.2,671.8 Q266.0,670.2 267.9,669.6 Q269.8,668.9 272.2,670.0 Q274.6,671.1 274.7,673.2Z" stroke="#1a1a1a" stroke-width="1.296" fill="#f0f0f0"/>
<circle cx="268.9" cy="674.1" r="0.4" fill="#777"/>
<circle cx="271.8" cy="671.6" r="0.4" fill="#777"/>
<circle cx="267.5" cy="675.2" r="0.4" fill="#777"/>
<circle cx="271.4" cy="676.2" r="0.4" fill="#777"/>
<path d="M267.6,671.9 Q269.6,673.8 270.7,671.3" stroke="#999" stroke-width="0.4" fill="none"/>
<circle cx="267.5" cy="672.2" r="0.4" fill="#888"/>
<circle cx="269.0" cy="674.3" r="0.4" fill="#888"/>
<circle cx="271.0" cy="673.2" r="0.4" fill="#888"/>
<path d="M266.0,663.3 Q266.8,665.7 265.6,667.0 Q264.5,668.3 261.8,668.7 Q259.1,669.1 257.5,668.0 Q255.8,667.0 255.2,664.7 Q254.5,662.4 256.6,660.8 Q258.6,659.1 260.4,658.9 Q262.1,658.6 263.6,659.7 Q265.1,660.8 266.0,663.3Z" stroke="#1a1a1a" stroke-width="1.296" fill="#f0f0f0"/>
<circle cx="259.4" cy="665.4" r="0.4" fill="#777"/>
<circle cx="262.2" cy="662.5" r="0.4" fill="#777"/>
<circle cx="263.4" cy="662.9" r="0.4" fill="#777"/>
<circle cx="260.0" cy="666.0" r="0.4" fill="#777"/>
<path d="M261.5,666.9 Q260.7,664.0 258.3,665.8" stroke="#999" stroke-width="0.4" fill="none"/>
<circle cx="262.4" cy="664.7" r="0.4" fill="#888"/>
<circle cx="260.3" cy="663.3" r="0.4" fill="#888"/>
<circle cx="260.7" cy="665.1" r="0.4" fill="#888"/>
<path d="M262.6,649.9 Q262.5,651.6 261.4,653.5 Q260.3,655.3 258.2,656.1 Q256.2,656.9 253.8,655.2 Q251.4,653.5 251.3,651.1 Q251.3,648.8 252.5,647.8 Q253.7,646.8 255.9,646.1 Q258.1,645.5 260.3,646.9 Q262.6,648.2 262.6,649.9Z" stroke="#1a1a1a" stroke-width="1.296" fill="#f0f0f0"/>
<circle cx="255.9" cy="649.6" r="0.4" fill="#777"/>
<circle cx="256.8" cy="653.4" r="0.4" fill="#777"/>
<circle cx="256.8" cy="652.9" r="0.4" fill="#777"/>
<circle cx="255.9" cy="652.1" r="0.4" fill="#777"/>
<path d="M259.7,649.7 Q257.0,651.0 259.2,653.1" stroke="#999" stroke-width="0.4" fill="none"/>
<circle cx="256.6" cy="652.1" r="0.4" fill="#888"/>
<circle cx="256.8" cy="649.6" r="0.4" fill="#888"/>
<circle cx="257.2" cy="652.1" r="0.4" fill="#888"/>
<path d="M273.1,643.5 Q274.1,645.7 272.2,648.0 Q270.3,650.4 268.1,650.5 Q265.9,650.6 264.7,649.4 Q263.5,648.1 262.9,646.5 Q262.2,644.9 263.5,642.6 Q264.8,640.3 267.2,639.9 Q269.7,639.4 270.8,640.3 Q272.0,641.2 273.1,643.5Z" stroke="#1a1a1a" stroke-width="1.296" fill="#f0f0f0"/>
<circle cx="265.5" cy="646.0" r="0.4" fill="#777"/>
<circle cx="265.3" cy="646.3" r="0.4" fill="#777"/>
<circle cx="268.9" cy="644.6" r="0.4" fill="#777"/>
<circle cx="266.5" cy="644.1" r="0.4" fill="#777"/>
<path d="M266.0,642.7 Q268.0,645.0 269.4,642.3" stroke="#999" stroke-width="0.4" fill="none"/>
<circle cx="265.6" cy="644.6" r="0.4" fill="#888"/>
<circle cx="267.6" cy="647.1" r="0.4" fill="#888"/>
<circle cx="270.4" cy="644.3" r="0.4" fill="#888"/>
<path d="M283.2,654.8 Q283.9,657.4 283.0,658.7 Q282.0,659.9 279.5,660.7 Q276.9,661.5 275.0,660.6 Q273.1,659.8 272.6,657.8 Q272.0,655.9 273.8,653.4 Q275.6,650.8 277.5,650.8 Q279.3,650.7 280.9,651.4 Q282.5,652.2 283.2,654.8Z" stroke="#1a1a1a" stroke-width="1.296" fill="#f0f0f0"/>
<circle cx="277.4" cy="657.8" r="0.4" fill="#777"/>
<circle cx="278.4" cy="657.0" r="0.4" fill="#777"/>
<circle cx="276.7" cy="653.5" r="0.4" fill="#777"/>
<circle cx="277.0" cy="655.7" r="0.4" fill="#777"/>
<path d="M280.3,658.0 Q278.0,656.0 277.0,658.9" stroke="#999" stroke-width="0.4" fill="none"/>
<circle cx="280.2" cy="657.6" r="0.4" fill="#888"/>
<circle cx="276.7" cy="655.8" r="0.4" fill="#888"/>
<circle cx="275.9" cy="657.7" r="0.4" fill="#888"/>
<path d="M293.6,589.9 Q293.9,591.8 292.8,593.4 Q291.8,595.0 289.5,595.8 Q287.2,596.6 285.6,595.6 Q283.9,594.6 283.0,591.9 Q282.0,589.3 282.8,588.0 Q283.6,586.8 286.5,586.3 Q289.3,585.8 291.3,587.0 Q293.3,588.1 293.6,589.9Z" stroke="#1a1a1a" stroke-width="1.296" fill="#f0f0f0"/>
<circle cx="290.3" cy="589.5" r="0.4" fill="#777"/>
<circle cx="288.5" cy="592.6" r="0.4" fill="#777"/>
<circle cx="287.2" cy="593.3" r="0.4" fill="#777"/>
<circle cx="285.9" cy="593.0" r="0.4" fill="#777"/>
<path d="M290.6,589.5 Q288.0,591.0 290.4,592.9" stroke="#999" stroke-width="0.4" fill="none"/>
<circle cx="288.9" cy="593.1" r="0.4" fill="#888"/>
<circle cx="289.6" cy="591.9" r="0.4" fill="#888"/>
<circle cx="289.3" cy="591.4" r="0.4" fill="#888"/>
<path d="M304.1,593.3 Q304.0,594.9 303.3,596.4 Q302.5,597.9 300.3,598.6 Q298.2,599.4 296.7,598.2 Q295.2,597.1 294.4,594.6 Q293.7,592.1 294.4,591.0 Q295.2,589.8 297.2,589.3 Q299.2,588.8 301.7,590.2 Q304.1,591.7 304.1,593.3Z" stroke="#1a1a1a" stroke-width="1.296" fill="#f0f0f0"/>
<circle cx="298.7" cy="593.8" r="0.4" fill="#777"/>
<circle cx="298.5" cy="596.4" r="0.4" fill="#777"/>
<circle cx="300.7" cy="595.3" r="0.4" fill="#777"/>
<circle cx="301.5" cy="592.0" r="0.4" fill="#777"/>
<path d="M296.7,595.6 Q299.0,594.0 296.7,592.5" stroke="#999" stroke-width="0.4" fill="none"/>
<circle cx="297.0" cy="594.4" r="0.4" fill="#888"/>
<circle cx="296.5" cy="592.2" r="0.4" fill="#888"/>
<circle cx="300.4" cy="591.7" r="0.4" fill="#888"/>
<path d="M272.2,596.6 Q272.5,598.8 270.7,600.1 Q269.0,601.4 267.2,601.7 Q265.3,601.9 263.6,600.7 Q261.9,599.4 261.9,598.1 Q261.9,596.8 263.4,594.5 Q264.8,592.2 267.0,592.1 Q269.1,592.0 270.5,593.2 Q272.0,594.4 272.2,596.6Z" stroke="#1a1a1a" stroke-width="1.296" fill="#f0f0f0"/>
<circle cx="267.9" cy="595.1" r="0.4" fill="#777"/>
<circle cx="267.5" cy="595.9" r="0.4" fill="#777"/>
<circle cx="267.6" cy="597.5" r="0.4" fill="#777"/>
<circle cx="266.2" cy="595.3" r="0.4" fill="#777"/>
<path d="M264.5,595.9 Q267.0,597.0 267.1,594.3" stroke="#999" stroke-width="0.4" fill="none"/>
<circle cx="265.0" cy="595.0" r="0.4" fill="#888"/>
<circle cx="268.9" cy="595.4" r="0.4" fill="#888"/>
<circle cx="264.6" cy="598.7" r="0.4" fill="#888"/>
<path d="M304.9,606.7 Q305.0,608.3 304.2,609.7 Q303.3,611.1 300.6,611.5 Q297.9,611.9 296.7,610.5 Q295.5,609.2 295.1,607.7 Q294.7,606.2 295.5,604.8 Q296.4,603.4 298.8,602.9 Q301.3,602.3 303.0,603.7 Q304.7,605.0 304.9,606.7Z" stroke="#1a1a1a" stroke-width="1.296" fill="#f0f0f0"/>
<circle cx="299.0" cy="606.4" r="0.4" fill="#777"/>
<circle cx="299.4" cy="604.6" r="0.4" fill="#777"/>
<circle cx="299.7" cy="607.0" r="0.4" fill="#777"/>
<circle cx="299.3" cy="609.0" r="0.4" fill="#777"/>
<path d="M301.6,604.8 Q300.0,607.0 302.7,607.7" stroke="#999" stroke-width="0.4" fill="none"/>
<circle cx="298.1" cy="608.7" r="0.4" fill="#888"/>
<circle cx="300.9" cy="608.7" r="0.4" fill="#888"/>
<circle cx="302.3" cy="607.4" r="0.4" fill="#888"/>
<path d="M277.4,588.9 Q277.7,590.5 276.0,592.6 Q274.3,594.8 272.1,594.6 Q270.0,594.5 269.1,594.0 Q268.1,593.4 267.5,591.0 Q266.8,588.6 267.6,587.2 Q268.4,585.9 270.3,585.5 Q272.2,585.1 274.6,586.2 Q277.0,587.3 277.4,588.9Z" stroke="#1a1a1a" stroke-width="1.296" fill="#f0f0f0"/>
<circle cx="270.4" cy="588.8" r="0.4" fill="#777"/>
<circle cx="273.3" cy="589.5" r="0.4" fill="#777"/>
<circle cx="273.8" cy="587.8" r="0.4" fill="#777"/>
<circle cx="273.2" cy="591.5" r="0.4" fill="#777"/>
<path d="M274.7,590.7 Q272.0,590.0 272.3,592.7" stroke="#999" stroke-width="0.4" fill="none"/>
<circle cx="273.5" cy="587.7" r="0.4" fill="#888"/>
<circle cx="273.3" cy="590.1" r="0.4" fill="#888"/>
<circle cx="273.1" cy="588.0" r="0.4" fill="#888"/>
<path d="M267.3,522.7 Q267.6,524.8 266.9,526.1 Q266.2,527.3 263.3,527.9 Q260.5,528.6 259.1,527.4 Q257.8,526.3 257.3,524.5 Q256.9,522.7 257.8,521.2 Q258.7,519.8 260.6,518.9 Q262.5,518.0 264.8,519.3 Q267.0,520.7 267.3,522.7Z" stroke="#111" stroke-width="1.296" fill="#f0f0f0"/>
<circle cx="263.7" cy="524.6" r="0.4" fill="#777"/>
<circle cx="261.2" cy="525.6" r="0.4" fill="#777"/>
<circle cx="262.6" cy="526.0" r="0.4" fill="#777"/>
<circle cx="261.1" cy="522.8" r="0.4" fill="#777"/>
<path d="M264.9,524.8 Q262.3,523.6 262.2,526.5" stroke="#999" stroke-width="0.4" fill="none"/>
<path d="M273.4,530.3 Q273.8,531.9 272.4,533.6 Q271.1,535.4 269.3,535.9 Q267.5,536.4 265.4,535.5 Q263.3,534.6 262.7,532.5 Q262.0,530.4 263.1,528.8 Q264.2,527.1 266.8,526.3 Q269.3,525.4 271.1,527.1 Q272.9,528.8 273.4,530.3Z" stroke="#111" stroke-width="1.296" fill="#f0f0f0"/>
<circle cx="268.7" cy="532.9" r="0.4" fill="#777"/>
<circle cx="266.3" cy="532.7" r="0.4" fill="#777"/>
<circle cx="269.6" cy="533.4" r="0.4" fill="#777"/>
<circle cx="266.5" cy="532.2" r="0.4" fill="#777"/>
<path d="M265.2,531.8 Q268.0,531.0 266.3,528.7" stroke="#999" stroke-width="0.4" fill="none"/>
<path d="M270.6,539.4 Q271.2,542.0 270.1,543.3 Q269.0,544.5 267.3,544.7 Q265.6,545.0 263.5,544.0 Q261.4,543.1 261.1,540.8 Q260.8,538.4 262.4,536.9 Q264.0,535.4 265.7,535.3 Q267.4,535.2 268.7,536.0 Q270.1,536.8 270.6,539.4Z" stroke="#111" stroke-width="1.296" fill="#f0f0f0"/>
<circle cx="268.5" cy="540.9" r="0.4" fill="#777"/>
<circle cx="266.3" cy="541.9" r="0.4" fill="#777"/>
<circle cx="268.4" cy="539.4" r="0.4" fill="#777"/>
<circle cx="267.9" cy="538.9" r="0.4" fill="#777"/>
<path d="M265.2,537.3 Q266.0,540.0 268.3,538.2" stroke="#999" stroke-width="0.4" fill="none"/>
<path d="M271.3,547.7 Q272.0,549.1 271.0,551.2 Q269.9,553.4 267.0,553.6 Q264.0,553.8 262.7,552.8 Q261.4,551.9 260.8,550.0 Q260.2,548.1 261.9,546.2 Q263.6,544.4 265.4,544.0 Q267.2,543.6 268.9,545.0 Q270.5,546.4 271.3,547.7Z" stroke="#111" stroke-width="1.296" fill="#f0f0f0"/>
<circle cx="265.4" cy="549.0" r="0.4" fill="#777"/>
<circle cx="268.2" cy="550.7" r="0.4" fill="#777"/>
<circle cx="266.9" cy="547.9" r="0.4" fill="#777"/>
<circle cx="268.3" cy="547.6" r="0.4" fill="#777"/>
<path d="M264.5,551.4 Q266.0,549.0 263.2,548.5" stroke="#999" stroke-width="0.4" fill="none"/>
<path d="M272.9,556.6 Q273.5,558.3 272.0,560.5 Q270.4,562.8 268.9,563.1 Q267.5,563.4 265.5,562.4 Q263.5,561.3 262.9,559.4 Q262.2,557.5 263.2,555.9 Q264.2,554.3 267.1,553.8 Q269.9,553.3 271.1,554.2 Q272.3,555.0 272.9,556.6Z" stroke="#111" stroke-width="1.296" fill="#f0f0f0"/>
<circle cx="267.4" cy="558.3" r="0.4" fill="#777"/>
<circle cx="270.4" cy="560.3" r="0.4" fill="#777"/>
<circle cx="267.0" cy="559.4" r="0.4" fill="#777"/>
<circle cx="267.8" cy="555.9" r="0.4" fill="#777"/>
<path d="M267.7,560.8 Q268.0,558.0 265.2,558.7" stroke="#999" stroke-width="0.4" fill="none"/>
<path d="M270.4,566.2 Q270.7,567.4 269.2,569.4 Q267.8,571.4 266.2,572.0 Q264.6,572.5 262.5,571.1 Q260.4,569.6 259.9,567.7 Q259.4,565.8 260.8,563.9 Q262.2,562.1 264.6,562.0 Q267.1,561.9 268.7,563.4 Q270.2,564.9 270.4,566.2Z" stroke="#111" stroke-width="1.296" fill="#f0f0f0"/>
<circle cx="263.8" cy="569.2" r="0.4" fill="#777"/>
<circle cx="263.8" cy="565.2" r="0.4" fill="#777"/>
<circle cx="263.1" cy="567.2" r="0.4" fill="#777"/>
<circle cx="267.1" cy="566.2" r="0.4" fill="#777"/>
<path d="M267.7,566.2 Q265.0,567.0 266.8,569.3" stroke="#999" stroke-width="0.4" fill="none"/>
<path d="M269.3,575.3 Q269.6,576.9 268.7,578.6 Q267.8,580.2 265.7,580.8 Q263.5,581.5 261.4,580.4 Q259.4,579.2 259.2,576.9 Q259.0,574.5 260.5,572.9 Q261.9,571.4 263.9,571.4 Q265.9,571.3 267.5,572.5 Q269.1,573.7 269.3,575.3Z" stroke="#111" stroke-width="1.296" fill="#f0f0f0"/>
<circle cx="264.5" cy="576.8" r="0.4" fill="#777"/>
<circle cx="266.5" cy="575.6" r="0.4" fill="#777"/>
<circle cx="266.2" cy="573.7" r="0.4" fill="#777"/>
<circle cx="262.8" cy="576.5" r="0.4" fill="#777"/>
<path d="M261.8,574.2 Q264.0,576.0 264.9,573.3" stroke="#999" stroke-width="0.4" fill="none"/>
<path d="M267.3,584.5 Q267.3,586.3 266.0,588.0 Q264.7,589.7 262.9,589.8 Q261.1,589.9 259.2,589.0 Q257.4,588.2 257.0,586.4 Q256.5,584.6 257.4,582.7 Q258.2,580.8 261.0,580.2 Q263.7,579.7 265.5,581.2 Q267.3,582.8 267.3,584.5Z" stroke="#111" stroke-width="1.296" fill="#f0f0f0"/>
<circle cx="263.9" cy="582.6" r="0.4" fill="#777"/>
<circle cx="261.1" cy="583.7" r="0.4" fill="#777"/>
<circle cx="260.7" cy="584.5" r="0.4" fill="#777"/>
<circle cx="262.0" cy="586.8" r="0.4" fill="#777"/>
<path d="M260.8,587.6 Q262.0,585.0 259.1,584.9" stroke="#999" stroke-width="0.4" fill="none"/>
<path d="M267.4,592.4 Q268.2,594.3 267.0,596.3 Q265.7,598.4 263.7,598.8 Q261.6,599.2 259.2,597.7 Q256.8,596.3 256.9,594.2 Q257.0,592.1 257.7,591.0 Q258.5,589.8 260.4,589.4 Q262.4,588.9 264.5,589.7 Q266.6,590.5 267.4,592.4Z" stroke="#111" stroke-width="1.296" fill="#f0f0f0"/>
<circle cx="263.2" cy="593.8" r="0.4" fill="#777"/>
<circle cx="262.8" cy="593.5" r="0.4" fill="#777"/>
<circle cx="264.3" cy="593.7" r="0.4" fill="#777"/>
<circle cx="262.5" cy="592.6" r="0.4" fill="#777"/>
<path d="M259.9,595.6 Q262.2,593.9 259.8,592.3" stroke="#999" stroke-width="0.4" fill="none"/>
<path d="M267.3,601.4 Q267.4,602.8 266.7,604.9 Q266.1,607.0 263.9,607.6 Q261.7,608.2 259.5,606.7 Q257.2,605.2 256.8,603.7 Q256.3,602.3 258.2,600.1 Q260.1,597.8 261.7,597.8 Q263.3,597.8 265.3,598.9 Q267.2,600.0 267.3,601.4Z" stroke="#111" stroke-width="1.296" fill="#f0f0f0"/>
<circle cx="259.7" cy="604.1" r="0.4" fill="#777"/>
<circle cx="262.7" cy="600.6" r="0.4" fill="#777"/>
<circle cx="259.7" cy="600.1" r="0.4" fill="#777"/>
<circle cx="264.5" cy="604.3" r="0.4" fill="#777"/>
<path d="M263.5,600.1 Q262.2,602.7 265.0,603.0" stroke="#999" stroke-width="0.4" fill="none"/>
<path d="M268.6,609.9 Q269.2,612.1 268.3,613.6 Q267.4,615.0 265.0,615.7 Q262.6,616.5 260.9,615.2 Q259.1,614.0 258.8,612.2 Q258.5,610.3 259.9,608.2 Q261.2,606.0 262.8,605.9 Q264.4,605.8 266.2,606.7 Q268.0,607.6 268.6,609.9Z" stroke="#111" stroke-width="1.296" fill="#f0f0f0"/>
<circle cx="264.7" cy="609.2" r="0.4" fill="#777"/>
<circle cx="265.1" cy="612.7" r="0.4" fill="#777"/>
<circle cx="266.4" cy="611.8" r="0.4" fill="#777"/>
<circle cx="264.3" cy="610.0" r="0.4" fill="#777"/>
<path d="M262.8,608.4 Q264.0,611.0 266.0,608.9" stroke="#999" stroke-width="0.4" fill="none"/>
<path d="M271.5,618.6 Q271.7,620.7 271.1,621.7 Q270.4,622.8 267.5,623.3 Q264.6,623.7 263.2,622.8 Q261.8,621.9 261.5,620.2 Q261.2,618.5 262.1,616.6 Q263.0,614.6 265.5,614.1 Q268.0,613.7 269.7,615.1 Q271.4,616.5 271.5,618.6Z" stroke="#111" stroke-width="1.296" fill="#f0f0f0"/>
<circle cx="268.4" cy="619.4" r="0.4" fill="#777"/>
<circle cx="267.2" cy="617.8" r="0.4" fill="#777"/>
<circle cx="265.6" cy="621.2" r="0.4" fill="#777"/>
<circle cx="268.0" cy="621.2" r="0.4" fill="#777"/>
<path d="M266.4,621.9 Q266.6,619.0 263.9,619.9" stroke="#999" stroke-width="0.4" fill="none"/>
<path d="M275.5,627.7 Q275.6,629.4 274.6,630.5 Q273.7,631.6 270.8,632.2 Q268.0,632.7 266.6,631.6 Q265.1,630.6 264.9,628.3 Q264.7,625.9 265.7,625.0 Q266.8,624.0 268.8,623.2 Q270.8,622.4 273.1,624.2 Q275.4,625.9 275.5,627.7Z" stroke="#111" stroke-width="1.296" fill="#f0f0f0"/>
<circle cx="268.2" cy="629.1" r="0.4" fill="#777"/>
<circle cx="268.7" cy="629.6" r="0.4" fill="#777"/>
<circle cx="268.8" cy="626.5" r="0.4" fill="#777"/>
<circle cx="268.3" cy="630.1" r="0.4" fill="#777"/>
<path d="M270.2,630.9 Q270.0,628.0 267.4,629.2" stroke="#999" stroke-width="0.4" fill="none"/>
<circle cx="313.0" cy="553.0" r="5.6" stroke="#111" stroke-width="1.3" fill="#888"/>
<line x1="313.0" y1="553.0" x2="317.5" y2="553.0" stroke="#222" stroke-width="0.8"/>
<line x1="313.0" y1="553.0" x2="315.8" y2="556.5" stroke="#222" stroke-width="0.8"/>
<line x1="313.0" y1="553.0" x2="312.0" y2="557.4" stroke="#222" stroke-width="0.8"/>
<line x1="313.0" y1="553.0" x2="308.9" y2="554.9" stroke="#222" stroke-width="0.8"/>
<line x1="313.0" y1="553.0" x2="309.0" y2="551.0" stroke="#222" stroke-width="0.8"/>
<line x1="313.0" y1="553.0" x2="312.1" y2="548.6" stroke="#222" stroke-width="0.8"/>
<line x1="313.0" y1="553.0" x2="315.9" y2="549.5" stroke="#222" stroke-width="0.8"/>
<circle cx="311.5" cy="551.5" r="1.2" stroke="#ccc" stroke-width="0.3" fill="#ccc"/>
<circle cx="311.6" cy="563.6" r="5.6" stroke="#111" stroke-width="1.3" fill="#888"/>
<line x1="311.6" y1="563.6" x2="316.1" y2="563.6" stroke="#222" stroke-width="0.8"/>
<line x1="311.6" y1="563.6" x2="314.4" y2="567.1" stroke="#222" stroke-width="0.8"/>
<line x1="311.6" y1="563.6" x2="310.6" y2="568.0" stroke="#222" stroke-width="0.8"/>
<line x1="311.6" y1="563.6" x2="307.5" y2="565.5" stroke="#222" stroke-width="0.8"/>
<line x1="311.6" y1="563.6" x2="307.6" y2="561.6" stroke="#222" stroke-width="0.8"/>
<line x1="311.6" y1="563.6" x2="310.7" y2="559.2" stroke="#222" stroke-width="0.8"/>
<line x1="311.6" y1="563.6" x2="314.5" y2="560.1" stroke="#222" stroke-width="0.8"/>
<circle cx="310.1" cy="562.1" r="1.2" stroke="#ccc" stroke-width="0.3" fill="#ccc"/>
<circle cx="311.6" cy="574.2" r="5.6" stroke="#111" stroke-width="1.3" fill="#888"/>
<line x1="311.6" y1="574.2" x2="316.1" y2="574.2" stroke="#222" stroke-width="0.8"/>
<line x1="311.6" y1="574.2" x2="314.4" y2="577.7" stroke="#222" stroke-width="0.8"/>
<line x1="311.6" y1="574.2" x2="310.6" y2="578.6" stroke="#222" stroke-width="0.8"/>
<line x1="311.6" y1="574.2" x2="307.5" y2="576.1" stroke="#222" stroke-width="0.8"/>
<line x1="311.6" y1="574.2" x2="307.6" y2="572.2" stroke="#222" stroke-width="0.8"/>
<line x1="311.6" y1="574.2" x2="310.7" y2="569.8" stroke="#222" stroke-width="0.8"/>
<line x1="311.6" y1="574.2" x2="314.5" y2="570.7" stroke="#222" stroke-width="0.8"/>
<circle cx="310.1" cy="572.7" r="1.2" stroke="#ccc" stroke-width="0.3" fill="#ccc"/>
<circle cx="323.7" cy="651.7" r="5.6" stroke="#111" stroke-width="1.3" fill="#888"/>
<line x1="323.7" y1="651.7" x2="328.2" y2="651.7" stroke="#222" stroke-width="0.8"/>
<line x1="323.7" y1="651.7" x2="326.5" y2="655.2" stroke="#222" stroke-width="0.8"/>
<line x1="323.7" y1="651.7" x2="322.7" y2="656.1" stroke="#222" stroke-width="0.8"/>
<line x1="323.7" y1="651.7" x2="319.6" y2="653.6" stroke="#222" stroke-width="0.8"/>
<line x1="323.7" y1="651.7" x2="319.7" y2="649.7" stroke="#222" stroke-width="0.8"/>
<line x1="323.7" y1="651.7" x2="322.8" y2="647.3" stroke="#222" stroke-width="0.8"/>
<line x1="323.7" y1="651.7" x2="326.6" y2="648.2" stroke="#222" stroke-width="0.8"/>
<circle cx="322.2" cy="650.2" r="1.2" stroke="#ccc" stroke-width="0.3" fill="#ccc"/>
<circle cx="335.6" cy="658.3" r="5.6" stroke="#111" stroke-width="1.3" fill="#888"/>
<line x1="335.6" y1="658.3" x2="340.1" y2="658.3" stroke="#222" stroke-width="0.8"/>
<line x1="335.6" y1="658.3" x2="338.4" y2="661.8" stroke="#222" stroke-width="0.8"/>
<line x1="335.6" y1="658.3" x2="334.6" y2="662.7" stroke="#222" stroke-width="0.8"/>
<line x1="335.6" y1="658.3" x2="331.5" y2="660.2" stroke="#222" stroke-width="0.8"/>
<line x1="335.6" y1="658.3" x2="331.6" y2="656.3" stroke="#222" stroke-width="0.8"/>
<line x1="335.6" y1="658.3" x2="334.7" y2="653.9" stroke="#222" stroke-width="0.8"/>
<line x1="335.6" y1="658.3" x2="338.5" y2="654.8" stroke="#222" stroke-width="0.8"/>
<circle cx="334.1" cy="656.8" r="1.2" stroke="#ccc" stroke-width="0.3" fill="#ccc"/>
<circle cx="323.7" cy="665.0" r="5.6" stroke="#111" stroke-width="1.3" fill="#888"/>
<line x1="323.7" y1="665.0" x2="328.2" y2="665.0" stroke="#222" stroke-width="0.8"/>
<line x1="323.7" y1="665.0" x2="326.5" y2="668.5" stroke="#222" stroke-width="0.8"/>
<line x1="323.7" y1="665.0" x2="322.7" y2="669.4" stroke="#222" stroke-width="0.8"/>
<line x1="323.7" y1="665.0" x2="319.6" y2="666.9" stroke="#222" stroke-width="0.8"/>
<line x1="323.7" y1="665.0" x2="319.7" y2="663.0" stroke="#222" stroke-width="0.8"/>
<line x1="323.7" y1="665.0" x2="322.8" y2="660.6" stroke="#222" stroke-width="0.8"/>
<line x1="323.7" y1="665.0" x2="326.6" y2="661.5" stroke="#222" stroke-width="0.8"/>
<circle cx="322.2" cy="663.5" r="1.2" stroke="#ccc" stroke-width="0.3" fill="#ccc"/>
<circle cx="303.0" cy="585.0" r="1.1" fill="#888"/>
<line x1="300.6" y1="585.0" x2="305.4" y2="585.0" stroke="#888" stroke-width="0.7"/>
<line x1="301.3" y1="583.3" x2="304.7" y2="586.7" stroke="#888" stroke-width="0.7"/>
<line x1="303.0" y1="582.6" x2="303.0" y2="587.4" stroke="#888" stroke-width="0.7"/>
<line x1="304.7" y1="583.3" x2="301.3" y2="586.7" stroke="#888" stroke-width="0.7"/>
<circle cx="309.0" cy="586.8" r="1.1" fill="#888"/>
<line x1="306.6" y1="586.8" x2="311.4" y2="586.8" stroke="#888" stroke-width="0.7"/>
<line x1="307.3" y1="585.1" x2="310.7" y2="588.5" stroke="#888" stroke-width="0.7"/>
<line x1="309.0" y1="584.4" x2="309.0" y2="589.2" stroke="#888" stroke-width="0.7"/>
<line x1="310.7" y1="585.1" x2="307.3" y2="588.5" stroke="#888" stroke-width="0.7"/>
<circle cx="303.9" cy="590.0" r="1.1" fill="#888"/>
<line x1="301.5" y1="590.0" x2="306.3" y2="590.0" stroke="#888" stroke-width="0.7"/>
<line x1="302.2" y1="588.3" x2="305.6" y2="591.7" stroke="#888" stroke-width="0.7"/>
<line x1="303.9" y1="587.6" x2="303.9" y2="592.4" stroke="#888" stroke-width="0.7"/>
<line x1="305.6" y1="588.3" x2="302.2" y2="591.7" stroke="#888" stroke-width="0.7"/>
<circle cx="309.9" cy="591.8" r="1.1" fill="#888"/>
<line x1="307.5" y1="591.8" x2="312.3" y2="591.8" stroke="#888" stroke-width="0.7"/>
<line x1="308.2" y1="590.1" x2="311.6" y2="593.5" stroke="#888" stroke-width="0.7"/>
<line x1="309.9" y1="589.4" x2="309.9" y2="594.2" stroke="#888" stroke-width="0.7"/>
<line x1="311.6" y1="590.1" x2="308.2" y2="593.5" stroke="#888" stroke-width="0.7"/>
<circle cx="304.8" cy="595.0" r="1.1" fill="#888"/>
<line x1="302.4" y1="595.0" x2="307.2" y2="595.0" stroke="#888" stroke-width="0.7"/>
<line x1="303.1" y1="593.3" x2="306.5" y2="596.7" stroke="#888" stroke-width="0.7"/>
<line x1="304.8" y1="592.6" x2="304.8" y2="597.4" stroke="#888" stroke-width="0.7"/>
<line x1="306.5" y1="593.3" x2="303.1" y2="596.7" stroke="#888" stroke-width="0.7"/>
<circle cx="310.8" cy="596.8" r="1.1" fill="#888"/>
<line x1="308.4" y1="596.8" x2="313.2" y2="596.8" stroke="#888" stroke-width="0.7"/>
<line x1="309.1" y1="595.1" x2="312.5" y2="598.5" stroke="#888" stroke-width="0.7"/>
<line x1="310.8" y1="594.4" x2="310.8" y2="599.2" stroke="#888" stroke-width="0.7"/>
<line x1="312.5" y1="595.1" x2="309.1" y2="598.5" stroke="#888" stroke-width="0.7"/>
<circle cx="305.7" cy="600.0" r="1.1" fill="#888"/>
<line x1="303.3" y1="600.0" x2="308.1" y2="600.0" stroke="#888" stroke-width="0.7"/>
<line x1="304.0" y1="598.3" x2="307.4" y2="601.7" stroke="#888" stroke-width="0.7"/>
<line x1="305.7" y1="597.6" x2="305.7" y2="602.4" stroke="#888" stroke-width="0.7"/>
<line x1="307.4" y1="598.3" x2="304.0" y2="601.7" stroke="#888" stroke-width="0.7"/>
<circle cx="311.7" cy="601.8" r="1.1" fill="#888"/>
<line x1="309.3" y1="601.8" x2="314.1" y2="601.8" stroke="#888" stroke-width="0.7"/>
<line x1="310.0" y1="600.1" x2="313.4" y2="603.5" stroke="#888" stroke-width="0.7"/>
<line x1="311.7" y1="599.4" x2="311.7" y2="604.2" stroke="#888" stroke-width="0.7"/>
<line x1="313.4" y1="600.1" x2="310.0" y2="603.5" stroke="#888" stroke-width="0.7"/>
<circle cx="306.6" cy="605.0" r="1.1" fill="#888"/>
<line x1="304.2" y1="605.0" x2="309.0" y2="605.0" stroke="#888" stroke-width="0.7"/>
<line x1="304.9" y1="603.3" x2="308.3" y2="606.7" stroke="#888" stroke-width="0.7"/>
<line x1="306.6" y1="602.6" x2="306.6" y2="607.4" stroke="#888" stroke-width="0.7"/>
<line x1="308.3" y1="603.3" x2="304.9" y2="606.7" stroke="#888" stroke-width="0.7"/>
<circle cx="312.6" cy="606.8" r="1.1" fill="#888"/>
<line x1="310.2" y1="606.8" x2="315.0" y2="606.8" stroke="#888" stroke-width="0.7"/>
<line x1="310.9" y1="605.1" x2="314.3" y2="608.5" stroke="#888" stroke-width="0.7"/>
<line x1="312.6" y1="604.4" x2="312.6" y2="609.2" stroke="#888" stroke-width="0.7"/>
<line x1="314.3" y1="605.1" x2="310.9" y2="608.5" stroke="#888" stroke-width="0.7"/>
<circle cx="307.5" cy="610.0" r="1.1" fill="#888"/>
<line x1="305.1" y1="610.0" x2="309.9" y2="610.0" stroke="#888" stroke-width="0.7"/>
<line x1="305.8" y1="608.3" x2="309.2" y2="611.7" stroke="#888" stroke-width="0.7"/>
<line x1="307.5" y1="607.6" x2="307.5" y2="612.4" stroke="#888" stroke-width="0.7"/>
<line x1="309.2" y1="608.3" x2="305.8" y2="611.7" stroke="#888" stroke-width="0.7"/>
<circle cx="313.5" cy="611.8" r="1.1" fill="#888"/>
<line x1="311.1" y1="611.8" x2="315.9" y2="611.8" stroke="#888" stroke-width="0.7"/>
<line x1="311.8" y1="610.1" x2="315.2" y2="613.5" stroke="#888" stroke-width="0.7"/>
<line x1="313.5" y1="609.4" x2="313.5" y2="614.2" stroke="#888" stroke-width="0.7"/>
<line x1="315.2" y1="610.1" x2="311.8" y2="613.5" stroke="#888" stroke-width="0.7"/>
<circle cx="308.4" cy="615.0" r="1.1" fill="#888"/>
<line x1="306.0" y1="615.0" x2="310.8" y2="615.0" stroke="#888" stroke-width="0.7"/>
<line x1="306.7" y1="613.3" x2="310.1" y2="616.7" stroke="#888" stroke-width="0.7"/>
<line x1="308.4" y1="612.6" x2="308.4" y2="617.4" stroke="#888" stroke-width="0.7"/>
<line x1="310.1" y1="613.3" x2="306.7" y2="616.7" stroke="#888" stroke-width="0.7"/>
<circle cx="314.4" cy="616.8" r="1.1" fill="#888"/>
<line x1="312.0" y1="616.8" x2="316.8" y2="616.8" stroke="#888" stroke-width="0.7"/>
<line x1="312.7" y1="615.1" x2="316.1" y2="618.5" stroke="#888" stroke-width="0.7"/>
<line x1="314.4" y1="614.4" x2="314.4" y2="619.2" stroke="#888" stroke-width="0.7"/>
<line x1="316.1" y1="615.1" x2="312.7" y2="618.5" stroke="#888" stroke-width="0.7"/>
<circle cx="309.3" cy="620.0" r="1.1" fill="#888"/>
<line x1="306.9" y1="620.0" x2="311.7" y2="620.0" stroke="#888" stroke-width="0.7"/>
<line x1="307.6" y1="618.3" x2="311.0" y2="621.7" stroke="#888" stroke-width="0.7"/>
<line x1="309.3" y1="617.6" x2="309.3" y2="622.4" stroke="#888" stroke-width="0.7"/>
<line x1="311.0" y1="618.3" x2="307.6" y2="621.7" stroke="#888" stroke-width="0.7"/>
<circle cx="315.3" cy="621.8" r="1.1" fill="#888"/>
<line x1="312.9" y1="621.8" x2="317.7" y2="621.8" stroke="#888" stroke-width="0.7"/>
<line x1="313.6" y1="620.1" x2="317.0" y2="623.5" stroke="#888" stroke-width="0.7"/>
<line x1="315.3" y1="619.4" x2="315.3" y2="624.2" stroke="#888" stroke-width="0.7"/>
<line x1="317.0" y1="620.1" x2="313.6" y2="623.5" stroke="#888" stroke-width="0.7"/>
<circle cx="310.2" cy="625.0" r="1.1" fill="#888"/>
<line x1="307.8" y1="625.0" x2="312.6" y2="625.0" stroke="#888" stroke-width="0.7"/>
<line x1="308.5" y1="623.3" x2="311.9" y2="626.7" stroke="#888" stroke-width="0.7"/>
<line x1="310.2" y1="622.6" x2="310.2" y2="627.4" stroke="#888" stroke-width="0.7"/>
<line x1="311.9" y1="623.3" x2="308.5" y2="626.7" stroke="#888" stroke-width="0.7"/>
<circle cx="316.2" cy="626.8" r="1.1" fill="#888"/>
<line x1="313.8" y1="626.8" x2="318.6" y2="626.8" stroke="#888" stroke-width="0.7"/>
<line x1="314.5" y1="625.1" x2="317.9" y2="628.5" stroke="#888" stroke-width="0.7"/>
<line x1="316.2" y1="624.4" x2="316.2" y2="629.2" stroke="#888" stroke-width="0.7"/>
<line x1="317.9" y1="625.1" x2="314.5" y2="628.5" stroke="#888" stroke-width="0.7"/>
<circle cx="311.1" cy="630.0" r="1.1" fill="#888"/>
<line x1="308.7" y1="630.0" x2="313.5" y2="630.0" stroke="#888" stroke-width="0.7"/>
<line x1="309.4" y1="628.3" x2="312.8" y2="631.7" stroke="#888" stroke-width="0.7"/>
<line x1="311.1" y1="627.6" x2="311.1" y2="632.4" stroke="#888" stroke-width="0.7"/>
<line x1="312.8" y1="628.3" x2="309.4" y2="631.7" stroke="#888" stroke-width="0.7"/>
<circle cx="317.1" cy="631.8" r="1.1" fill="#888"/>
<line x1="314.7" y1="631.8" x2="319.5" y2="631.8" stroke="#888" stroke-width="0.7"/>
<line x1="315.4" y1="630.1" x2="318.8" y2="633.5" stroke="#888" stroke-width="0.7"/>
<line x1="317.1" y1="629.4" x2="317.1" y2="634.2" stroke="#888" stroke-width="0.7"/>
<line x1="318.8" y1="630.1" x2="315.4" y2="633.5" stroke="#888" stroke-width="0.7"/>
<circle cx="312.0" cy="635.0" r="1.1" fill="#888"/>
<line x1="309.6" y1="635.0" x2="314.4" y2="635.0" stroke="#888" stroke-width="0.7"/>
<line x1="310.3" y1="633.3" x2="313.7" y2="636.7" stroke="#888" stroke-width="0.7"/>
<line x1="312.0" y1="632.6" x2="312.0" y2="637.4" stroke="#888" stroke-width="0.7"/>
<line x1="313.7" y1="633.3" x2="310.3" y2="636.7" stroke="#888" stroke-width="0.7"/>
<circle cx="318.0" cy="636.8" r="1.1" fill="#888"/>
<line x1="315.6" y1="636.8" x2="320.4" y2="636.8" stroke="#888" stroke-width="0.7"/>
<line x1="316.3" y1="635.1" x2="319.7" y2="638.5" stroke="#888" stroke-width="0.7"/>
<line x1="318.0" y1="634.4" x2="318.0" y2="639.2" stroke="#888" stroke-width="0.7"/>
<line x1="319.7" y1="635.1" x2="316.3" y2="638.5" stroke="#888" stroke-width="0.7"/>
<circle cx="312.9" cy="640.0" r="1.1" fill="#888"/>
<line x1="310.5" y1="640.0" x2="315.3" y2="640.0" stroke="#888" stroke-width="0.7"/>
<line x1="311.2" y1="638.3" x2="314.6" y2="641.7" stroke="#888" stroke-width="0.7"/>
<line x1="312.9" y1="637.6" x2="312.9" y2="642.4" stroke="#888" stroke-width="0.7"/>
<line x1="314.6" y1="638.3" x2="311.2" y2="641.7" stroke="#888" stroke-width="0.7"/>
<circle cx="318.9" cy="641.8" r="1.1" fill="#888"/>
<line x1="316.5" y1="641.8" x2="321.3" y2="641.8" stroke="#888" stroke-width="0.7"/>
<line x1="317.2" y1="640.1" x2="320.6" y2="643.5" stroke="#888" stroke-width="0.7"/>
<line x1="318.9" y1="639.4" x2="318.9" y2="644.2" stroke="#888" stroke-width="0.7"/>
<line x1="320.6" y1="640.1" x2="317.2" y2="643.5" stroke="#888" stroke-width="0.7"/>
<circle cx="317.7" cy="588.0" r="2.4" stroke="#333" stroke-width="0.6" fill="#888"/>
<circle cx="318.4" cy="596.0" r="2.4" stroke="#333" stroke-width="0.6" fill="#888"/>
<circle cx="320.0" cy="605.0" r="2.4" stroke="#333" stroke-width="0.6" fill="#888"/>
<circle cx="322.0" cy="614.6" r="2.4" stroke="#333" stroke-width="0.6" fill="#888"/>
<circle cx="323.6" cy="624.2" r="2.4" stroke="#333" stroke-width="0.6" fill="#888"/>
<circle cx="325.8" cy="633.8" r="2.4" stroke="#333" stroke-width="0.6" fill="#888"/>
<circle cx="330.2" cy="642.7" r="2.4" stroke="#333" stroke-width="0.6" fill="#888"/>
<circle cx="317.6" cy="585.0" r="2.4" stroke="#333" stroke-width="0.6" fill="#888"/>
<circle cx="252.6" cy="615.3" r="2.4" stroke="#333" stroke-width="0.6" fill="#888"/>
<circle cx="258.5" cy="620.5" r="2.4" stroke="#333" stroke-width="0.6" fill="#888"/>
<circle cx="250.4" cy="624.2" r="2.4" stroke="#333" stroke-width="0.6" fill="#888"/>
<circle cx="254.8" cy="630.9" r="2.4" stroke="#333" stroke-width="0.6" fill="#888"/>
<circle cx="260.7" cy="628.0" r="2.4" stroke="#333" stroke-width="0.6" fill="#888"/>
<circle cx="307.3" cy="687.0" r="2.4" stroke="#333" stroke-width="0.6" fill="#888"/>
<circle cx="315.4" cy="687.0" r="2.4" stroke="#333" stroke-width="0.6" fill="#888"/>
<circle cx="323.6" cy="687.0" r="2.4" stroke="#333" stroke-width="0.6" fill="#888"/>
<circle cx="311.0" cy="695.2" r="2.4" stroke="#333" stroke-width="0.6" fill="#888"/>
<circle cx="320.0" cy="694.5" r="2.4" stroke="#333" stroke-width="0.6" fill="#888"/>
<circle cx="315.4" cy="679.0" r="2.4" stroke="#333" stroke-width="0.6" fill="#888"/>
<circle cx="323.6" cy="678.0" r="2.4" stroke="#333" stroke-width="0.6" fill="#888"/>
<circle cx="338.3" cy="680.7" r="7.2" fill="none" stroke="#111" stroke-width="2.4" stroke-dasharray="1.1 1.1" stroke-linecap="butt"/>
<circle cx="338.3" cy="680.7" r="5.8" stroke="#555" stroke-width="0.5" fill="none"/>
<line x1="338.3" y1="680.7" x2="343.3" y2="680.7" stroke="#666" stroke-width="0.4"/>
<line x1="338.3" y1="680.7" x2="342.3" y2="683.6" stroke="#666" stroke-width="0.4"/>
<line x1="338.3" y1="680.7" x2="339.8" y2="685.5" stroke="#666" stroke-width="0.4"/>
<line x1="338.3" y1="680.7" x2="336.7" y2="685.4" stroke="#666" stroke-width="0.4"/>
<line x1="338.3" y1="680.7" x2="334.2" y2="683.6" stroke="#666" stroke-width="0.4"/>
<line x1="338.3" y1="680.7" x2="333.3" y2="680.7" stroke="#666" stroke-width="0.4"/>
<line x1="338.3" y1="680.7" x2="334.3" y2="677.7" stroke="#666" stroke-width="0.4"/>
<line x1="338.3" y1="680.7" x2="336.8" y2="675.9" stroke="#666" stroke-width="0.4"/>
<line x1="338.3" y1="680.7" x2="339.9" y2="676.0" stroke="#666" stroke-width="0.4"/>
<line x1="338.3" y1="680.7" x2="342.4" y2="677.8" stroke="#666" stroke-width="0.4"/>
<circle cx="281.4" cy="654.8" r="31.4" stroke="#111" stroke-width="1.5" fill="none"/>
<circle cx="281.4" cy="654.8" r="2.6" fill="#111"/>
<path d="M257,519 C250,535 244,570 242,607 C241,630 245,660 257,676 C266,688 280,697 300,700 C320,702 335,701 352,698" stroke="#999" stroke-width="0.5" fill="none"/>
<rect x="-2.5" y="-2.5" width="5" height="5" transform="translate(234,567) rotate(30)" fill="#ccc" stroke="#444" stroke-width="0.6"/>
<polygon points="611,264 635.5,250 571.5,397 561,392" fill="none" stroke="#222" stroke-width="0.9" stroke-dasharray="1.2 0.8"/>
<path d="M624.2,271.6 Q622.7,272.9 623.4,274.7 Q621.4,275.0 621.1,277.0 Q619.3,276.3 618.0,277.8 Q616.7,276.3 614.9,277.0 Q614.6,275.0 612.6,274.7 Q613.3,272.9 611.8,271.6 Q613.3,270.3 612.6,268.5 Q614.6,268.2 614.9,266.2 Q616.7,266.9 618.0,265.4 Q619.3,266.9 621.1,266.2 Q621.4,268.2 623.4,268.5 Q622.7,270.3 624.2,271.6Z" stroke="#111" stroke-width="1.6" fill="#fff"/>
<circle cx="618.0" cy="271.6" r="2.6" stroke="#444" stroke-width="0.6" fill="none"/>
<circle cx="618.0" cy="271.6" r="0.5" fill="#111"/>
<path d="M618.6,283.0 Q617.1,284.3 617.8,286.1 Q615.8,286.4 615.5,288.4 Q613.7,287.7 612.4,289.2 Q611.1,287.7 609.3,288.4 Q609.0,286.4 607.0,286.1 Q607.7,284.3 606.2,283.0 Q607.7,281.7 607.0,279.9 Q609.0,279.6 609.3,277.6 Q611.1,278.3 612.4,276.8 Q613.7,278.3 615.5,277.6 Q615.8,279.6 617.8,279.9 Q617.1,281.7 618.6,283.0Z" stroke="#111" stroke-width="1.6" fill="#fff"/>
<circle cx="612.4" cy="283.0" r="2.6" stroke="#444" stroke-width="0.6" fill="none"/>
<circle cx="612.4" cy="283.0" r="0.5" fill="#111"/>
<path d="M612.8,294.6 Q611.3,295.9 612.0,297.7 Q610.0,298.0 609.7,300.0 Q607.9,299.3 606.6,300.8 Q605.3,299.3 603.5,300.0 Q603.2,298.0 601.2,297.7 Q601.9,295.9 600.4,294.6 Q601.9,293.3 601.2,291.5 Q603.2,291.2 603.5,289.2 Q605.3,289.9 606.6,288.4 Q607.9,289.9 609.7,289.2 Q610.0,291.2 612.0,291.5 Q611.3,293.3 612.8,294.6Z" stroke="#111" stroke-width="1.6" fill="#fff"/>
<circle cx="606.6" cy="294.6" r="2.6" stroke="#444" stroke-width="0.6" fill="none"/>
<circle cx="606.6" cy="294.6" r="0.5" fill="#111"/>
<path d="M586.9,360.8 Q585.4,362.1 586.1,363.9 Q584.1,364.2 583.8,366.2 Q582.0,365.5 580.7,367.0 Q579.4,365.5 577.6,366.2 Q577.3,364.2 575.3,363.9 Q576.0,362.1 574.5,360.8 Q576.0,359.5 575.3,357.7 Q577.3,357.4 577.6,355.4 Q579.4,356.1 580.7,354.6 Q582.0,356.1 583.8,355.4 Q584.1,357.4 586.1,357.7 Q585.4,359.5 586.9,360.8Z" stroke="#111" stroke-width="1.6" fill="#fff"/>
<circle cx="580.7" cy="360.8" r="2.6" stroke="#444" stroke-width="0.6" fill="none"/>
<circle cx="580.7" cy="360.8" r="0.5" fill="#111"/>
<path d="M581.2,372.3 Q579.7,373.6 580.4,375.4 Q578.4,375.7 578.1,377.7 Q576.3,377.0 575.0,378.5 Q573.7,377.0 571.9,377.7 Q571.6,375.7 569.6,375.4 Q570.3,373.6 568.8,372.3 Q570.3,371.0 569.6,369.2 Q571.6,368.9 571.9,366.9 Q573.7,367.6 575.0,366.1 Q576.3,367.6 578.1,366.9 Q578.4,368.9 580.4,369.2 Q579.7,371.0 581.2,372.3Z" stroke="#111" stroke-width="1.6" fill="#fff"/>
<circle cx="575.0" cy="372.3" r="2.6" stroke="#444" stroke-width="0.6" fill="none"/>
<circle cx="575.0" cy="372.3" r="0.5" fill="#111"/>
<path d="M574.0,383.8 Q572.5,385.1 573.2,386.9 Q571.2,387.2 570.9,389.2 Q569.1,388.5 567.8,390.0 Q566.5,388.5 564.7,389.2 Q564.4,387.2 562.4,386.9 Q563.1,385.1 561.6,383.8 Q563.1,382.5 562.4,380.7 Q564.4,380.4 564.7,378.4 Q566.5,379.1 567.8,377.6 Q569.1,379.1 570.9,378.4 Q571.2,380.4 573.2,380.7 Q572.5,382.5 574.0,383.8Z" stroke="#111" stroke-width="1.6" fill="#fff"/>
<circle cx="567.8" cy="383.8" r="2.6" stroke="#444" stroke-width="0.6" fill="none"/>
<circle cx="567.8" cy="383.8" r="0.5" fill="#111"/>
<path d="M607.5,308.0 Q607.8,312.7 603.9,315.4 Q600.4,318.6 595.9,317.3 Q591.2,316.5 589.4,312.1 Q587.2,308.0 589.4,303.9 Q591.2,299.5 595.9,298.7 Q600.4,297.4 603.9,300.6 Q607.8,303.3 607.5,308.0Z" stroke="#333" stroke-width="0.8" fill="#fff"/>
<line x1="596.0" y1="309.0" x2="599.0" y2="309.5" stroke="#333" stroke-width="0.8"/>
<path d="M599.5,325.5 Q599.8,330.2 595.9,332.9 Q592.4,336.1 587.9,334.8 Q583.2,334.0 581.4,329.6 Q579.2,325.5 581.4,321.4 Q583.2,317.0 587.9,316.2 Q592.4,314.9 595.9,318.1 Q599.8,320.8 599.5,325.5Z" stroke="#333" stroke-width="0.8" fill="#fff"/>
<line x1="588.0" y1="326.5" x2="591.0" y2="327.0" stroke="#333" stroke-width="0.8"/>
<path d="M592.0,343.0 Q592.3,347.7 588.4,350.4 Q584.9,353.6 580.4,352.3 Q575.7,351.5 573.9,347.1 Q571.7,343.0 573.9,338.9 Q575.7,334.5 580.4,333.7 Q584.9,332.4 588.4,335.6 Q592.3,338.3 592.0,343.0Z" stroke="#333" stroke-width="0.8" fill="#fff"/>
<line x1="580.5" y1="344.0" x2="583.5" y2="344.5" stroke="#333" stroke-width="0.8"/>
<circle cx="603.3" cy="231.5" r="31.2" stroke="#111" stroke-width="1.5" fill="none"/>
<circle cx="603.3" cy="231.5" r="2.5" fill="#111"/>
<circle cx="615.0" cy="213.0" r="11.0" stroke="#777" stroke-width="0.5" fill="none"/>
<circle cx="620.0" cy="236.0" r="10.0" stroke="#777" stroke-width="0.5" fill="none"/>
<circle cx="600.0" cy="264.0" r="9.0" stroke="#777" stroke-width="0.5" fill="none"/>
<rect x="-5" y="-5" width="10" height="10" transform="translate(603.5,246) rotate(45)" fill="none" stroke="#777" stroke-width="0.6"/>
<line x1="597.5" y1="246.0" x2="609.5" y2="246.0" stroke="#999" stroke-width="0.4"/>
<line x1="603.5" y1="240.0" x2="603.5" y2="252.0" stroke="#999" stroke-width="0.4"/>
<path d="M549,388 C556,385 562,375 566,353.6" stroke="#888" stroke-width="0.5" fill="none"/>
<circle cx="359.3" cy="530.5" r="7.5" fill="none" stroke="#111" stroke-width="2.6" stroke-dasharray="1.1 1.1" stroke-linecap="butt"/>
<circle cx="359.3" cy="530.5" r="6.6" stroke="#555" stroke-width="0.5" fill="none"/>
<line x1="359.3" y1="530.5" x2="365.2" y2="530.5" stroke="#666" stroke-width="0.4"/>
<line x1="359.3" y1="530.5" x2="364.1" y2="534.0" stroke="#666" stroke-width="0.4"/>
<line x1="359.3" y1="530.5" x2="361.1" y2="536.2" stroke="#666" stroke-width="0.4"/>
<line x1="359.3" y1="530.5" x2="357.4" y2="536.1" stroke="#666" stroke-width="0.4"/>
<line x1="359.3" y1="530.5" x2="354.5" y2="534.0" stroke="#666" stroke-width="0.4"/>
<line x1="359.3" y1="530.5" x2="353.4" y2="530.4" stroke="#666" stroke-width="0.4"/>
<line x1="359.3" y1="530.5" x2="354.5" y2="527.0" stroke="#666" stroke-width="0.4"/>
<line x1="359.3" y1="530.5" x2="357.5" y2="524.8" stroke="#666" stroke-width="0.4"/>
<line x1="359.3" y1="530.5" x2="361.2" y2="524.9" stroke="#666" stroke-width="0.4"/>
<line x1="359.3" y1="530.5" x2="364.2" y2="527.1" stroke="#666" stroke-width="0.4"/>
<circle cx="461.8" cy="529.8" r="7.5" fill="none" stroke="#111" stroke-width="2.6" stroke-dasharray="1.1 1.1" stroke-linecap="butt"/>
<circle cx="461.8" cy="529.8" r="6.6" stroke="#555" stroke-width="0.5" fill="none"/>
<line x1="461.8" y1="529.8" x2="467.8" y2="529.8" stroke="#666" stroke-width="0.4"/>
<line x1="461.8" y1="529.8" x2="466.6" y2="533.3" stroke="#666" stroke-width="0.4"/>
<line x1="461.8" y1="529.8" x2="463.6" y2="535.5" stroke="#666" stroke-width="0.4"/>
<line x1="461.8" y1="529.8" x2="459.9" y2="535.4" stroke="#666" stroke-width="0.4"/>
<line x1="461.8" y1="529.8" x2="457.0" y2="533.3" stroke="#666" stroke-width="0.4"/>
<line x1="461.8" y1="529.8" x2="455.9" y2="529.7" stroke="#666" stroke-width="0.4"/>
<line x1="461.8" y1="529.8" x2="457.0" y2="526.3" stroke="#666" stroke-width="0.4"/>
<line x1="461.8" y1="529.8" x2="460.0" y2="524.1" stroke="#666" stroke-width="0.4"/>
<line x1="461.8" y1="529.8" x2="463.7" y2="524.2" stroke="#666" stroke-width="0.4"/>
<line x1="461.8" y1="529.8" x2="466.7" y2="526.4" stroke="#666" stroke-width="0.4"/>
<rect x="368.5" y="523.5" width="8" height="8" rx="1.2" fill="#fff" stroke="#222" stroke-width="0.9"/>
<circle cx="372.5" cy="527.5" r="1.3" stroke="#666" stroke-width="0.5" fill="none"/>
<rect x="378.0" y="523.5" width="8" height="8" rx="1.2" fill="#fff" stroke="#222" stroke-width="0.9"/>
<circle cx="382.0" cy="527.5" r="1.3" stroke="#666" stroke-width="0.5" fill="none"/>
<rect x="387.8" y="523.5" width="8" height="8" rx="1.2" fill="#fff" stroke="#222" stroke-width="0.9"/>
<circle cx="391.8" cy="527.5" r="1.3" stroke="#666" stroke-width="0.5" fill="none"/>
<circle cx="402.1" cy="527.5" r="4.6" stroke="#222" stroke-width="0.9" fill="#fff"/>
<circle cx="402.1" cy="527.5" r="2.2" stroke="#888" stroke-width="0.4" fill="none"/>
<circle cx="411.0" cy="527.5" r="4.6" stroke="#222" stroke-width="0.9" fill="#fff"/>
<circle cx="411.0" cy="527.5" r="2.2" stroke="#888" stroke-width="0.4" fill="none"/>
<circle cx="419.9" cy="527.5" r="4.6" stroke="#222" stroke-width="0.9" fill="#fff"/>
<circle cx="419.9" cy="527.5" r="2.2" stroke="#888" stroke-width="0.4" fill="none"/>
<rect x="426.2" y="523.5" width="8" height="8" rx="1.2" fill="#fff" stroke="#222" stroke-width="0.9"/>
<circle cx="430.2" cy="527.5" r="1.3" stroke="#666" stroke-width="0.5" fill="none"/>
<rect x="435.7" y="523.5" width="8" height="8" rx="1.2" fill="#fff" stroke="#222" stroke-width="0.9"/>
<circle cx="439.7" cy="527.5" r="1.3" stroke="#666" stroke-width="0.5" fill="none"/>
<rect x="444.9" y="523.5" width="8" height="8" rx="1.2" fill="#fff" stroke="#222" stroke-width="0.9"/>
<circle cx="448.9" cy="527.5" r="1.3" stroke="#666" stroke-width="0.5" fill="none"/>
<circle cx="388.8" cy="536.6" r="2.5" stroke="#222" stroke-width="0.7" fill="#bbb"/>
<line x1="387.3" y1="535.1" x2="390.3" y2="538.1" stroke="#222" stroke-width="0.4"/>
<circle cx="396.2" cy="536.6" r="2.5" stroke="#222" stroke-width="0.7" fill="#bbb"/>
<line x1="394.7" y1="535.1" x2="397.7" y2="538.1" stroke="#222" stroke-width="0.4"/>
<circle cx="405.1" cy="536.6" r="2.5" stroke="#222" stroke-width="0.7" fill="#bbb"/>
<line x1="403.6" y1="535.1" x2="406.6" y2="538.1" stroke="#222" stroke-width="0.4"/>
<circle cx="414.0" cy="536.6" r="2.5" stroke="#222" stroke-width="0.7" fill="#bbb"/>
<line x1="412.5" y1="535.1" x2="415.5" y2="538.1" stroke="#222" stroke-width="0.4"/>
<circle cx="424.3" cy="536.6" r="2.5" stroke="#222" stroke-width="0.7" fill="#bbb"/>
<line x1="422.8" y1="535.1" x2="425.8" y2="538.1" stroke="#222" stroke-width="0.4"/>
<circle cx="433.2" cy="536.6" r="2.5" stroke="#222" stroke-width="0.7" fill="#bbb"/>
<line x1="431.7" y1="535.1" x2="434.7" y2="538.1" stroke="#222" stroke-width="0.4"/>
<path d="M503.4,495.5 L503.3,496.6 L504.6,497.8 L504.4,499.0 L504.0,500.1 L503.7,501.2 L503.3,502.2 L502.8,503.3 L502.4,504.3 L501.9,505.4 L501.3,506.4 L500.7,507.3 L500.0,508.3 L499.3,509.1 L497.3,508.8 L496.4,509.4 L496.6,511.2 L495.6,511.8 L494.5,512.3 L493.5,512.7 L492.5,513.1 L491.5,513.5 L490.4,513.9 L489.4,514.3 L488.4,514.7 L487.3,515.0 L486.2,515.4 L485.1,515.7 L484.0,514.3 L482.9,514.4 L481.7,516.0 L480.5,515.9 L479.4,515.6 L478.3,515.3 L477.2,514.9 L476.1,514.5 L475.1,514.0 L474.1,513.4 L473.1,512.8 L472.1,512.2 L471.1,511.6 L470.2,510.9 L470.4,509.1 L469.6,508.3 L467.7,508.5 L467.0,507.6 L466.4,506.6 L465.9,505.5 L465.5,504.4 L465.2,503.3 L465.0,502.2 L464.8,501.0 L464.7,499.9 L464.6,498.8 L464.5,497.7 L464.4,496.6 L466.0,495.5 L465.9,494.5 L464.3,493.3 L464.3,492.2 L464.4,491.0 L464.6,489.9 L464.9,488.8 L465.3,487.8 L465.8,486.7 L466.3,485.7 L466.9,484.8 L467.6,483.9 L468.3,483.0 L469.0,482.1 L470.8,482.3 L471.5,481.5 L471.2,479.5 L472.1,478.7 L472.9,477.9 L473.9,477.2 L474.9,476.5 L475.9,476.0 L477.0,475.6 L478.2,475.3 L479.3,475.1 L480.5,475.0 L481.7,475.0 L482.9,475.1 L484.0,476.9 L485.0,477.0 L486.2,475.6 L487.3,475.8 L488.4,476.1 L489.5,476.3 L490.6,476.6 L491.7,477.0 L492.7,477.4 L493.7,477.9 L494.7,478.5 L495.6,479.1 L496.5,479.9 L497.3,480.7 L496.9,482.6 L497.5,483.4 L499.4,483.2 L500.1,484.1 L500.7,485.0 L501.4,485.9 L502.1,486.8 L502.7,487.8 L503.3,488.8 L503.8,489.8 L504.3,490.9 L504.6,492.0 L504.9,493.1 L505.0,494.3Z" stroke="#111" stroke-width="1.8" fill="none"/>
<path d="M484,495.5 Q489.6,501.2 500.2,500.5" stroke="#999" stroke-width="0.4" fill="none"/>
<path d="M484,495.5 Q480.3,502.6 484.4,512.5" stroke="#999" stroke-width="0.4" fill="none"/>
<path d="M484,495.5 Q476.1,494.2 468.0,501.2" stroke="#999" stroke-width="0.4" fill="none"/>
<path d="M484,495.5 Q482.7,487.6 473.5,482.1" stroke="#999" stroke-width="0.4" fill="none"/>
<path d="M484,495.5 Q491.1,491.8 493.4,481.4" stroke="#999" stroke-width="0.4" fill="none"/>
<path d="M509.0,477.2 Q508.0,478.7 507.8,480.4 Q506.1,480.9 504.9,482.1 Q503.3,481.4 501.5,481.5 Q500.7,479.9 499.3,478.9 Q499.8,477.2 499.3,475.5 Q500.7,474.5 501.5,472.9 Q503.3,473.0 504.9,472.3 Q506.1,473.5 507.8,474.0 Q508.0,475.7 509.0,477.2Z" stroke="#333" stroke-width="0.8" fill="none"/>
<path d="M511.7,488.0 Q510.7,489.5 510.5,491.2 Q508.8,491.7 507.6,492.9 Q506.0,492.2 504.2,492.3 Q503.4,490.7 502.0,489.7 Q502.4,488.0 502.0,486.3 Q503.4,485.3 504.2,483.7 Q506.0,483.8 507.6,483.1 Q508.8,484.3 510.5,484.8 Q510.7,486.5 511.7,488.0Z" stroke="#333" stroke-width="0.8" fill="none"/>
<path d="M509.0,497.0 Q508.0,498.5 507.8,500.2 Q506.1,500.7 504.9,501.9 Q503.3,501.2 501.5,501.3 Q500.7,499.7 499.3,498.7 Q499.8,497.0 499.3,495.3 Q500.7,494.3 501.5,492.7 Q503.3,492.8 504.9,492.1 Q506.1,493.3 507.8,493.8 Q508.0,495.5 509.0,497.0Z" stroke="#333" stroke-width="0.8" fill="none"/>
<path d="M507.2,504.2 Q506.2,505.7 506.0,507.4 Q504.3,507.9 503.1,509.1 Q501.5,508.4 499.7,508.5 Q498.9,506.9 497.5,505.9 Q497.9,504.2 497.5,502.5 Q498.9,501.5 499.7,499.9 Q501.5,500.0 503.1,499.3 Q504.3,500.5 506.0,501.0 Q506.2,502.7 507.2,504.2Z" stroke="#333" stroke-width="0.8" fill="none"/>
<path d="M500.0,512.3 Q499.0,513.8 498.8,515.5 Q497.1,516.0 495.9,517.2 Q494.3,516.5 492.5,516.6 Q491.7,515.0 490.3,514.0 Q490.8,512.3 490.3,510.6 Q491.7,509.6 492.5,508.0 Q494.3,508.1 495.9,507.4 Q497.1,508.6 498.8,509.1 Q499.0,510.8 500.0,512.3Z" stroke="#333" stroke-width="0.8" fill="none"/>
<path d="M491.0,511.4 Q490.0,512.9 489.8,514.6 Q488.1,515.1 486.9,516.3 Q485.3,515.6 483.5,515.7 Q482.7,514.1 481.3,513.1 Q481.8,511.4 481.3,509.7 Q482.7,508.7 483.5,507.1 Q485.3,507.2 486.9,506.5 Q488.1,507.7 489.8,508.2 Q490.0,509.9 491.0,511.4Z" stroke="#333" stroke-width="0.8" fill="none"/>
<path d="M482.0,510.5 Q481.0,512.0 480.8,513.7 Q479.1,514.2 477.9,515.4 Q476.3,514.7 474.5,514.8 Q473.7,513.2 472.3,512.2 Q472.8,510.5 472.3,508.8 Q473.7,507.8 474.5,506.2 Q476.3,506.3 477.9,505.6 Q479.1,506.8 480.8,507.3 Q481.0,509.0 482.0,510.5Z" stroke="#333" stroke-width="0.8" fill="none"/>
<path d="M473.0,513.2 Q472.0,514.7 471.8,516.4 Q470.1,516.9 468.9,518.1 Q467.3,517.4 465.5,517.5 Q464.7,515.9 463.3,514.9 Q463.8,513.2 463.3,511.5 Q464.7,510.5 465.5,508.9 Q467.3,509.0 468.9,508.3 Q470.1,509.5 471.8,510.0 Q472.0,511.7 473.0,513.2Z" stroke="#333" stroke-width="0.8" fill="none"/>
<circle cx="476.0" cy="525.5" r="2.7" stroke="#333" stroke-width="0.7" fill="#777"/>
<circle cx="485.0" cy="524.0" r="2.7" stroke="#333" stroke-width="0.7" fill="#777"/>
<circle cx="491.0" cy="526.0" r="2.7" stroke="#333" stroke-width="0.7" fill="#777"/>
<circle cx="476.0" cy="533.4" r="2.7" stroke="#333" stroke-width="0.7" fill="#777"/>
<circle cx="482.0" cy="530.4" r="2.7" stroke="#333" stroke-width="0.7" fill="#777"/>
<path d="M350,561 C360,548 372,541 384.6,540 C400,538 420,537.5 437.9,537.2 C460,536 480,534 493.8,530.5" stroke="#555" stroke-width="0.6" fill="none"/>
<path d="M353,583 C360,565 375,548 400,535" stroke="#888" stroke-width="0.5" fill="none"/>
<circle cx="354.8" cy="543.8" r="2.6" stroke="#222" stroke-width="0.6" fill="#555"/>
<circle cx="363.7" cy="542.3" r="2.6" stroke="#222" stroke-width="0.6" fill="#555"/>
<circle cx="372.5" cy="537.8" r="2.6" stroke="#222" stroke-width="0.6" fill="#555"/>
<circle cx="362.2" cy="551.2" r="2.6" stroke="#222" stroke-width="0.6" fill="#555"/>
<circle cx="369.6" cy="548.2" r="2.6" stroke="#222" stroke-width="0.6" fill="#555"/>
<circle cx="354.5" cy="562.4" r="3.8" stroke="#111" stroke-width="1.2" fill="none"/>
<text x="265.7" y="152.4" font-size="4.5" fill="#555" text-anchor="start" textLength="59.1" lengthAdjust="spacingAndGlyphs">Evergreen Oat Grass (4)</text>
<line x1="326.0" y1="149.0" x2="335.5" y2="137.0" stroke="#555" stroke-width="0.5"/>
<text x="269.2" y="183.2" font-size="4.5" fill="#555" text-anchor="start" textLength="56.8" lengthAdjust="spacingAndGlyphs">Leatherleaf Viburnum (5)</text>
<text x="341.4" y="188.4" font-size="4.5" fill="#555" text-anchor="start" textLength="46.1" lengthAdjust="spacingAndGlyphs">Dwarf Fountain Grass (2)</text>
<line x1="388.7" y1="185.6" x2="399.4" y2="177.3" stroke="#555" stroke-width="0.5"/>
<text x="444.8" y="56.1" font-size="4.5" fill="#555" text-anchor="start" textLength="42.2" lengthAdjust="spacingAndGlyphs">Yankey Service (1)</text>
<line x1="488.4" y1="53.3" x2="499.5" y2="62.2" stroke="#555" stroke-width="0.5"/>
<text x="608.6" y="114.9" font-size="4.5" fill="#555" text-anchor="start" textLength="67.4" lengthAdjust="spacingAndGlyphs">Black Knight Butterfly Bush (1)</text>
<line x1="594.0" y1="112.6" x2="606.6" y2="112.6" stroke="#555" stroke-width="0.5"/>
<text x="608.6" y="123.2" font-size="4.5" fill="#555" text-anchor="start" textLength="46.0" lengthAdjust="spacingAndGlyphs">American Redbud (1)</text>
<line x1="596.7" y1="121.0" x2="606.6" y2="121.0" stroke="#555" stroke-width="0.5"/>
<text x="613.3" y="154.2" font-size="4.5" fill="#555" text-anchor="start" textLength="62.7" lengthAdjust="spacingAndGlyphs">Vanderwolf Pine Groundcover</text>
<line x1="599.3" y1="151.7" x2="611.3" y2="151.7" stroke="#555" stroke-width="0.5"/>
<text x="518.8" y="163.6" font-size="4.5" fill="#555" text-anchor="start" textLength="58.7" lengthAdjust="spacingAndGlyphs">Evergreen Oat Grass (4)</text>
<line x1="497.7" y1="154.6" x2="517.0" y2="161.3" stroke="#555" stroke-width="0.5"/>
<text x="517.0" y="177.9" font-size="4.5" fill="#555" text-anchor="start" textLength="51.0" lengthAdjust="spacingAndGlyphs">Annabelle Hydrangea (1)</text>
<line x1="494.0" y1="169.0" x2="515.0" y2="175.8" stroke="#555" stroke-width="0.5"/>
<text x="529.4" y="193.3" font-size="4.5" fill="#555" text-anchor="start" textLength="56.6" lengthAdjust="spacingAndGlyphs">White Rose of Sharon (3)</text>
<line x1="490.0" y1="190.8" x2="527.5" y2="191.0" stroke="#555" stroke-width="0.5"/>
<text x="612.3" y="333.3" font-size="4.5" fill="#555" text-anchor="start" textLength="43.6" lengthAdjust="spacingAndGlyphs">Quart Forsythia (6)</text>
<line x1="596.5" y1="323.8" x2="611.0" y2="330.4" stroke="#555" stroke-width="0.5"/>
<text x="605.8" y="371.0" font-size="4.5" fill="#555" text-anchor="start" textLength="68.6" lengthAdjust="spacingAndGlyphs">Emerald Green Arborvitae (4)</text>
<line x1="587.3" y1="363.4" x2="604.4" y2="367.9" stroke="#555" stroke-width="0.5"/>
<text x="379.7" y="386.9" font-size="4.5" fill="#555" text-anchor="start" textLength="41.7" lengthAdjust="spacingAndGlyphs">Pink Sea Thrift (10)</text>
<line x1="367.7" y1="384.3" x2="378.4" y2="384.3" stroke="#555" stroke-width="0.5"/>
<text x="379.7" y="395.7" font-size="4.5" fill="#555" text-anchor="start" textLength="70.9" lengthAdjust="spacingAndGlyphs">Candy Stripe Creeping Phlox (4)</text>
<line x1="367.7" y1="394.0" x2="378.4" y2="394.0" stroke="#555" stroke-width="0.5"/>
<text x="298.6" y="406.1" font-size="4.5" fill="#555" text-anchor="start" textLength="45.0" lengthAdjust="spacingAndGlyphs">Goldflame Spirea (3)</text>
<line x1="297.0" y1="403.0" x2="286.0" y2="396.0" stroke="#555" stroke-width="0.5"/>
<text x="288.0" y="411.6" font-size="4.5" fill="#555" text-anchor="start" textLength="30.8" lengthAdjust="spacingAndGlyphs">Maiden Grass (4)</text>
<line x1="287.0" y1="409.0" x2="272.0" y2="400.0" stroke="#555" stroke-width="0.5"/>
<text x="283.0" y="419.6" font-size="4.5" fill="#555" text-anchor="start" textLength="77.0" lengthAdjust="spacingAndGlyphs">Butterfly Bush Pinwheel Flower (5)</text>
<line x1="282.0" y1="417.0" x2="262.0" y2="402.0" stroke="#555" stroke-width="0.5"/>
<text x="80.0" y="442.6" font-size="4.5" fill="#555" text-anchor="start" textLength="65.0" lengthAdjust="spacingAndGlyphs">Coral Beauty Cotoneaster (5)</text>
<line x1="147.0" y1="440.5" x2="212.0" y2="440.5" stroke="#555" stroke-width="0.6"/>
<text x="503.0" y="534.8" font-size="4.5" fill="#555" text-anchor="start" textLength="41.8" lengthAdjust="spacingAndGlyphs">Kwanzan Cherry (1)</text>
<line x1="499.5" y1="530.6" x2="501.7" y2="532.0" stroke="#555" stroke-width="0.5"/>
<text x="483.7" y="543.7" font-size="4.5" fill="#555" text-anchor="start" textLength="45.3" lengthAdjust="spacingAndGlyphs">Goldflame Spirea (6)</text>
<line x1="479.4" y1="538.5" x2="483.0" y2="541.4" stroke="#555" stroke-width="0.5"/>
<text x="464.5" y="552.1" font-size="4.5" fill="#555" text-anchor="start" textLength="51.9" lengthAdjust="spacingAndGlyphs">Annabelle Hydrangea (3)</text>
<line x1="460.5" y1="537.0" x2="460.5" y2="550.5" stroke="#555" stroke-width="0.5"/>
<text x="432.5" y="559.5" font-size="4.5" fill="#555" text-anchor="start" textLength="63.9" lengthAdjust="spacingAndGlyphs">Green Mountain Boxwood (5)</text>
<line x1="430.0" y1="537.0" x2="430.0" y2="558.5" stroke="#555" stroke-width="0.5"/>
<text x="422.0" y="568.6" font-size="4.5" fill="#555" text-anchor="start" textLength="38.0" lengthAdjust="spacingAndGlyphs">Knockout Rose (3)</text>
<line x1="420.5" y1="537.0" x2="420.5" y2="567.0" stroke="#555" stroke-width="0.5"/>
<text x="416.5" y="577.3" font-size="4.5" fill="#555" text-anchor="start" textLength="79.9" lengthAdjust="spacingAndGlyphs">Butterfly Bush Pinwheel Flower (6)</text>
<line x1="415.2" y1="537.0" x2="415.2" y2="575.0" stroke="#555" stroke-width="0.5"/>
<text x="373.4" y="587.1" font-size="4.5" fill="#555" text-anchor="start" textLength="37.6" lengthAdjust="spacingAndGlyphs">Pink Sea Thrift (10)</text>
<line x1="372.0" y1="545.0" x2="372.0" y2="585.5" stroke="#555" stroke-width="0.5"/>
<text x="115.9" y="579.6" font-size="4.5" fill="#555" text-anchor="start" textLength="68.7" lengthAdjust="spacingAndGlyphs">Emerald N Gold Euonymus (12)</text>
<line x1="186.9" y1="577.3" x2="258.0" y2="577.3" stroke="#555" stroke-width="0.6"/>
<text x="143.1" y="593.8" font-size="4.5" fill="#555" text-anchor="start" textLength="41.5" lengthAdjust="spacingAndGlyphs">Knockout Rose (6)</text>
<line x1="186.9" y1="591.5" x2="260.0" y2="591.5" stroke="#555" stroke-width="0.6"/>
<text x="133.7" y="609.2" font-size="4.5" fill="#555" text-anchor="start" textLength="50.9" lengthAdjust="spacingAndGlyphs">Nikko Angel Vase (7)</text>
<line x1="186.9" y1="606.9" x2="306.0" y2="606.9" stroke="#555" stroke-width="0.6"/>
<text x="164.4" y="652.3" font-size="4.5" fill="#555" text-anchor="start" textLength="29.6" lengthAdjust="spacingAndGlyphs">Red Maple (1)</text>
<line x1="196.4" y1="650.2" x2="280.0" y2="652.0" stroke="#555" stroke-width="0.6"/>
<text x="128.9" y="660.1" font-size="4.5" fill="#555" text-anchor="start" textLength="65.1" lengthAdjust="spacingAndGlyphs">Coral Beauty Cotoneaster (9)</text>
<line x1="196.4" y1="657.8" x2="268.0" y2="657.8" stroke="#555" stroke-width="0.6"/>
<text x="367.5" y="712.1" font-size="4.5" fill="#555" text-anchor="start" textLength="37.2" lengthAdjust="spacingAndGlyphs">Nikko Deutzia (4)</text>
<line x1="365.7" y1="709.4" x2="348.0" y2="682.4" stroke="#555" stroke-width="0.5"/>
<text x="358.6" y="719.6" font-size="4.5" fill="#555" text-anchor="start" textLength="50.6" lengthAdjust="spacingAndGlyphs">Annabelle Hydrangea (1)</text>
<line x1="356.8" y1="716.5" x2="339.0" y2="686.0" stroke="#555" stroke-width="0.5"/>
<text x="340.8" y="731.1" font-size="4.5" fill="#555" text-anchor="start" textLength="42.6" lengthAdjust="spacingAndGlyphs">Pink Sea Thrift (12)</text>
<line x1="339.0" y1="727.7" x2="321.3" y2="696.6" stroke="#555" stroke-width="0.5"/>
<text x="324.0" y="743.5" font-size="4.5" fill="#555" text-anchor="start" textLength="79.9" lengthAdjust="spacingAndGlyphs">Butterfly Bush Pinwheel Flower (6)</text>
<line x1="322.2" y1="740.0" x2="301.8" y2="702.0" stroke="#555" stroke-width="0.5"/>
<path d="M275.8,392.3 Q275.0,393.7 275.0,395.4 Q273.5,396.2 272.7,397.7 Q271.0,397.7 269.6,398.5 Q268.2,397.7 266.5,397.7 Q265.7,396.2 264.2,395.4 Q264.2,393.7 263.4,392.3 Q264.2,390.9 264.2,389.2 Q265.7,388.4 266.5,386.9 Q268.2,386.9 269.6,386.1 Q271.0,386.9 272.7,386.9 Q273.5,388.4 275.0,389.2 Q275.0,390.9 275.8,392.3Z" stroke="#222" stroke-width="1.0" fill="#fff"/>
<line x1="266.6" y1="389.0" x2="272.6" y2="395.5" stroke="#777" stroke-width="0.4"/>
<path d="M289.1,392.3 Q288.3,393.7 288.3,395.4 Q286.8,396.2 286.0,397.7 Q284.3,397.7 282.9,398.5 Q281.5,397.7 279.8,397.7 Q279.0,396.2 277.5,395.4 Q277.5,393.7 276.7,392.3 Q277.5,390.9 277.5,389.2 Q279.0,388.4 279.8,386.9 Q281.5,386.9 282.9,386.1 Q284.3,386.9 286.0,386.9 Q286.8,388.4 288.3,389.2 Q288.3,390.9 289.1,392.3Z" stroke="#222" stroke-width="1.0" fill="#fff"/>
<line x1="279.9" y1="389.0" x2="285.9" y2="395.5" stroke="#777" stroke-width="0.4"/>
<path d="M302.4,392.3 Q301.6,393.7 301.6,395.4 Q300.1,396.2 299.3,397.7 Q297.6,397.7 296.2,398.5 Q294.8,397.7 293.1,397.7 Q292.3,396.2 290.8,395.4 Q290.8,393.7 290.0,392.3 Q290.8,390.9 290.8,389.2 Q292.3,388.4 293.1,386.9 Q294.8,386.9 296.2,386.1 Q297.6,386.9 299.3,386.9 Q300.1,388.4 301.6,389.2 Q301.6,390.9 302.4,392.3Z" stroke="#222" stroke-width="1.0" fill="#fff"/>
<line x1="293.2" y1="389.0" x2="299.2" y2="395.5" stroke="#777" stroke-width="0.4"/>
<path d="M248.7,385.6 Q248.8,387.3 247.5,389.2 Q246.1,391.1 244.0,391.1 Q241.9,391.1 240.4,389.7 Q238.9,388.2 238.6,386.4 Q238.3,384.7 239.1,383.4 Q239.8,382.2 242.4,381.9 Q245.0,381.7 246.7,382.8 Q248.5,383.9 248.7,385.6Z" stroke="#111" stroke-width="1.4040000000000001" fill="#f0f0f0"/>
<circle cx="243.7" cy="383.9" r="0.4" fill="#777"/>
<circle cx="244.4" cy="388.7" r="0.4" fill="#777"/>
<circle cx="245.7" cy="385.3" r="0.4" fill="#777"/>
<circle cx="244.4" cy="384.6" r="0.4" fill="#777"/>
<path d="M240.9,385.9 Q243.6,386.3 243.0,383.6" stroke="#999" stroke-width="0.4" fill="none"/>
<circle cx="256.3" cy="383.6" r="5.3" stroke="#222" stroke-width="1.2" fill="#fff"/>
<circle cx="256.3" cy="383.6" r="3.5" stroke="#555" stroke-width="0.5" fill="none"/>
<circle cx="252.3" cy="391.6" r="2.5" stroke="#333" stroke-width="0.8" fill="none"/>
<circle cx="259.6" cy="400.3" r="2.6" stroke="#222" stroke-width="1.0" fill="#777"/>
<path d="M250.5,418.6 Q250.4,420.6 249.3,422.0 Q248.3,423.4 246.4,423.7 Q244.4,423.9 242.8,423.0 Q241.1,422.1 240.9,419.7 Q240.7,417.4 241.9,415.9 Q243.1,414.4 244.9,414.1 Q246.7,413.8 248.6,415.2 Q250.5,416.6 250.5,418.6Z" stroke="#111" stroke-width="1.4040000000000001" fill="#f0f0f0"/>
<circle cx="245.5" cy="420.6" r="0.4" fill="#777"/>
<circle cx="247.0" cy="418.9" r="0.4" fill="#777"/>
<circle cx="243.9" cy="418.0" r="0.4" fill="#777"/>
<circle cx="244.4" cy="418.4" r="0.4" fill="#777"/>
<path d="M248.0,417.6 Q245.6,419.0 247.7,420.7" stroke="#999" stroke-width="0.4" fill="none"/>
<circle cx="238.3" cy="409.0" r="3.0" stroke="#333" stroke-width="0.8" fill="none"/>
<circle cx="262.0" cy="410.0" r="1.8" stroke="#444" stroke-width="0.6" fill="none"/>
<circle cx="266.0" cy="407.0" r="1.8" stroke="#444" stroke-width="0.6" fill="none"/>
<circle cx="249.0" cy="404.0" r="1.8" stroke="#444" stroke-width="0.6" fill="none"/>
<circle cx="253.0" cy="410.0" r="1.8" stroke="#444" stroke-width="0.6" fill="none"/>
<line x1="252.0" y1="372.0" x2="258.0" y2="378.0" stroke="#333" stroke-width="0.9"/>
<line x1="303.3" y1="378.0" x2="369.0" y2="378.0" stroke="#444" stroke-width="0.7"/>
<line x1="303.3" y1="397.0" x2="369.0" y2="397.0" stroke="#444" stroke-width="0.7"/>
<circle cx="309.0" cy="384.0" r="3.4" stroke="#222" stroke-width="1.0" fill="#666"/>
<circle cx="308.0" cy="383.0" r="1.2" stroke="#ddd" stroke-width="0.4" fill="none"/>
<circle cx="315.0" cy="381.0" r="3.4" stroke="#222" stroke-width="1.0" fill="#666"/>
<circle cx="314.0" cy="380.0" r="1.2" stroke="#ddd" stroke-width="0.4" fill="none"/>
<circle cx="321.0" cy="385.0" r="3.4" stroke="#222" stroke-width="1.0" fill="#666"/>
<circle cx="320.0" cy="384.0" r="1.2" stroke="#ddd" stroke-width="0.4" fill="none"/>
<circle cx="311.0" cy="391.0" r="3.4" stroke="#222" stroke-width="1.0" fill="#666"/>
<circle cx="310.0" cy="390.0" r="1.2" stroke="#ddd" stroke-width="0.4" fill="none"/>
<circle cx="318.0" cy="392.0" r="3.4" stroke="#222" stroke-width="1.0" fill="#666"/>
<circle cx="317.0" cy="391.0" r="1.2" stroke="#ddd" stroke-width="0.4" fill="none"/>
<circle cx="324.0" cy="390.0" r="3.4" stroke="#222" stroke-width="1.0" fill="#666"/>
<circle cx="323.0" cy="389.0" r="1.2" stroke="#ddd" stroke-width="0.4" fill="none"/>
<circle cx="350.0" cy="383.0" r="3.4" stroke="#222" stroke-width="1.0" fill="#666"/>
<circle cx="349.0" cy="382.0" r="1.2" stroke="#ddd" stroke-width="0.4" fill="none"/>
<circle cx="356.0" cy="380.0" r="3.4" stroke="#222" stroke-width="1.0" fill="#666"/>
<circle cx="355.0" cy="379.0" r="1.2" stroke="#ddd" stroke-width="0.4" fill="none"/>
<circle cx="362.0" cy="384.0" r="3.4" stroke="#222" stroke-width="1.0" fill="#666"/>
<circle cx="361.0" cy="383.0" r="1.2" stroke="#ddd" stroke-width="0.4" fill="none"/>
<circle cx="352.0" cy="391.0" r="3.4" stroke="#222" stroke-width="1.0" fill="#666"/>
<circle cx="351.0" cy="390.0" r="1.2" stroke="#ddd" stroke-width="0.4" fill="none"/>
<circle cx="359.0" cy="392.0" r="3.4" stroke="#222" stroke-width="1.0" fill="#666"/>
<circle cx="358.0" cy="391.0" r="1.2" stroke="#ddd" stroke-width="0.4" fill="none"/>
<circle cx="365.0" cy="390.0" r="3.4" stroke="#222" stroke-width="1.0" fill="#666"/>
<circle cx="364.0" cy="389.0" r="1.2" stroke="#ddd" stroke-width="0.4" fill="none"/>
<circle cx="307.0" cy="395.0" r="1.6" stroke="#222" stroke-width="0.6" fill="none"/>
<circle cx="312.0" cy="395.5" r="1.6" stroke="#222" stroke-width="0.6" fill="none"/>
<circle cx="317.0" cy="395.5" r="1.6" stroke="#222" stroke-width="0.6" fill="none"/>
<circle cx="322.0" cy="395.0" r="1.6" stroke="#222" stroke-width="0.6" fill="none"/>
<circle cx="350.0" cy="395.0" r="1.6" stroke="#222" stroke-width="0.6" fill="none"/>
<circle cx="355.0" cy="395.5" r="1.6" stroke="#222" stroke-width="0.6" fill="none"/>
<circle cx="360.0" cy="395.5" r="1.6" stroke="#222" stroke-width="0.6" fill="none"/>
<circle cx="365.0" cy="395.0" r="1.6" stroke="#222" stroke-width="0.6" fill="none"/>
<rect x="329.4" y="387.5" width="13.6" height="7" fill="#eee" stroke="#444" stroke-width="0.6"/>
<line x1="329.4" y1="380.5" x2="344.0" y2="380.5" stroke="#555" stroke-width="0.6"/>
<line x1="329.4" y1="383.5" x2="344.0" y2="383.5" stroke="#555" stroke-width="0.6"/>
<line x1="331.0" y1="390.0" x2="341.0" y2="390.0" stroke="#888" stroke-width="0.4"/>
<line x1="331.0" y1="392.5" x2="341.0" y2="392.5" stroke="#888" stroke-width="0.4"/>
<path d="M183,528 C193,519 205,515 230,515" stroke="#555" stroke-width="0.7" fill="none"/>
<circle cx="330.0" cy="135.0" r="0.8" fill="#333"/>
<line x1="328.2" y1="135.0" x2="331.8" y2="135.0" stroke="#333" stroke-width="0.6"/>
<line x1="328.7" y1="133.7" x2="331.3" y2="136.3" stroke="#333" stroke-width="0.6"/>
<line x1="330.0" y1="133.2" x2="330.0" y2="136.8" stroke="#333" stroke-width="0.6"/>
<line x1="331.3" y1="133.7" x2="328.7" y2="136.3" stroke="#333" stroke-width="0.6"/>
<circle cx="336.0" cy="137.0" r="0.8" fill="#333"/>
<line x1="334.2" y1="137.0" x2="337.8" y2="137.0" stroke="#333" stroke-width="0.6"/>
<line x1="334.7" y1="135.7" x2="337.3" y2="138.3" stroke="#333" stroke-width="0.6"/>
<line x1="336.0" y1="135.2" x2="336.0" y2="138.8" stroke="#333" stroke-width="0.6"/>
<line x1="337.3" y1="135.7" x2="334.7" y2="138.3" stroke="#333" stroke-width="0.6"/>
<circle cx="343.0" cy="135.0" r="0.8" fill="#333"/>
<line x1="341.2" y1="135.0" x2="344.8" y2="135.0" stroke="#333" stroke-width="0.6"/>
<line x1="341.7" y1="133.7" x2="344.3" y2="136.3" stroke="#333" stroke-width="0.6"/>
<line x1="343.0" y1="133.2" x2="343.0" y2="136.8" stroke="#333" stroke-width="0.6"/>
<line x1="344.3" y1="133.7" x2="341.7" y2="136.3" stroke="#333" stroke-width="0.6"/>
<path d="M391.4,154.0 Q390.1,155.5 390.3,157.5 Q388.3,158.0 387.3,159.7 Q385.4,158.9 383.5,159.7 Q382.5,158.0 380.5,157.5 Q380.7,155.5 379.4,154.0 Q380.7,152.5 380.5,150.5 Q382.5,150.0 383.5,148.3 Q385.4,149.1 387.3,148.3 Q388.3,150.0 390.3,150.5 Q390.1,152.5 391.4,154.0Z" stroke="#333" stroke-width="0.8" fill="#fff"/>
<circle cx="391.3" cy="141.0" r="3.5" stroke="#222" stroke-width="1.0" fill="none"/>
<line x1="392.0" y1="156.0" x2="399.0" y2="152.0" stroke="#666" stroke-width="0.5"/>
<line x1="395.0" y1="157.0" x2="402.0" y2="153.0" stroke="#666" stroke-width="0.5"/>
<line x1="398.0" y1="158.0" x2="405.0" y2="154.0" stroke="#666" stroke-width="0.5"/>
<line x1="152.5" y1="195.3" x2="293.2" y2="707.9" stroke="#444" stroke-width="0.7"/>
<line x1="183.5" y1="277.7" x2="301.8" y2="706.5" stroke="#444" stroke-width="0.7"/>
<line x1="484.0" y1="296.5" x2="528.0" y2="296.5" stroke="#666" stroke-width="0.6"/>
<line x1="484.0" y1="299.0" x2="528.0" y2="299.0" stroke="#666" stroke-width="0.6"/>
<line x1="528.0" y1="296.5" x2="528.0" y2="304.6" stroke="#666" stroke-width="0.6"/>
<line x1="531.5" y1="299.5" x2="545.0" y2="299.5" stroke="#666" stroke-width="0.5"/>
<line x1="531.5" y1="301.5" x2="545.0" y2="301.5" stroke="#666" stroke-width="0.5"/>
<line x1="531.5" y1="303.5" x2="545.0" y2="303.5" stroke="#666" stroke-width="0.5"/>
<line x1="530.5" y1="243.5" x2="530.5" y2="298.4" stroke="#444" stroke-width="0.6"/>
<path d="M300,137 C320,134 340,133 350,137 C360,145 372,158 388,164" stroke="#aaa" stroke-width="0.5" fill="none"/>
<path d="M280.5,224.2 L280.7,225.4 L282.4,226.8 L282.4,228.1 L282.2,229.4 L281.9,230.7 L281.5,232.0 L281.0,233.2 L280.5,234.4 L279.8,235.5 L279.1,236.6 L278.4,237.7 L277.6,238.7 L276.8,239.8 L274.8,239.7 L274.0,240.6 L274.3,242.7 L273.4,243.6 L272.5,244.5 L271.4,245.3 L270.4,246.0 L269.2,246.6 L268.1,247.1 L266.8,247.6 L265.6,247.9 L264.4,248.2 L263.1,248.4 L261.8,248.5 L260.3,247.0 L259.2,247.1 L258.1,248.7 L256.9,248.8 L255.7,248.8 L254.4,248.9 L253.2,248.9 L251.9,248.9 L250.7,248.9 L249.4,248.7 L248.1,248.5 L246.9,248.2 L245.6,247.8 L244.5,247.3 L244.1,245.3 L243.1,244.6 L241.2,245.2 L240.2,244.4 L239.2,243.5 L238.3,242.7 L237.4,241.7 L236.5,240.8 L235.7,239.8 L234.8,238.8 L234.0,237.8 L233.3,236.7 L232.6,235.6 L232.0,234.5 L233.0,232.7 L232.6,231.5 L230.8,230.7 L230.6,229.4 L230.6,228.1 L230.6,226.8 L230.7,225.5 L230.9,224.2 L231.2,222.9 L231.4,221.7 L231.7,220.5 L232.0,219.3 L232.3,218.1 L232.6,216.9 L234.4,216.2 L234.8,215.1 L233.7,213.3 L234.2,212.1 L234.7,211.0 L235.3,209.9 L236.0,208.8 L236.8,207.8 L237.7,206.9 L238.6,206.0 L239.5,205.2 L240.5,204.4 L241.5,203.7 L242.6,203.0 L244.4,203.6 L245.4,203.0 L245.8,200.9 L246.9,200.3 L248.0,199.6 L249.2,199.1 L250.4,198.6 L251.7,198.2 L253.0,197.8 L254.3,197.7 L255.6,197.6 L257.0,197.7 L258.3,197.8 L259.6,198.1 L260.6,200.1 L261.7,200.5 L263.3,199.5 L264.4,200.0 L265.6,200.6 L266.7,201.1 L267.8,201.7 L268.9,202.3 L270.0,203.0 L271.1,203.7 L272.1,204.4 L273.1,205.2 L274.1,206.0 L274.9,206.9 L274.5,208.9 L275.2,209.9 L277.1,210.0 L277.7,211.1 L278.2,212.3 L278.7,213.4 L279.2,214.6 L279.6,215.7 L280.0,216.9 L280.4,218.1 L280.8,219.2 L281.2,220.4 L281.6,221.7 L281.9,222.9Z" stroke="#111" stroke-width="1.7" fill="none"/>
<path d="M253.7,238.7 L253.6,239.9 L255.0,241.2 L254.8,242.4 L254.6,243.6 L254.4,244.8 L254.2,246.0 L254.0,247.3 L253.7,248.5 L253.4,249.8 L253.0,251.0 L252.5,252.2 L252.0,253.4 L251.3,254.5 L249.3,254.6 L248.5,255.5 L248.8,257.5 L247.8,258.4 L246.7,259.2 L245.6,259.9 L244.5,260.5 L243.3,261.1 L242.2,261.7 L241.0,262.2 L239.8,262.8 L238.6,263.2 L237.4,263.7 L236.2,264.1 L234.6,262.8 L233.4,263.0 L232.3,264.7 L231.0,264.7 L229.8,264.6 L228.5,264.4 L227.2,264.1 L226.0,263.7 L224.8,263.2 L223.6,262.7 L222.5,262.2 L221.4,261.7 L220.3,261.1 L219.2,260.6 L218.9,258.7 L217.8,258.1 L215.9,258.9 L214.8,258.3 L213.7,257.6 L212.7,256.9 L211.7,256.1 L210.7,255.2 L209.9,254.3 L209.1,253.2 L208.4,252.2 L207.8,251.0 L207.2,249.9 L206.7,248.7 L207.8,246.9 L207.4,245.8 L205.5,245.0 L205.1,243.8 L204.8,242.6 L204.5,241.3 L204.3,240.0 L204.1,238.7 L204.0,237.4 L204.1,236.1 L204.2,234.7 L204.4,233.4 L204.8,232.2 L205.3,230.9 L207.4,230.3 L208.0,229.3 L207.2,227.6 L208.0,226.5 L208.8,225.5 L209.7,224.6 L210.5,223.6 L211.3,222.7 L212.2,221.8 L213.0,220.9 L213.9,220.0 L214.8,219.1 L215.7,218.3 L216.7,217.5 L218.5,218.2 L219.6,217.6 L220.0,215.6 L221.1,215.1 L222.3,214.7 L223.6,214.4 L224.8,214.1 L226.0,213.9 L227.3,213.8 L228.5,213.6 L229.8,213.5 L231.0,213.4 L232.3,213.3 L233.6,213.3 L234.6,214.8 L235.8,214.9 L237.5,213.4 L238.8,213.7 L240.1,214.0 L241.3,214.5 L242.5,215.0 L243.7,215.7 L244.8,216.5 L245.8,217.3 L246.7,218.3 L247.6,219.2 L248.4,220.2 L249.2,221.3 L248.7,223.3 L249.4,224.3 L251.4,224.4 L252.1,225.5 L252.7,226.5 L253.3,227.7 L253.9,228.8 L254.4,230.0 L254.8,231.2 L255.1,232.4 L255.3,233.7 L255.5,234.9 L255.5,236.2 L255.4,237.5Z" stroke="#111" stroke-width="1.7" fill="none"/>
<path d="M266.3,260.4 L266.4,261.6 L268.0,262.9 L268.0,264.2 L268.0,265.5 L268.0,266.8 L267.8,268.1 L267.6,269.4 L267.3,270.7 L266.9,272.0 L266.3,273.2 L265.7,274.4 L264.9,275.5 L264.1,276.5 L261.9,276.5 L261.0,277.3 L261.2,279.3 L260.2,280.1 L259.2,280.9 L258.1,281.7 L257.0,282.4 L255.9,283.1 L254.8,283.8 L253.6,284.4 L252.4,285.0 L251.2,285.4 L250.0,285.8 L248.7,286.1 L247.1,284.7 L245.8,284.7 L244.7,286.2 L243.4,286.1 L242.2,285.9 L240.9,285.6 L239.7,285.4 L238.5,285.1 L237.2,284.7 L236.0,284.4 L234.8,284.1 L233.6,283.8 L232.4,283.5 L231.2,283.1 L230.8,281.2 L229.6,280.8 L227.6,281.5 L226.5,280.8 L225.4,280.1 L224.5,279.2 L223.5,278.3 L222.7,277.3 L221.9,276.2 L221.2,275.1 L220.5,274.0 L219.9,272.9 L219.2,271.7 L218.7,270.6 L219.6,268.8 L219.1,267.7 L217.1,266.9 L216.7,265.7 L216.3,264.4 L216.1,263.1 L215.9,261.7 L215.9,260.4 L216.0,259.1 L216.3,257.7 L216.6,256.5 L217.1,255.2 L217.6,254.0 L218.1,252.8 L220.2,252.2 L220.8,251.1 L220.0,249.4 L220.6,248.3 L221.3,247.3 L221.9,246.2 L222.6,245.1 L223.3,244.1 L224.1,243.0 L224.9,242.1 L225.8,241.1 L226.7,240.3 L227.7,239.5 L228.8,238.7 L230.7,239.5 L231.8,239.0 L232.3,237.0 L233.4,236.6 L234.7,236.2 L235.9,235.8 L237.1,235.4 L238.3,235.0 L239.6,234.7 L240.9,234.4 L242.1,234.1 L243.5,233.9 L244.8,233.8 L246.1,233.8 L247.2,235.4 L248.5,235.6 L250.1,234.4 L251.4,234.8 L252.6,235.4 L253.8,236.1 L254.9,236.8 L256.0,237.6 L257.0,238.4 L258.0,239.3 L258.9,240.2 L259.9,241.1 L260.8,242.0 L261.7,242.9 L261.3,244.9 L262.1,245.8 L264.2,245.8 L264.9,246.9 L265.5,248.0 L266.1,249.2 L266.6,250.4 L267.0,251.6 L267.3,252.9 L267.5,254.1 L267.6,255.4 L267.7,256.6 L267.8,257.9 L267.9,259.1Z" stroke="#111" stroke-width="1.7" fill="none"/>
</svg></body></html>
